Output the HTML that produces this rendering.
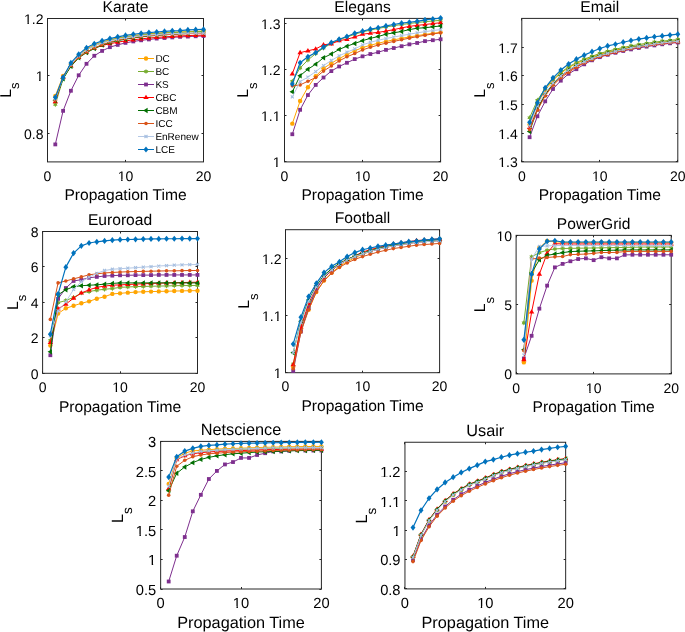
<!DOCTYPE html>
<html><head><meta charset="utf-8"><style>
html,body{margin:0;padding:0;background:#fff;overflow:hidden}
svg{display:block;will-change:transform;opacity:0.999}
.t{font-family:"Liberation Sans",sans-serif;font-size:14px;fill:#000;text-rendering:geometricPrecision}
.l{font-family:"Liberation Sans",sans-serif;font-size:15.7px;fill:#000}
.g{font-family:"Liberation Sans",sans-serif;font-size:10.2px;fill:#000}
</style></head><body>
<svg width="685" height="632" viewBox="0 0 685 632">
<rect width="685" height="632" fill="#fff"/>
<defs><clipPath id="cKarate"><rect x="43.5" y="14.5" width="164.0" height="151.4"/></clipPath></defs>
<rect x="47.5" y="18.5" width="156.0" height="143.4" fill="none" stroke="#262626" stroke-width="1"/>
<path d="M47.50,161.9v-2.0M47.50,18.5v2.0M125.50,161.9v-2.0M125.50,18.5v2.0M203.50,161.9v-2.0M203.50,18.5v2.0M47.5,133.50h2.0M203.5,133.50h-2.0M47.5,75.50h2.0M203.5,75.50h-2.0M47.5,18.50h2.0M203.5,18.50h-2.0" stroke="#262626" stroke-width="1" fill="none"/>
<g clip-path="url(#cKarate)">
<polyline points="55.30,95.94 63.10,75.86 70.90,64.39 78.70,55.78 86.50,49.19 94.30,44.89 102.10,42.02 109.90,39.72 117.70,38.00 125.50,36.57 133.30,35.42 141.10,34.56 148.90,33.70 156.70,33.13 164.50,32.55 172.30,32.27 180.10,31.98 187.90,31.69 195.70,31.41 203.50,31.12" fill="none" stroke="#FFA500" stroke-width="1.0" stroke-linejoin="round"/>
<circle cx="55.30" cy="95.94" r="2.2" fill="#FFA500"/>
<circle cx="63.10" cy="75.86" r="2.2" fill="#FFA500"/>
<circle cx="70.90" cy="64.39" r="2.2" fill="#FFA500"/>
<circle cx="78.70" cy="55.78" r="2.2" fill="#FFA500"/>
<circle cx="86.50" cy="49.19" r="2.2" fill="#FFA500"/>
<circle cx="94.30" cy="44.89" r="2.2" fill="#FFA500"/>
<circle cx="102.10" cy="42.02" r="2.2" fill="#FFA500"/>
<circle cx="109.90" cy="39.72" r="2.2" fill="#FFA500"/>
<circle cx="117.70" cy="38.00" r="2.2" fill="#FFA500"/>
<circle cx="125.50" cy="36.57" r="2.2" fill="#FFA500"/>
<circle cx="133.30" cy="35.42" r="2.2" fill="#FFA500"/>
<circle cx="141.10" cy="34.56" r="2.2" fill="#FFA500"/>
<circle cx="148.90" cy="33.70" r="2.2" fill="#FFA500"/>
<circle cx="156.70" cy="33.13" r="2.2" fill="#FFA500"/>
<circle cx="164.50" cy="32.55" r="2.2" fill="#FFA500"/>
<circle cx="172.30" cy="32.27" r="2.2" fill="#FFA500"/>
<circle cx="180.10" cy="31.98" r="2.2" fill="#FFA500"/>
<circle cx="187.90" cy="31.69" r="2.2" fill="#FFA500"/>
<circle cx="195.70" cy="31.41" r="2.2" fill="#FFA500"/>
<circle cx="203.50" cy="31.12" r="2.2" fill="#FFA500"/>
<polyline points="55.30,104.54 63.10,78.73 70.90,65.82 78.70,57.22 86.50,50.05 94.30,45.75 102.10,42.88 109.90,40.30 117.70,38.58 125.50,37.14 133.30,35.99 141.10,35.13 148.90,34.27 156.70,33.70 164.50,33.13 172.30,32.55 180.10,32.27 187.90,31.98 195.70,31.69 203.50,31.41" fill="none" stroke="#77AC30" stroke-width="1.0" stroke-linejoin="round"/>
<polygon points="55.30,101.94 54.55,103.24 53.05,103.24 53.80,104.54 53.05,105.84 54.55,105.84 55.30,107.14 56.05,105.84 57.55,105.84 56.80,104.54 57.55,103.24 56.05,103.24" fill="#77AC30"/>
<polygon points="63.10,76.13 62.35,77.43 60.85,77.43 61.60,78.73 60.85,80.03 62.35,80.03 63.10,81.33 63.85,80.03 65.35,80.03 64.60,78.73 65.35,77.43 63.85,77.43" fill="#77AC30"/>
<polygon points="70.90,63.22 70.15,64.52 68.65,64.52 69.40,65.82 68.65,67.12 70.15,67.12 70.90,68.42 71.65,67.12 73.15,67.12 72.40,65.82 73.15,64.52 71.65,64.52" fill="#77AC30"/>
<polygon points="78.70,54.62 77.95,55.92 76.45,55.92 77.20,57.22 76.45,58.52 77.95,58.52 78.70,59.82 79.45,58.52 80.95,58.52 80.20,57.22 80.95,55.92 79.45,55.92" fill="#77AC30"/>
<polygon points="86.50,47.45 85.75,48.75 84.25,48.75 85.00,50.05 84.25,51.35 85.75,51.35 86.50,52.65 87.25,51.35 88.75,51.35 88.00,50.05 88.75,48.75 87.25,48.75" fill="#77AC30"/>
<polygon points="94.30,43.15 93.55,44.45 92.05,44.45 92.80,45.75 92.05,47.05 93.55,47.05 94.30,48.35 95.05,47.05 96.55,47.05 95.80,45.75 96.55,44.45 95.05,44.45" fill="#77AC30"/>
<polygon points="102.10,40.28 101.35,41.58 99.85,41.58 100.60,42.88 99.85,44.18 101.35,44.18 102.10,45.48 102.85,44.18 104.35,44.18 103.60,42.88 104.35,41.58 102.85,41.58" fill="#77AC30"/>
<polygon points="109.90,37.70 109.15,39.00 107.65,39.00 108.40,40.30 107.65,41.60 109.15,41.60 109.90,42.90 110.65,41.60 112.15,41.60 111.40,40.30 112.15,39.00 110.65,39.00" fill="#77AC30"/>
<polygon points="117.70,35.98 116.95,37.28 115.45,37.28 116.20,38.58 115.45,39.88 116.95,39.88 117.70,41.18 118.45,39.88 119.95,39.88 119.20,38.58 119.95,37.28 118.45,37.28" fill="#77AC30"/>
<polygon points="125.50,34.54 124.75,35.84 123.25,35.84 124.00,37.14 123.25,38.44 124.75,38.44 125.50,39.74 126.25,38.44 127.75,38.44 127.00,37.14 127.75,35.84 126.25,35.84" fill="#77AC30"/>
<polygon points="133.30,33.39 132.55,34.70 131.05,34.69 131.80,35.99 131.05,37.29 132.55,37.29 133.30,38.59 134.05,37.29 135.55,37.29 134.80,35.99 135.55,34.69 134.05,34.70" fill="#77AC30"/>
<polygon points="141.10,32.53 140.35,33.84 138.85,33.83 139.60,35.13 138.85,36.43 140.35,36.43 141.10,37.73 141.85,36.43 143.35,36.43 142.60,35.13 143.35,33.83 141.85,33.84" fill="#77AC30"/>
<polygon points="148.90,31.67 148.15,32.97 146.65,32.97 147.40,34.27 146.65,35.57 148.15,35.57 148.90,36.87 149.65,35.57 151.15,35.57 150.40,34.27 151.15,32.97 149.65,32.97" fill="#77AC30"/>
<polygon points="156.70,31.10 155.95,32.40 154.45,32.40 155.20,33.70 154.45,35.00 155.95,35.00 156.70,36.30 157.45,35.00 158.95,35.00 158.20,33.70 158.95,32.40 157.45,32.40" fill="#77AC30"/>
<polygon points="164.50,30.53 163.75,31.83 162.25,31.83 163.00,33.13 162.25,34.43 163.75,34.43 164.50,35.73 165.25,34.43 166.75,34.43 166.00,33.13 166.75,31.83 165.25,31.83" fill="#77AC30"/>
<polygon points="172.30,29.95 171.55,31.25 170.05,31.25 170.80,32.55 170.05,33.85 171.55,33.85 172.30,35.15 173.05,33.85 174.55,33.85 173.80,32.55 174.55,31.25 173.05,31.25" fill="#77AC30"/>
<polygon points="180.10,29.67 179.35,30.97 177.85,30.97 178.60,32.27 177.85,33.57 179.35,33.57 180.10,34.87 180.85,33.57 182.35,33.57 181.60,32.27 182.35,30.97 180.85,30.97" fill="#77AC30"/>
<polygon points="187.90,29.38 187.15,30.68 185.65,30.68 186.40,31.98 185.65,33.28 187.15,33.28 187.90,34.58 188.65,33.28 190.15,33.28 189.40,31.98 190.15,30.68 188.65,30.68" fill="#77AC30"/>
<polygon points="195.70,29.09 194.95,30.39 193.45,30.39 194.20,31.69 193.45,32.99 194.95,32.99 195.70,34.29 196.45,32.99 197.95,32.99 197.20,31.69 197.95,30.39 196.45,30.39" fill="#77AC30"/>
<polygon points="203.50,28.81 202.75,30.11 201.25,30.11 202.00,31.41 201.25,32.71 202.75,32.71 203.50,34.01 204.25,32.71 205.75,32.71 205.00,31.41 205.75,30.11 204.25,30.11" fill="#77AC30"/>
<polyline points="55.30,144.41 63.10,110.85 70.90,90.77 78.70,75.29 86.50,63.81 94.30,55.78 102.10,50.91 109.90,47.18 117.70,44.89 125.50,42.88 133.30,41.44 141.10,40.30 148.90,39.44 156.70,38.58 164.50,38.00 172.30,37.43 180.10,36.86 187.90,36.57 195.70,36.28 203.50,35.99" fill="none" stroke="#7E2F8E" stroke-width="1.0" stroke-linejoin="round"/>
<rect x="53.40" y="142.51" width="3.8" height="3.8" fill="#7E2F8E"/>
<rect x="61.20" y="108.95" width="3.8" height="3.8" fill="#7E2F8E"/>
<rect x="69.00" y="88.87" width="3.8" height="3.8" fill="#7E2F8E"/>
<rect x="76.80" y="73.39" width="3.8" height="3.8" fill="#7E2F8E"/>
<rect x="84.60" y="61.91" width="3.8" height="3.8" fill="#7E2F8E"/>
<rect x="92.40" y="53.88" width="3.8" height="3.8" fill="#7E2F8E"/>
<rect x="100.20" y="49.01" width="3.8" height="3.8" fill="#7E2F8E"/>
<rect x="108.00" y="45.28" width="3.8" height="3.8" fill="#7E2F8E"/>
<rect x="115.80" y="42.99" width="3.8" height="3.8" fill="#7E2F8E"/>
<rect x="123.60" y="40.98" width="3.8" height="3.8" fill="#7E2F8E"/>
<rect x="131.40" y="39.54" width="3.8" height="3.8" fill="#7E2F8E"/>
<rect x="139.20" y="38.40" width="3.8" height="3.8" fill="#7E2F8E"/>
<rect x="147.00" y="37.54" width="3.8" height="3.8" fill="#7E2F8E"/>
<rect x="154.80" y="36.68" width="3.8" height="3.8" fill="#7E2F8E"/>
<rect x="162.60" y="36.10" width="3.8" height="3.8" fill="#7E2F8E"/>
<rect x="170.40" y="35.53" width="3.8" height="3.8" fill="#7E2F8E"/>
<rect x="178.20" y="34.96" width="3.8" height="3.8" fill="#7E2F8E"/>
<rect x="186.00" y="34.67" width="3.8" height="3.8" fill="#7E2F8E"/>
<rect x="193.80" y="34.38" width="3.8" height="3.8" fill="#7E2F8E"/>
<rect x="201.60" y="34.09" width="3.8" height="3.8" fill="#7E2F8E"/>
<polyline points="55.30,101.67 63.10,77.29 70.90,65.82 78.70,57.50 86.50,52.06 94.30,48.04 102.10,45.46 109.90,43.74 117.70,42.19 125.50,40.87 133.30,39.81 141.10,38.87 148.90,38.06 156.70,37.43 164.50,36.89 172.30,36.39 180.10,35.95 187.90,35.57 195.70,35.30 203.50,35.13" fill="none" stroke="#FF0000" stroke-width="1.0" stroke-linejoin="round"/>
<path d="M55.30,98.87L58.00,103.27L52.60,103.27Z" fill="#FF0000"/>
<path d="M63.10,74.49L65.80,78.89L60.40,78.89Z" fill="#FF0000"/>
<path d="M70.90,63.02L73.60,67.42L68.20,67.42Z" fill="#FF0000"/>
<path d="M78.70,54.70L81.40,59.10L76.00,59.10Z" fill="#FF0000"/>
<path d="M86.50,49.26L89.20,53.66L83.80,53.66Z" fill="#FF0000"/>
<path d="M94.30,45.24L97.00,49.64L91.60,49.64Z" fill="#FF0000"/>
<path d="M102.10,42.66L104.80,47.06L99.40,47.06Z" fill="#FF0000"/>
<path d="M109.90,40.94L112.60,45.34L107.20,45.34Z" fill="#FF0000"/>
<path d="M117.70,39.39L120.40,43.79L115.00,43.79Z" fill="#FF0000"/>
<path d="M125.50,38.07L128.20,42.47L122.80,42.47Z" fill="#FF0000"/>
<path d="M133.30,37.01L136.00,41.41L130.60,41.41Z" fill="#FF0000"/>
<path d="M141.10,36.07L143.80,40.47L138.40,40.47Z" fill="#FF0000"/>
<path d="M148.90,35.26L151.60,39.66L146.20,39.66Z" fill="#FF0000"/>
<path d="M156.70,34.63L159.40,39.03L154.00,39.03Z" fill="#FF0000"/>
<path d="M164.50,34.09L167.20,38.49L161.80,38.49Z" fill="#FF0000"/>
<path d="M172.30,33.59L175.00,37.99L169.60,37.99Z" fill="#FF0000"/>
<path d="M180.10,33.15L182.80,37.55L177.40,37.55Z" fill="#FF0000"/>
<path d="M187.90,32.77L190.60,37.17L185.20,37.17Z" fill="#FF0000"/>
<path d="M195.70,32.50L198.40,36.90L193.00,36.90Z" fill="#FF0000"/>
<path d="M203.50,32.33L206.20,36.73L200.80,36.73Z" fill="#FF0000"/>
<polyline points="55.30,100.24 63.10,78.73 70.90,66.40 78.70,57.79 86.50,52.63 94.30,48.61 102.10,45.17 109.90,42.59 117.70,40.66 125.50,39.15 133.30,37.97 141.10,36.94 148.90,36.08 156.70,35.42 164.50,34.87 172.30,34.35 180.10,33.90 187.90,33.52 195.70,33.26 203.50,33.13" fill="none" stroke="#006E00" stroke-width="1.0" stroke-linejoin="round"/>
<path d="M52.50,100.24L56.90,97.54L56.90,102.94Z" fill="#006E00"/>
<path d="M60.30,78.73L64.70,76.03L64.70,81.43Z" fill="#006E00"/>
<path d="M68.10,66.40L72.50,63.70L72.50,69.10Z" fill="#006E00"/>
<path d="M75.90,57.79L80.30,55.09L80.30,60.49Z" fill="#006E00"/>
<path d="M83.70,52.63L88.10,49.93L88.10,55.33Z" fill="#006E00"/>
<path d="M91.50,48.61L95.90,45.91L95.90,51.31Z" fill="#006E00"/>
<path d="M99.30,45.17L103.70,42.47L103.70,47.87Z" fill="#006E00"/>
<path d="M107.10,42.59L111.50,39.89L111.50,45.29Z" fill="#006E00"/>
<path d="M114.90,40.66L119.30,37.96L119.30,43.36Z" fill="#006E00"/>
<path d="M122.70,39.15L127.10,36.45L127.10,41.85Z" fill="#006E00"/>
<path d="M130.50,37.97L134.90,35.27L134.90,40.67Z" fill="#006E00"/>
<path d="M138.30,36.94L142.70,34.24L142.70,39.64Z" fill="#006E00"/>
<path d="M146.10,36.08L150.50,33.38L150.50,38.78Z" fill="#006E00"/>
<path d="M153.90,35.42L158.30,32.72L158.30,38.12Z" fill="#006E00"/>
<path d="M161.70,34.87L166.10,32.17L166.10,37.57Z" fill="#006E00"/>
<path d="M169.50,34.35L173.90,31.65L173.90,37.05Z" fill="#006E00"/>
<path d="M177.30,33.90L181.70,31.20L181.70,36.60Z" fill="#006E00"/>
<path d="M185.10,33.52L189.50,30.82L189.50,36.22Z" fill="#006E00"/>
<path d="M192.90,33.26L197.30,30.56L197.30,35.96Z" fill="#006E00"/>
<path d="M200.70,33.13L205.10,30.43L205.10,35.83Z" fill="#006E00"/>
<polyline points="55.30,100.24 63.10,76.72 70.90,65.54 78.70,57.22 86.50,52.06 94.30,48.04 102.10,44.60 109.90,42.02 117.70,40.07 125.50,38.58 133.30,37.45 141.10,36.48 148.90,35.70 156.70,35.13 164.50,34.70 172.30,34.29 180.10,33.94 187.90,33.66 195.70,33.48 203.50,33.41" fill="none" stroke="#D95319" stroke-width="1.0" stroke-linejoin="round"/>
<circle cx="55.30" cy="100.24" r="1.8" fill="#D95319"/>
<circle cx="63.10" cy="76.72" r="1.8" fill="#D95319"/>
<circle cx="70.90" cy="65.54" r="1.8" fill="#D95319"/>
<circle cx="78.70" cy="57.22" r="1.8" fill="#D95319"/>
<circle cx="86.50" cy="52.06" r="1.8" fill="#D95319"/>
<circle cx="94.30" cy="48.04" r="1.8" fill="#D95319"/>
<circle cx="102.10" cy="44.60" r="1.8" fill="#D95319"/>
<circle cx="109.90" cy="42.02" r="1.8" fill="#D95319"/>
<circle cx="117.70" cy="40.07" r="1.8" fill="#D95319"/>
<circle cx="125.50" cy="38.58" r="1.8" fill="#D95319"/>
<circle cx="133.30" cy="37.45" r="1.8" fill="#D95319"/>
<circle cx="141.10" cy="36.48" r="1.8" fill="#D95319"/>
<circle cx="148.90" cy="35.70" r="1.8" fill="#D95319"/>
<circle cx="156.70" cy="35.13" r="1.8" fill="#D95319"/>
<circle cx="164.50" cy="34.70" r="1.8" fill="#D95319"/>
<circle cx="172.30" cy="34.29" r="1.8" fill="#D95319"/>
<circle cx="180.10" cy="33.94" r="1.8" fill="#D95319"/>
<circle cx="187.90" cy="33.66" r="1.8" fill="#D95319"/>
<circle cx="195.70" cy="33.48" r="1.8" fill="#D95319"/>
<circle cx="203.50" cy="33.41" r="1.8" fill="#D95319"/>
<polyline points="55.30,98.80 63.10,77.87 70.90,64.39 78.70,55.78 86.50,50.05 94.30,45.75 102.10,42.88 109.90,40.87 117.70,39.15 125.50,37.72 133.30,36.57 141.10,35.71 148.90,35.13 156.70,34.56 164.50,33.99 172.30,33.70 180.10,33.41 187.90,33.13 195.70,33.13 203.50,33.13" fill="none" stroke="#B4C8E6" stroke-width="1.0" stroke-linejoin="round"/>
<path d="M53.80,97.30L56.80,100.30M53.80,100.30L56.80,97.30" stroke="#A6BFE0" stroke-width="1.1" fill="none"/>
<path d="M61.60,76.37L64.60,79.37M61.60,79.37L64.60,76.37" stroke="#A6BFE0" stroke-width="1.1" fill="none"/>
<path d="M69.40,62.89L72.40,65.89M69.40,65.89L72.40,62.89" stroke="#A6BFE0" stroke-width="1.1" fill="none"/>
<path d="M77.20,54.28L80.20,57.28M77.20,57.28L80.20,54.28" stroke="#A6BFE0" stroke-width="1.1" fill="none"/>
<path d="M85.00,48.55L88.00,51.55M85.00,51.55L88.00,48.55" stroke="#A6BFE0" stroke-width="1.1" fill="none"/>
<path d="M92.80,44.25L95.80,47.25M92.80,47.25L95.80,44.25" stroke="#A6BFE0" stroke-width="1.1" fill="none"/>
<path d="M100.60,41.38L103.60,44.38M100.60,44.38L103.60,41.38" stroke="#A6BFE0" stroke-width="1.1" fill="none"/>
<path d="M108.40,39.37L111.40,42.37M108.40,42.37L111.40,39.37" stroke="#A6BFE0" stroke-width="1.1" fill="none"/>
<path d="M116.20,37.65L119.20,40.65M116.20,40.65L119.20,37.65" stroke="#A6BFE0" stroke-width="1.1" fill="none"/>
<path d="M124.00,36.22L127.00,39.22M124.00,39.22L127.00,36.22" stroke="#A6BFE0" stroke-width="1.1" fill="none"/>
<path d="M131.80,35.07L134.80,38.07M131.80,38.07L134.80,35.07" stroke="#A6BFE0" stroke-width="1.1" fill="none"/>
<path d="M139.60,34.21L142.60,37.21M139.60,37.21L142.60,34.21" stroke="#A6BFE0" stroke-width="1.1" fill="none"/>
<path d="M147.40,33.63L150.40,36.63M147.40,36.63L150.40,33.63" stroke="#A6BFE0" stroke-width="1.1" fill="none"/>
<path d="M155.20,33.06L158.20,36.06M155.20,36.06L158.20,33.06" stroke="#A6BFE0" stroke-width="1.1" fill="none"/>
<path d="M163.00,32.49L166.00,35.49M163.00,35.49L166.00,32.49" stroke="#A6BFE0" stroke-width="1.1" fill="none"/>
<path d="M170.80,32.20L173.80,35.20M170.80,35.20L173.80,32.20" stroke="#A6BFE0" stroke-width="1.1" fill="none"/>
<path d="M178.60,31.91L181.60,34.91M178.60,34.91L181.60,31.91" stroke="#A6BFE0" stroke-width="1.1" fill="none"/>
<path d="M186.40,31.63L189.40,34.63M186.40,34.63L189.40,31.63" stroke="#A6BFE0" stroke-width="1.1" fill="none"/>
<path d="M194.20,31.63L197.20,34.63M194.20,34.63L197.20,31.63" stroke="#A6BFE0" stroke-width="1.1" fill="none"/>
<path d="M202.00,31.63L205.00,34.63M202.00,34.63L205.00,31.63" stroke="#A6BFE0" stroke-width="1.1" fill="none"/>
<polyline points="55.30,97.37 63.10,77.29 70.90,62.95 78.70,54.35 86.50,47.75 94.30,43.74 102.10,40.87 109.90,38.58 117.70,36.86 125.50,35.42 133.30,34.27 141.10,33.41 148.90,32.55 156.70,31.98 164.50,31.41 172.30,30.83 180.10,30.55 187.90,29.97 195.70,29.69 203.50,29.40" fill="none" stroke="#0072BD" stroke-width="1.2" stroke-linejoin="round"/>
<path d="M55.30,94.27L57.75,97.37L55.30,100.47L52.85,97.37Z" fill="#0072BD"/>
<path d="M63.10,74.19L65.55,77.29L63.10,80.39L60.65,77.29Z" fill="#0072BD"/>
<path d="M70.90,59.85L73.35,62.95L70.90,66.05L68.45,62.95Z" fill="#0072BD"/>
<path d="M78.70,51.25L81.15,54.35L78.70,57.45L76.25,54.35Z" fill="#0072BD"/>
<path d="M86.50,44.65L88.95,47.75L86.50,50.85L84.05,47.75Z" fill="#0072BD"/>
<path d="M94.30,40.64L96.75,43.74L94.30,46.84L91.85,43.74Z" fill="#0072BD"/>
<path d="M102.10,37.77L104.55,40.87L102.10,43.97L99.65,40.87Z" fill="#0072BD"/>
<path d="M109.90,35.48L112.35,38.58L109.90,41.68L107.45,38.58Z" fill="#0072BD"/>
<path d="M117.70,33.76L120.15,36.86L117.70,39.96L115.25,36.86Z" fill="#0072BD"/>
<path d="M125.50,32.32L127.95,35.42L125.50,38.52L123.05,35.42Z" fill="#0072BD"/>
<path d="M133.30,31.17L135.75,34.27L133.30,37.37L130.85,34.27Z" fill="#0072BD"/>
<path d="M141.10,30.31L143.55,33.41L141.10,36.51L138.65,33.41Z" fill="#0072BD"/>
<path d="M148.90,29.45L151.35,32.55L148.90,35.65L146.45,32.55Z" fill="#0072BD"/>
<path d="M156.70,28.88L159.15,31.98L156.70,35.08L154.25,31.98Z" fill="#0072BD"/>
<path d="M164.50,28.31L166.95,31.41L164.50,34.51L162.05,31.41Z" fill="#0072BD"/>
<path d="M172.30,27.73L174.75,30.83L172.30,33.93L169.85,30.83Z" fill="#0072BD"/>
<path d="M180.10,27.45L182.55,30.55L180.10,33.65L177.65,30.55Z" fill="#0072BD"/>
<path d="M187.90,26.87L190.35,29.97L187.90,33.07L185.45,29.97Z" fill="#0072BD"/>
<path d="M195.70,26.59L198.15,29.69L195.70,32.79L193.25,29.69Z" fill="#0072BD"/>
<path d="M203.50,26.30L205.95,29.40L203.50,32.50L201.05,29.40Z" fill="#0072BD"/>
</g>
<text x="47.50" y="180.50" text-anchor="middle" style="font-size:14px" class="t">0</text>
<text x="125.50" y="180.50" text-anchor="middle" style="font-size:14px" class="t" clip-path="url(#k0)">10</text>
<text x="203.50" y="180.50" text-anchor="middle" style="font-size:14px" class="t">20</text>
<text x="43.50" y="138.62" text-anchor="end" style="font-size:14px" class="t">0.8</text>
<text x="43.50" y="81.26" text-anchor="end" style="font-size:14px" class="t" clip-path="url(#k1)">1</text>
<text x="43.50" y="23.90" text-anchor="end" style="font-size:14px" class="t" clip-path="url(#k2)">1.2</text>
<text x="125.50" y="11.90" text-anchor="middle" style="font-size:15.6px" class="t">Karate</text>
<text x="125.50" y="200.20" text-anchor="middle" style="font-size:15.6px" class="t">Propagation Time</text>
<g transform="translate(10.50,90.20) rotate(-90)"><text x="-7.59" y="0.00" text-anchor="start" style="font-size:15.6px" class="t">L</text><text x="1.09" y="8.80" text-anchor="start" style="font-size:13px" class="t">s</text></g>
<path d="M138,58.50h16" stroke="#FFA500" stroke-width="1"/>
<circle cx="146.00" cy="58.50" r="2.2" fill="#FFA500"/>
<text x="155.40" y="62.20" text-anchor="start" style="font-size:10.0px" class="t">DC</text>
<path d="M138,71.50h16" stroke="#77AC30" stroke-width="1"/>
<polygon points="146.00,68.90 145.25,70.20 143.75,70.20 144.50,71.50 143.75,72.80 145.25,72.80 146.00,74.10 146.75,72.80 148.25,72.80 147.50,71.50 148.25,70.20 146.75,70.20" fill="#77AC30"/>
<text x="155.40" y="75.20" text-anchor="start" style="font-size:10.0px" class="t">BC</text>
<path d="M138,84.50h16" stroke="#7E2F8E" stroke-width="1"/>
<rect x="144.10" y="82.60" width="3.8" height="3.8" fill="#7E2F8E"/>
<text x="155.40" y="88.20" text-anchor="start" style="font-size:10.0px" class="t">KS</text>
<path d="M138,97.50h16" stroke="#FF0000" stroke-width="1"/>
<path d="M146.00,94.70L148.70,99.10L143.30,99.10Z" fill="#FF0000"/>
<text x="155.40" y="101.20" text-anchor="start" style="font-size:10.0px" class="t">CBC</text>
<path d="M138,110.50h16" stroke="#006E00" stroke-width="1"/>
<path d="M143.20,110.50L147.60,107.80L147.60,113.20Z" fill="#006E00"/>
<text x="155.40" y="114.20" text-anchor="start" style="font-size:10.0px" class="t">CBM</text>
<path d="M138,123.50h16" stroke="#D95319" stroke-width="1"/>
<circle cx="146.00" cy="123.50" r="1.8" fill="#D95319"/>
<text x="155.40" y="127.20" text-anchor="start" style="font-size:10.0px" class="t">ICC</text>
<path d="M138,136.50h16" stroke="#B4C8E6" stroke-width="1"/>
<path d="M144.50,135.00L147.50,138.00M144.50,138.00L147.50,135.00" stroke="#A6BFE0" stroke-width="1.1" fill="none"/>
<text x="155.40" y="140.20" text-anchor="start" style="font-size:10.0px" class="t">EnRenew</text>
<path d="M138,149.50h16" stroke="#0072BD" stroke-width="1"/>
<path d="M146.00,146.40L148.45,149.50L146.00,152.60L143.55,149.50Z" fill="#0072BD"/>
<text x="155.40" y="153.20" text-anchor="start" style="font-size:10.0px" class="t">LCE</text>
<defs><clipPath id="cElegans"><rect x="280.5" y="14.399999999999999" width="164.10000000000002" height="151.5"/></clipPath></defs>
<rect x="284.5" y="18.4" width="156.10000000000002" height="143.5" fill="none" stroke="#262626" stroke-width="1"/>
<path d="M284.50,161.9v-2.0M284.50,18.4v2.0M362.50,161.9v-2.0M362.50,18.4v2.0M440.50,161.9v-2.0M440.50,18.4v2.0M284.5,161.50h2.0M440.6,161.50h-2.0M284.5,115.50h2.0M440.6,115.50h-2.0M284.5,69.50h2.0M440.6,69.50h-2.0M284.5,23.50h2.0M440.6,23.50h-2.0" stroke="#262626" stroke-width="1" fill="none"/>
<g clip-path="url(#cElegans)">
<polyline points="292.31,123.64 300.11,101.05 307.92,87.22 315.72,76.16 323.52,68.32 331.33,63.25 339.13,58.64 346.94,54.49 354.75,50.81 362.55,47.58 370.36,45.25 378.16,43.23 385.97,41.45 393.77,39.85 401.58,38.36 409.38,36.95 417.19,35.63 424.99,34.41 432.80,33.32 440.60,32.37" fill="none" stroke="#FFA500" stroke-width="1.0" stroke-linejoin="round"/>
<circle cx="292.31" cy="123.64" r="2.2" fill="#FFA500"/>
<circle cx="300.11" cy="101.05" r="2.2" fill="#FFA500"/>
<circle cx="307.92" cy="87.22" r="2.2" fill="#FFA500"/>
<circle cx="315.72" cy="76.16" r="2.2" fill="#FFA500"/>
<circle cx="323.52" cy="68.32" r="2.2" fill="#FFA500"/>
<circle cx="331.33" cy="63.25" r="2.2" fill="#FFA500"/>
<circle cx="339.13" cy="58.64" r="2.2" fill="#FFA500"/>
<circle cx="346.94" cy="54.49" r="2.2" fill="#FFA500"/>
<circle cx="354.75" cy="50.81" r="2.2" fill="#FFA500"/>
<circle cx="362.55" cy="47.58" r="2.2" fill="#FFA500"/>
<circle cx="370.36" cy="45.25" r="2.2" fill="#FFA500"/>
<circle cx="378.16" cy="43.23" r="2.2" fill="#FFA500"/>
<circle cx="385.97" cy="41.45" r="2.2" fill="#FFA500"/>
<circle cx="393.77" cy="39.85" r="2.2" fill="#FFA500"/>
<circle cx="401.58" cy="38.36" r="2.2" fill="#FFA500"/>
<circle cx="409.38" cy="36.95" r="2.2" fill="#FFA500"/>
<circle cx="417.19" cy="35.63" r="2.2" fill="#FFA500"/>
<circle cx="424.99" cy="34.41" r="2.2" fill="#FFA500"/>
<circle cx="432.80" cy="33.32" r="2.2" fill="#FFA500"/>
<circle cx="440.60" cy="32.37" r="2.2" fill="#FFA500"/>
<polyline points="292.31,81.23 300.11,67.86 307.92,60.03 315.72,53.57 323.52,48.04 331.33,43.43 339.13,39.74 346.94,36.98 354.75,34.21 362.55,31.91 370.36,30.10 378.16,28.46 385.97,26.98 393.77,25.68 401.58,24.53 409.38,23.50 417.19,22.55 424.99,21.70 432.80,20.97 440.60,20.38" fill="none" stroke="#77AC30" stroke-width="1.0" stroke-linejoin="round"/>
<polygon points="292.31,78.63 291.56,79.93 290.05,79.93 290.81,81.23 290.05,82.53 291.56,82.53 292.31,83.83 293.06,82.53 294.56,82.53 293.81,81.23 294.56,79.93 293.06,79.93" fill="#77AC30"/>
<polygon points="300.11,65.26 299.36,66.56 297.86,66.56 298.61,67.86 297.86,69.16 299.36,69.16 300.11,70.46 300.86,69.16 302.36,69.16 301.61,67.86 302.36,66.56 300.86,66.56" fill="#77AC30"/>
<polygon points="307.92,57.43 307.17,58.73 305.66,58.73 306.42,60.03 305.66,61.33 307.17,61.32 307.92,62.63 308.67,61.32 310.17,61.33 309.42,60.03 310.17,58.73 308.67,58.73" fill="#77AC30"/>
<polygon points="315.72,50.97 314.97,52.27 313.47,52.27 314.22,53.57 313.47,54.87 314.97,54.87 315.72,56.17 316.47,54.87 317.97,54.87 317.22,53.57 317.97,52.27 316.47,52.27" fill="#77AC30"/>
<polygon points="323.52,45.44 322.77,46.74 321.27,46.74 322.02,48.04 321.27,49.34 322.77,49.34 323.52,50.64 324.27,49.34 325.78,49.34 325.02,48.04 325.78,46.74 324.27,46.74" fill="#77AC30"/>
<polygon points="331.33,40.83 330.58,42.13 329.08,42.13 329.83,43.43 329.08,44.73 330.58,44.73 331.33,46.03 332.08,44.73 333.58,44.73 332.83,43.43 333.58,42.13 332.08,42.13" fill="#77AC30"/>
<polygon points="339.13,37.14 338.38,38.44 336.88,38.44 337.63,39.74 336.88,41.04 338.38,41.04 339.13,42.34 339.88,41.04 341.39,41.04 340.63,39.74 341.39,38.44 339.88,38.44" fill="#77AC30"/>
<polygon points="346.94,34.38 346.19,35.68 344.69,35.68 345.44,36.98 344.69,38.28 346.19,38.28 346.94,39.58 347.69,38.28 349.19,38.28 348.44,36.98 349.19,35.68 347.69,35.68" fill="#77AC30"/>
<polygon points="354.75,31.61 354.00,32.91 352.49,32.91 353.25,34.21 352.49,35.51 354.00,35.51 354.75,36.81 355.50,35.51 357.00,35.51 356.25,34.21 357.00,32.91 355.50,32.91" fill="#77AC30"/>
<polygon points="362.55,29.31 361.80,30.61 360.30,30.61 361.05,31.91 360.30,33.21 361.80,33.21 362.55,34.51 363.30,33.21 364.80,33.21 364.05,31.91 364.80,30.61 363.30,30.61" fill="#77AC30"/>
<polygon points="370.36,27.50 369.61,28.80 368.10,28.80 368.86,30.10 368.10,31.40 369.61,31.40 370.36,32.70 371.11,31.40 372.61,31.40 371.86,30.10 372.61,28.80 371.11,28.80" fill="#77AC30"/>
<polygon points="378.16,25.86 377.41,27.16 375.91,27.16 376.66,28.46 375.91,29.76 377.41,29.76 378.16,31.06 378.91,29.76 380.41,29.76 379.66,28.46 380.41,27.16 378.91,27.16" fill="#77AC30"/>
<polygon points="385.97,24.38 385.22,25.68 383.71,25.68 384.47,26.98 383.71,28.28 385.22,28.28 385.97,29.58 386.72,28.28 388.22,28.28 387.47,26.98 388.22,25.68 386.72,25.68" fill="#77AC30"/>
<polygon points="393.77,23.08 393.02,24.38 391.52,24.38 392.27,25.68 391.52,26.98 393.02,26.97 393.77,28.28 394.52,26.97 396.02,26.98 395.27,25.68 396.02,24.38 394.52,24.38" fill="#77AC30"/>
<polygon points="401.58,21.93 400.83,23.23 399.32,23.23 400.08,24.53 399.32,25.83 400.83,25.83 401.58,27.13 402.33,25.83 403.83,25.83 403.08,24.53 403.83,23.23 402.33,23.23" fill="#77AC30"/>
<polygon points="409.38,20.90 408.63,22.20 407.13,22.20 407.88,23.50 407.13,24.80 408.63,24.80 409.38,26.10 410.13,24.80 411.63,24.80 410.88,23.50 411.63,22.20 410.13,22.20" fill="#77AC30"/>
<polygon points="417.19,19.95 416.44,21.25 414.93,21.25 415.69,22.55 414.93,23.85 416.44,23.85 417.19,25.15 417.94,23.85 419.44,23.85 418.69,22.55 419.44,21.25 417.94,21.25" fill="#77AC30"/>
<polygon points="424.99,19.10 424.24,20.40 422.74,20.40 423.49,21.70 422.74,23.00 424.24,23.00 424.99,24.30 425.74,23.00 427.24,23.00 426.49,21.70 427.24,20.40 425.74,20.40" fill="#77AC30"/>
<polygon points="432.80,18.37 432.05,19.67 430.54,19.67 431.30,20.97 430.54,22.27 432.05,22.27 432.80,23.57 433.55,22.27 435.05,22.27 434.30,20.97 435.05,19.67 433.55,19.67" fill="#77AC30"/>
<polygon points="440.60,17.78 439.85,19.08 438.35,19.08 439.10,20.38 438.35,21.68 439.85,21.68 440.60,22.98 441.35,21.68 442.85,21.68 442.10,20.38 442.85,19.08 441.35,19.08" fill="#77AC30"/>
<polyline points="292.31,134.24 300.11,109.81 307.92,95.06 315.72,84.92 323.52,77.54 331.33,71.09 339.13,66.48 346.94,62.79 354.75,59.10 362.55,56.34 370.36,54.03 378.16,52.19 385.97,49.88 393.77,48.04 401.58,46.20 409.38,44.35 417.19,42.97 424.99,41.13 432.80,40.20 440.60,39.28" fill="none" stroke="#7E2F8E" stroke-width="1.0" stroke-linejoin="round"/>
<rect x="290.41" y="132.34" width="3.8" height="3.8" fill="#7E2F8E"/>
<rect x="298.21" y="107.91" width="3.8" height="3.8" fill="#7E2F8E"/>
<rect x="306.02" y="93.16" width="3.8" height="3.8" fill="#7E2F8E"/>
<rect x="313.82" y="83.02" width="3.8" height="3.8" fill="#7E2F8E"/>
<rect x="321.62" y="75.64" width="3.8" height="3.8" fill="#7E2F8E"/>
<rect x="329.43" y="69.19" width="3.8" height="3.8" fill="#7E2F8E"/>
<rect x="337.24" y="64.58" width="3.8" height="3.8" fill="#7E2F8E"/>
<rect x="345.04" y="60.89" width="3.8" height="3.8" fill="#7E2F8E"/>
<rect x="352.85" y="57.20" width="3.8" height="3.8" fill="#7E2F8E"/>
<rect x="360.65" y="54.44" width="3.8" height="3.8" fill="#7E2F8E"/>
<rect x="368.46" y="52.13" width="3.8" height="3.8" fill="#7E2F8E"/>
<rect x="376.26" y="50.29" width="3.8" height="3.8" fill="#7E2F8E"/>
<rect x="384.07" y="47.98" width="3.8" height="3.8" fill="#7E2F8E"/>
<rect x="391.87" y="46.14" width="3.8" height="3.8" fill="#7E2F8E"/>
<rect x="399.68" y="44.30" width="3.8" height="3.8" fill="#7E2F8E"/>
<rect x="407.48" y="42.45" width="3.8" height="3.8" fill="#7E2F8E"/>
<rect x="415.29" y="41.07" width="3.8" height="3.8" fill="#7E2F8E"/>
<rect x="423.09" y="39.23" width="3.8" height="3.8" fill="#7E2F8E"/>
<rect x="430.90" y="38.30" width="3.8" height="3.8" fill="#7E2F8E"/>
<rect x="438.70" y="37.38" width="3.8" height="3.8" fill="#7E2F8E"/>
<polyline points="292.31,73.85 300.11,52.65 307.92,50.81 315.72,48.96 323.52,44.81 331.33,43.89 339.13,40.66 346.94,39.28 354.75,36.98 362.55,34.21 370.36,33.20 378.16,32.37 385.97,31.08 393.77,29.60 401.58,27.91 409.38,26.37 417.19,25.39 424.99,24.53 432.80,23.61 440.60,22.69" fill="none" stroke="#FF0000" stroke-width="1.0" stroke-linejoin="round"/>
<path d="M292.31,71.05L295.00,75.45L289.61,75.45Z" fill="#FF0000"/>
<path d="M300.11,49.85L302.81,54.25L297.41,54.25Z" fill="#FF0000"/>
<path d="M307.92,48.01L310.62,52.41L305.22,52.41Z" fill="#FF0000"/>
<path d="M315.72,46.16L318.42,50.56L313.02,50.56Z" fill="#FF0000"/>
<path d="M323.52,42.01L326.22,46.41L320.82,46.41Z" fill="#FF0000"/>
<path d="M331.33,41.09L334.03,45.49L328.63,45.49Z" fill="#FF0000"/>
<path d="M339.13,37.86L341.83,42.26L336.44,42.26Z" fill="#FF0000"/>
<path d="M346.94,36.48L349.64,40.88L344.24,40.88Z" fill="#FF0000"/>
<path d="M354.75,34.18L357.44,38.58L352.05,38.58Z" fill="#FF0000"/>
<path d="M362.55,31.41L365.25,35.81L359.85,35.81Z" fill="#FF0000"/>
<path d="M370.36,30.40L373.06,34.80L367.66,34.80Z" fill="#FF0000"/>
<path d="M378.16,29.57L380.86,33.97L375.46,33.97Z" fill="#FF0000"/>
<path d="M385.97,28.28L388.67,32.68L383.27,32.68Z" fill="#FF0000"/>
<path d="M393.77,26.80L396.47,31.20L391.07,31.20Z" fill="#FF0000"/>
<path d="M401.58,25.11L404.28,29.51L398.88,29.51Z" fill="#FF0000"/>
<path d="M409.38,23.57L412.08,27.97L406.68,27.97Z" fill="#FF0000"/>
<path d="M417.19,22.59L419.88,26.99L414.49,26.99Z" fill="#FF0000"/>
<path d="M424.99,21.73L427.69,26.13L422.29,26.13Z" fill="#FF0000"/>
<path d="M432.80,20.81L435.50,25.21L430.10,25.21Z" fill="#FF0000"/>
<path d="M440.60,19.89L443.30,24.29L437.90,24.29Z" fill="#FF0000"/>
<polyline points="292.31,91.83 300.11,75.70 307.92,69.25 315.72,64.17 323.52,57.72 331.33,54.03 339.13,49.42 346.94,46.20 354.75,43.43 362.55,40.66 370.36,38.36 378.16,36.52 385.97,34.21 393.77,32.83 401.58,31.45 409.38,29.60 417.19,28.22 424.99,27.76 432.80,26.84 440.60,25.91" fill="none" stroke="#006E00" stroke-width="1.0" stroke-linejoin="round"/>
<path d="M289.50,91.83L293.91,89.13L293.91,94.53Z" fill="#006E00"/>
<path d="M297.31,75.70L301.71,73.00L301.71,78.40Z" fill="#006E00"/>
<path d="M305.12,69.25L309.52,66.55L309.52,71.95Z" fill="#006E00"/>
<path d="M312.92,64.17L317.32,61.47L317.32,66.87Z" fill="#006E00"/>
<path d="M320.72,57.72L325.12,55.02L325.12,60.42Z" fill="#006E00"/>
<path d="M328.53,54.03L332.93,51.33L332.93,56.73Z" fill="#006E00"/>
<path d="M336.33,49.42L340.74,46.72L340.74,52.12Z" fill="#006E00"/>
<path d="M344.14,46.20L348.54,43.50L348.54,48.90Z" fill="#006E00"/>
<path d="M351.94,43.43L356.35,40.73L356.35,46.13Z" fill="#006E00"/>
<path d="M359.75,40.66L364.15,37.96L364.15,43.36Z" fill="#006E00"/>
<path d="M367.56,38.36L371.96,35.66L371.96,41.06Z" fill="#006E00"/>
<path d="M375.36,36.52L379.76,33.82L379.76,39.22Z" fill="#006E00"/>
<path d="M383.17,34.21L387.57,31.51L387.57,36.91Z" fill="#006E00"/>
<path d="M390.97,32.83L395.37,30.13L395.37,35.53Z" fill="#006E00"/>
<path d="M398.78,31.45L403.18,28.75L403.18,34.15Z" fill="#006E00"/>
<path d="M406.58,29.60L410.98,26.90L410.98,32.30Z" fill="#006E00"/>
<path d="M414.38,28.22L418.79,25.52L418.79,30.92Z" fill="#006E00"/>
<path d="M422.19,27.76L426.59,25.06L426.59,30.46Z" fill="#006E00"/>
<path d="M430.00,26.84L434.40,24.14L434.40,29.54Z" fill="#006E00"/>
<path d="M437.80,25.91L442.20,23.21L442.20,28.61Z" fill="#006E00"/>
<polyline points="292.31,85.84 300.11,84.92 307.92,81.23 315.72,77.54 323.52,71.09 331.33,66.02 339.13,60.95 346.94,56.80 354.75,53.57 362.55,49.88 370.36,47.30 378.16,45.09 385.97,43.15 393.77,41.40 401.58,39.74 409.38,38.14 417.19,36.63 424.99,35.24 432.80,33.96 440.60,32.83" fill="none" stroke="#D95319" stroke-width="1.0" stroke-linejoin="round"/>
<circle cx="292.31" cy="85.84" r="1.8" fill="#D95319"/>
<circle cx="300.11" cy="84.92" r="1.8" fill="#D95319"/>
<circle cx="307.92" cy="81.23" r="1.8" fill="#D95319"/>
<circle cx="315.72" cy="77.54" r="1.8" fill="#D95319"/>
<circle cx="323.52" cy="71.09" r="1.8" fill="#D95319"/>
<circle cx="331.33" cy="66.02" r="1.8" fill="#D95319"/>
<circle cx="339.13" cy="60.95" r="1.8" fill="#D95319"/>
<circle cx="346.94" cy="56.80" r="1.8" fill="#D95319"/>
<circle cx="354.75" cy="53.57" r="1.8" fill="#D95319"/>
<circle cx="362.55" cy="49.88" r="1.8" fill="#D95319"/>
<circle cx="370.36" cy="47.30" r="1.8" fill="#D95319"/>
<circle cx="378.16" cy="45.09" r="1.8" fill="#D95319"/>
<circle cx="385.97" cy="43.15" r="1.8" fill="#D95319"/>
<circle cx="393.77" cy="41.40" r="1.8" fill="#D95319"/>
<circle cx="401.58" cy="39.74" r="1.8" fill="#D95319"/>
<circle cx="409.38" cy="38.14" r="1.8" fill="#D95319"/>
<circle cx="417.19" cy="36.63" r="1.8" fill="#D95319"/>
<circle cx="424.99" cy="35.24" r="1.8" fill="#D95319"/>
<circle cx="432.80" cy="33.96" r="1.8" fill="#D95319"/>
<circle cx="440.60" cy="32.83" r="1.8" fill="#D95319"/>
<polyline points="292.31,96.90 300.11,81.69 307.92,77.08 315.72,71.55 323.52,65.56 331.33,60.49 339.13,55.88 346.94,52.19 354.75,48.96 362.55,44.81 370.36,42.30 378.16,40.26 385.97,38.55 393.77,37.04 401.58,35.59 409.38,34.18 417.19,32.86 424.99,31.64 432.80,30.55 440.60,29.60" fill="none" stroke="#B4C8E6" stroke-width="1.0" stroke-linejoin="round"/>
<path d="M290.81,95.40L293.81,98.40M290.81,98.40L293.81,95.40" stroke="#A6BFE0" stroke-width="1.1" fill="none"/>
<path d="M298.61,80.19L301.61,83.19M298.61,83.19L301.61,80.19" stroke="#A6BFE0" stroke-width="1.1" fill="none"/>
<path d="M306.42,75.58L309.42,78.58M306.42,78.58L309.42,75.58" stroke="#A6BFE0" stroke-width="1.1" fill="none"/>
<path d="M314.22,70.05L317.22,73.05M314.22,73.05L317.22,70.05" stroke="#A6BFE0" stroke-width="1.1" fill="none"/>
<path d="M322.02,64.06L325.02,67.06M322.02,67.06L325.02,64.06" stroke="#A6BFE0" stroke-width="1.1" fill="none"/>
<path d="M329.83,58.99L332.83,61.99M329.83,61.99L332.83,58.99" stroke="#A6BFE0" stroke-width="1.1" fill="none"/>
<path d="M337.63,54.38L340.63,57.38M337.63,57.38L340.63,54.38" stroke="#A6BFE0" stroke-width="1.1" fill="none"/>
<path d="M345.44,50.69L348.44,53.69M345.44,53.69L348.44,50.69" stroke="#A6BFE0" stroke-width="1.1" fill="none"/>
<path d="M353.25,47.46L356.25,50.46M353.25,50.46L356.25,47.46" stroke="#A6BFE0" stroke-width="1.1" fill="none"/>
<path d="M361.05,43.31L364.05,46.31M361.05,46.31L364.05,43.31" stroke="#A6BFE0" stroke-width="1.1" fill="none"/>
<path d="M368.86,40.80L371.86,43.80M368.86,43.80L371.86,40.80" stroke="#A6BFE0" stroke-width="1.1" fill="none"/>
<path d="M376.66,38.76L379.66,41.76M376.66,41.76L379.66,38.76" stroke="#A6BFE0" stroke-width="1.1" fill="none"/>
<path d="M384.47,37.05L387.47,40.05M384.47,40.05L387.47,37.05" stroke="#A6BFE0" stroke-width="1.1" fill="none"/>
<path d="M392.27,35.54L395.27,38.54M392.27,38.54L395.27,35.54" stroke="#A6BFE0" stroke-width="1.1" fill="none"/>
<path d="M400.08,34.09L403.08,37.09M400.08,37.09L403.08,34.09" stroke="#A6BFE0" stroke-width="1.1" fill="none"/>
<path d="M407.88,32.68L410.88,35.68M407.88,35.68L410.88,32.68" stroke="#A6BFE0" stroke-width="1.1" fill="none"/>
<path d="M415.69,31.36L418.69,34.36M415.69,34.36L418.69,31.36" stroke="#A6BFE0" stroke-width="1.1" fill="none"/>
<path d="M423.49,30.14L426.49,33.14M423.49,33.14L426.49,30.14" stroke="#A6BFE0" stroke-width="1.1" fill="none"/>
<path d="M431.30,29.05L434.30,32.05M431.30,32.05L434.30,29.05" stroke="#A6BFE0" stroke-width="1.1" fill="none"/>
<path d="M439.10,28.10L442.10,31.10M439.10,31.10L442.10,28.10" stroke="#A6BFE0" stroke-width="1.1" fill="none"/>
<polyline points="292.31,84.00 300.11,62.79 307.92,56.80 315.72,52.65 323.52,47.12 331.33,42.51 339.13,39.28 346.94,36.52 354.75,33.29 362.55,31.21 370.36,29.14 378.16,27.76 385.97,25.91 393.77,24.53 401.58,23.15 409.38,22.23 417.19,21.30 424.99,19.92 432.80,19.00 440.60,18.08" fill="none" stroke="#0072BD" stroke-width="1.2" stroke-linejoin="round"/>
<path d="M292.31,80.90L294.75,84.00L292.31,87.10L289.86,84.00Z" fill="#0072BD"/>
<path d="M300.11,59.69L302.56,62.79L300.11,65.89L297.66,62.79Z" fill="#0072BD"/>
<path d="M307.92,53.70L310.37,56.80L307.92,59.90L305.47,56.80Z" fill="#0072BD"/>
<path d="M315.72,49.55L318.17,52.65L315.72,55.75L313.27,52.65Z" fill="#0072BD"/>
<path d="M323.52,44.02L325.97,47.12L323.52,50.22L321.07,47.12Z" fill="#0072BD"/>
<path d="M331.33,39.41L333.78,42.51L331.33,45.61L328.88,42.51Z" fill="#0072BD"/>
<path d="M339.13,36.18L341.58,39.28L339.13,42.38L336.69,39.28Z" fill="#0072BD"/>
<path d="M346.94,33.42L349.39,36.52L346.94,39.62L344.49,36.52Z" fill="#0072BD"/>
<path d="M354.75,30.19L357.19,33.29L354.75,36.39L352.30,33.29Z" fill="#0072BD"/>
<path d="M362.55,28.11L365.00,31.21L362.55,34.31L360.10,31.21Z" fill="#0072BD"/>
<path d="M370.36,26.04L372.81,29.14L370.36,32.24L367.91,29.14Z" fill="#0072BD"/>
<path d="M378.16,24.66L380.61,27.76L378.16,30.86L375.71,27.76Z" fill="#0072BD"/>
<path d="M385.97,22.81L388.42,25.91L385.97,29.01L383.52,25.91Z" fill="#0072BD"/>
<path d="M393.77,21.43L396.22,24.53L393.77,27.63L391.32,24.53Z" fill="#0072BD"/>
<path d="M401.58,20.05L404.03,23.15L401.58,26.25L399.13,23.15Z" fill="#0072BD"/>
<path d="M409.38,19.13L411.83,22.23L409.38,25.33L406.93,22.23Z" fill="#0072BD"/>
<path d="M417.19,18.20L419.63,21.30L417.19,24.40L414.74,21.30Z" fill="#0072BD"/>
<path d="M424.99,16.82L427.44,19.92L424.99,23.02L422.54,19.92Z" fill="#0072BD"/>
<path d="M432.80,15.90L435.25,19.00L432.80,22.10L430.35,19.00Z" fill="#0072BD"/>
<path d="M440.60,14.98L443.05,18.08L440.60,21.18L438.15,18.08Z" fill="#0072BD"/>
</g>
<text x="284.50" y="180.50" text-anchor="middle" style="font-size:14px" class="t">0</text>
<text x="362.55" y="180.50" text-anchor="middle" style="font-size:14px" class="t" clip-path="url(#k3)">10</text>
<text x="440.60" y="180.50" text-anchor="middle" style="font-size:14px" class="t">20</text>
<text x="280.50" y="167.30" text-anchor="end" style="font-size:14px" class="t" clip-path="url(#k4)">1</text>
<text x="280.50" y="121.20" text-anchor="end" style="font-size:14px" class="t" clip-path="url(#k5)">1.1</text>
<text x="280.50" y="75.11" text-anchor="end" style="font-size:14px" class="t" clip-path="url(#k6)">1.2</text>
<text x="280.50" y="29.01" text-anchor="end" style="font-size:14px" class="t" clip-path="url(#k7)">1.3</text>
<text x="362.55" y="11.80" text-anchor="middle" style="font-size:15.6px" class="t">Elegans</text>
<text x="362.55" y="200.20" text-anchor="middle" style="font-size:15.6px" class="t">Propagation Time</text>
<g transform="translate(248.00,90.15) rotate(-90)"><text x="-7.59" y="0.00" text-anchor="start" style="font-size:15.6px" class="t">L</text><text x="1.09" y="8.80" text-anchor="start" style="font-size:13px" class="t">s</text></g>
<defs><clipPath id="cEmail"><rect x="517.8" y="14.399999999999999" width="164.0" height="151.5"/></clipPath></defs>
<rect x="521.8" y="18.4" width="156.0" height="143.5" fill="none" stroke="#262626" stroke-width="1"/>
<path d="M521.50,161.9v-2.0M521.50,18.4v2.0M599.50,161.9v-2.0M599.50,18.4v2.0M677.50,161.9v-2.0M677.50,18.4v2.0M521.8,161.50h2.0M677.8,161.50h-2.0M521.8,133.50h2.0M677.8,133.50h-2.0M521.8,104.50h2.0M677.8,104.50h-2.0M521.8,75.50h2.0M677.8,75.50h-2.0M521.8,47.50h2.0M677.8,47.50h-2.0" stroke="#262626" stroke-width="1" fill="none"/>
<g clip-path="url(#cEmail)">
<polyline points="529.60,124.59 537.40,103.64 545.20,90.15 553.00,80.39 560.80,73.22 568.60,67.76 576.40,63.46 584.20,60.02 592.00,57.15 599.80,54.28 607.60,52.12 615.40,50.20 623.20,48.50 631.00,46.99 638.80,45.66 646.60,44.46 654.40,43.34 662.20,42.34 670.00,41.48 677.80,40.79" fill="none" stroke="#FFA500" stroke-width="1.0" stroke-linejoin="round"/>
<circle cx="529.60" cy="124.59" r="2.2" fill="#FFA500"/>
<circle cx="537.40" cy="103.64" r="2.2" fill="#FFA500"/>
<circle cx="545.20" cy="90.15" r="2.2" fill="#FFA500"/>
<circle cx="553.00" cy="80.39" r="2.2" fill="#FFA500"/>
<circle cx="560.80" cy="73.22" r="2.2" fill="#FFA500"/>
<circle cx="568.60" cy="67.76" r="2.2" fill="#FFA500"/>
<circle cx="576.40" cy="63.46" r="2.2" fill="#FFA500"/>
<circle cx="584.20" cy="60.02" r="2.2" fill="#FFA500"/>
<circle cx="592.00" cy="57.15" r="2.2" fill="#FFA500"/>
<circle cx="599.80" cy="54.28" r="2.2" fill="#FFA500"/>
<circle cx="607.60" cy="52.12" r="2.2" fill="#FFA500"/>
<circle cx="615.40" cy="50.20" r="2.2" fill="#FFA500"/>
<circle cx="623.20" cy="48.50" r="2.2" fill="#FFA500"/>
<circle cx="631.00" cy="46.99" r="2.2" fill="#FFA500"/>
<circle cx="638.80" cy="45.66" r="2.2" fill="#FFA500"/>
<circle cx="646.60" cy="44.46" r="2.2" fill="#FFA500"/>
<circle cx="654.40" cy="43.34" r="2.2" fill="#FFA500"/>
<circle cx="662.20" cy="42.34" r="2.2" fill="#FFA500"/>
<circle cx="670.00" cy="41.48" r="2.2" fill="#FFA500"/>
<circle cx="677.80" cy="40.79" r="2.2" fill="#FFA500"/>
<polyline points="529.60,117.70 537.40,100.20 545.20,88.43 553.00,79.24 560.80,72.36 568.60,66.90 576.40,62.60 584.20,59.15 592.00,56.28 599.80,53.41 607.60,51.21 615.40,49.22 623.20,47.44 631.00,45.88 638.80,44.52 646.60,43.29 654.40,42.17 662.20,41.16 670.00,40.31 677.80,39.64" fill="none" stroke="#77AC30" stroke-width="1.0" stroke-linejoin="round"/>
<polygon points="529.60,115.10 528.85,116.40 527.35,116.40 528.10,117.70 527.35,119.00 528.85,119.00 529.60,120.30 530.35,119.00 531.85,119.00 531.10,117.70 531.85,116.40 530.35,116.40" fill="#77AC30"/>
<polygon points="537.40,97.60 536.65,98.90 535.15,98.90 535.90,100.20 535.15,101.50 536.65,101.49 537.40,102.80 538.15,101.49 539.65,101.50 538.90,100.20 539.65,98.90 538.15,98.90" fill="#77AC30"/>
<polygon points="545.20,85.83 544.45,87.13 542.95,87.13 543.70,88.43 542.95,89.73 544.45,89.73 545.20,91.03 545.95,89.73 547.45,89.73 546.70,88.43 547.45,87.13 545.95,87.13" fill="#77AC30"/>
<polygon points="553.00,76.64 552.25,77.94 550.75,77.94 551.50,79.24 550.75,80.54 552.25,80.54 553.00,81.84 553.75,80.54 555.25,80.54 554.50,79.24 555.25,77.94 553.75,77.94" fill="#77AC30"/>
<polygon points="560.80,69.76 560.05,71.06 558.55,71.06 559.30,72.36 558.55,73.66 560.05,73.66 560.80,74.96 561.55,73.66 563.05,73.66 562.30,72.36 563.05,71.06 561.55,71.06" fill="#77AC30"/>
<polygon points="568.60,64.30 567.85,65.60 566.35,65.60 567.10,66.90 566.35,68.20 567.85,68.20 568.60,69.50 569.35,68.20 570.85,68.20 570.10,66.90 570.85,65.60 569.35,65.60" fill="#77AC30"/>
<polygon points="576.40,60.00 575.65,61.30 574.15,61.30 574.90,62.60 574.15,63.90 575.65,63.90 576.40,65.20 577.15,63.90 578.65,63.90 577.90,62.60 578.65,61.30 577.15,61.30" fill="#77AC30"/>
<polygon points="584.20,56.55 583.45,57.85 581.95,57.85 582.70,59.15 581.95,60.45 583.45,60.45 584.20,61.75 584.95,60.45 586.45,60.45 585.70,59.15 586.45,57.85 584.95,57.85" fill="#77AC30"/>
<polygon points="592.00,53.68 591.25,54.98 589.75,54.98 590.50,56.28 589.75,57.58 591.25,57.58 592.00,58.88 592.75,57.58 594.25,57.58 593.50,56.28 594.25,54.98 592.75,54.98" fill="#77AC30"/>
<polygon points="599.80,50.81 599.05,52.11 597.55,52.11 598.30,53.41 597.55,54.71 599.05,54.71 599.80,56.01 600.55,54.71 602.05,54.71 601.30,53.41 602.05,52.11 600.55,52.11" fill="#77AC30"/>
<polygon points="607.60,48.61 606.85,49.91 605.35,49.91 606.10,51.21 605.35,52.51 606.85,52.51 607.60,53.81 608.35,52.51 609.85,52.51 609.10,51.21 609.85,49.91 608.35,49.91" fill="#77AC30"/>
<polygon points="615.40,46.62 614.65,47.92 613.15,47.92 613.90,49.22 613.15,50.52 614.65,50.52 615.40,51.82 616.15,50.52 617.65,50.52 616.90,49.22 617.65,47.92 616.15,47.92" fill="#77AC30"/>
<polygon points="623.20,44.84 622.45,46.14 620.95,46.14 621.70,47.44 620.95,48.74 622.45,48.74 623.20,50.04 623.95,48.74 625.45,48.74 624.70,47.44 625.45,46.14 623.95,46.14" fill="#77AC30"/>
<polygon points="631.00,43.28 630.25,44.58 628.75,44.58 629.50,45.88 628.75,47.18 630.25,47.18 631.00,48.48 631.75,47.18 633.25,47.18 632.50,45.88 633.25,44.58 631.75,44.58" fill="#77AC30"/>
<polygon points="638.80,41.92 638.05,43.22 636.55,43.22 637.30,44.52 636.55,45.82 638.05,45.82 638.80,47.12 639.55,45.82 641.05,45.82 640.30,44.52 641.05,43.22 639.55,43.22" fill="#77AC30"/>
<polygon points="646.60,40.69 645.85,42.00 644.35,41.99 645.10,43.29 644.35,44.59 645.85,44.59 646.60,45.89 647.35,44.59 648.85,44.59 648.10,43.29 648.85,41.99 647.35,42.00" fill="#77AC30"/>
<polygon points="654.40,39.57 653.65,40.87 652.15,40.87 652.90,42.17 652.15,43.47 653.65,43.47 654.40,44.77 655.15,43.47 656.65,43.47 655.90,42.17 656.65,40.87 655.15,40.87" fill="#77AC30"/>
<polygon points="662.20,38.56 661.45,39.86 659.95,39.86 660.70,41.16 659.95,42.46 661.45,42.46 662.20,43.76 662.95,42.46 664.45,42.46 663.70,41.16 664.45,39.86 662.95,39.86" fill="#77AC30"/>
<polygon points="670.00,37.71 669.25,39.01 667.75,39.01 668.50,40.31 667.75,41.61 669.25,41.61 670.00,42.91 670.75,41.61 672.25,41.61 671.50,40.31 672.25,39.01 670.75,39.01" fill="#77AC30"/>
<polygon points="677.80,37.04 677.05,38.34 675.55,38.34 676.30,39.64 675.55,40.94 677.05,40.94 677.80,42.24 678.55,40.94 680.05,40.94 679.30,39.64 680.05,38.34 678.55,38.34" fill="#77AC30"/>
<polyline points="529.60,137.22 537.40,116.27 545.20,101.34 553.00,89.00 560.80,80.68 568.60,73.79 576.40,69.20 584.20,64.32 592.00,60.30 599.80,57.15 607.60,54.83 615.40,52.79 623.20,50.99 631.00,49.40 638.80,47.96 646.60,46.63 654.40,45.40 662.20,44.29 670.00,43.32 677.80,42.51" fill="none" stroke="#7E2F8E" stroke-width="1.0" stroke-linejoin="round"/>
<rect x="527.70" y="135.32" width="3.8" height="3.8" fill="#7E2F8E"/>
<rect x="535.50" y="114.37" width="3.8" height="3.8" fill="#7E2F8E"/>
<rect x="543.30" y="99.44" width="3.8" height="3.8" fill="#7E2F8E"/>
<rect x="551.10" y="87.10" width="3.8" height="3.8" fill="#7E2F8E"/>
<rect x="558.90" y="78.78" width="3.8" height="3.8" fill="#7E2F8E"/>
<rect x="566.70" y="71.89" width="3.8" height="3.8" fill="#7E2F8E"/>
<rect x="574.50" y="67.30" width="3.8" height="3.8" fill="#7E2F8E"/>
<rect x="582.30" y="62.42" width="3.8" height="3.8" fill="#7E2F8E"/>
<rect x="590.10" y="58.40" width="3.8" height="3.8" fill="#7E2F8E"/>
<rect x="597.90" y="55.25" width="3.8" height="3.8" fill="#7E2F8E"/>
<rect x="605.70" y="52.93" width="3.8" height="3.8" fill="#7E2F8E"/>
<rect x="613.50" y="50.89" width="3.8" height="3.8" fill="#7E2F8E"/>
<rect x="621.30" y="49.09" width="3.8" height="3.8" fill="#7E2F8E"/>
<rect x="629.10" y="47.50" width="3.8" height="3.8" fill="#7E2F8E"/>
<rect x="636.90" y="46.06" width="3.8" height="3.8" fill="#7E2F8E"/>
<rect x="644.70" y="44.73" width="3.8" height="3.8" fill="#7E2F8E"/>
<rect x="652.50" y="43.50" width="3.8" height="3.8" fill="#7E2F8E"/>
<rect x="660.30" y="42.39" width="3.8" height="3.8" fill="#7E2F8E"/>
<rect x="668.10" y="41.42" width="3.8" height="3.8" fill="#7E2F8E"/>
<rect x="675.90" y="40.61" width="3.8" height="3.8" fill="#7E2F8E"/>
<polyline points="529.60,127.46 537.40,108.80 545.20,94.46 553.00,84.41 560.80,76.66 568.60,70.92 576.40,66.33 584.20,62.31 592.00,59.15 599.80,56.28 607.60,53.98 615.40,51.87 623.20,49.96 631.00,48.27 638.80,46.81 646.60,45.52 654.40,44.32 662.20,43.26 670.00,42.36 677.80,41.65" fill="none" stroke="#FF0000" stroke-width="1.0" stroke-linejoin="round"/>
<path d="M529.60,124.66L532.30,129.06L526.90,129.06Z" fill="#FF0000"/>
<path d="M537.40,106.00L540.10,110.40L534.70,110.40Z" fill="#FF0000"/>
<path d="M545.20,91.66L547.90,96.06L542.50,96.06Z" fill="#FF0000"/>
<path d="M553.00,81.61L555.70,86.01L550.30,86.01Z" fill="#FF0000"/>
<path d="M560.80,73.86L563.50,78.26L558.10,78.26Z" fill="#FF0000"/>
<path d="M568.60,68.12L571.30,72.52L565.90,72.52Z" fill="#FF0000"/>
<path d="M576.40,63.53L579.10,67.93L573.70,67.93Z" fill="#FF0000"/>
<path d="M584.20,59.51L586.90,63.91L581.50,63.91Z" fill="#FF0000"/>
<path d="M592.00,56.35L594.70,60.75L589.30,60.75Z" fill="#FF0000"/>
<path d="M599.80,53.48L602.50,57.88L597.10,57.88Z" fill="#FF0000"/>
<path d="M607.60,51.18L610.30,55.58L604.90,55.58Z" fill="#FF0000"/>
<path d="M615.40,49.07L618.10,53.47L612.70,53.47Z" fill="#FF0000"/>
<path d="M623.20,47.16L625.90,51.56L620.50,51.56Z" fill="#FF0000"/>
<path d="M631.00,45.47L633.70,49.87L628.30,49.87Z" fill="#FF0000"/>
<path d="M638.80,44.01L641.50,48.41L636.10,48.41Z" fill="#FF0000"/>
<path d="M646.60,42.72L649.30,47.12L643.90,47.12Z" fill="#FF0000"/>
<path d="M654.40,41.52L657.10,45.92L651.70,45.92Z" fill="#FF0000"/>
<path d="M662.20,40.46L664.90,44.86L659.50,44.86Z" fill="#FF0000"/>
<path d="M670.00,39.56L672.70,43.96L667.30,43.96Z" fill="#FF0000"/>
<path d="M677.80,38.85L680.50,43.25L675.10,43.25Z" fill="#FF0000"/>
<polyline points="529.60,131.48 537.40,109.09 545.20,94.46 553.00,83.84 560.80,75.80 568.60,70.06 576.40,65.47 584.20,61.45 592.00,58.29 599.80,55.42 607.60,53.17 615.40,51.13 623.20,49.29 631.00,47.66 638.80,46.24 646.60,44.96 654.40,43.77 662.20,42.71 670.00,41.80 677.80,41.07" fill="none" stroke="#006E00" stroke-width="1.0" stroke-linejoin="round"/>
<path d="M526.80,131.48L531.20,128.78L531.20,134.18Z" fill="#006E00"/>
<path d="M534.60,109.09L539.00,106.39L539.00,111.79Z" fill="#006E00"/>
<path d="M542.40,94.46L546.80,91.76L546.80,97.16Z" fill="#006E00"/>
<path d="M550.20,83.84L554.60,81.14L554.60,86.54Z" fill="#006E00"/>
<path d="M558.00,75.80L562.40,73.10L562.40,78.50Z" fill="#006E00"/>
<path d="M565.80,70.06L570.20,67.36L570.20,72.76Z" fill="#006E00"/>
<path d="M573.60,65.47L578.00,62.77L578.00,68.17Z" fill="#006E00"/>
<path d="M581.40,61.45L585.80,58.75L585.80,64.15Z" fill="#006E00"/>
<path d="M589.20,58.29L593.60,55.59L593.60,60.99Z" fill="#006E00"/>
<path d="M597.00,55.42L601.40,52.72L601.40,58.12Z" fill="#006E00"/>
<path d="M604.80,53.17L609.20,50.47L609.20,55.87Z" fill="#006E00"/>
<path d="M612.60,51.13L617.00,48.43L617.00,53.83Z" fill="#006E00"/>
<path d="M620.40,49.29L624.80,46.59L624.80,51.99Z" fill="#006E00"/>
<path d="M628.20,47.66L632.60,44.96L632.60,50.36Z" fill="#006E00"/>
<path d="M636.00,46.24L640.40,43.54L640.40,48.94Z" fill="#006E00"/>
<path d="M643.80,44.96L648.20,42.26L648.20,47.66Z" fill="#006E00"/>
<path d="M651.60,43.77L656.00,41.07L656.00,46.47Z" fill="#006E00"/>
<path d="M659.40,42.71L663.80,40.01L663.80,45.41Z" fill="#006E00"/>
<path d="M667.20,41.80L671.60,39.10L671.60,44.50Z" fill="#006E00"/>
<path d="M675.00,41.07L679.40,38.37L679.40,43.77Z" fill="#006E00"/>
<polyline points="529.60,129.76 537.40,110.24 545.20,95.89 553.00,85.27 560.80,77.81 568.60,72.36 576.40,67.19 584.20,62.89 592.00,59.73 599.80,56.57 607.60,54.20 615.40,52.10 623.20,50.23 631.00,48.57 638.80,47.10 646.60,45.76 654.40,44.51 662.20,43.40 670.00,42.43 677.80,41.65" fill="none" stroke="#D95319" stroke-width="1.0" stroke-linejoin="round"/>
<circle cx="529.60" cy="129.76" r="1.8" fill="#D95319"/>
<circle cx="537.40" cy="110.24" r="1.8" fill="#D95319"/>
<circle cx="545.20" cy="95.89" r="1.8" fill="#D95319"/>
<circle cx="553.00" cy="85.27" r="1.8" fill="#D95319"/>
<circle cx="560.80" cy="77.81" r="1.8" fill="#D95319"/>
<circle cx="568.60" cy="72.36" r="1.8" fill="#D95319"/>
<circle cx="576.40" cy="67.19" r="1.8" fill="#D95319"/>
<circle cx="584.20" cy="62.89" r="1.8" fill="#D95319"/>
<circle cx="592.00" cy="59.73" r="1.8" fill="#D95319"/>
<circle cx="599.80" cy="56.57" r="1.8" fill="#D95319"/>
<circle cx="607.60" cy="54.20" r="1.8" fill="#D95319"/>
<circle cx="615.40" cy="52.10" r="1.8" fill="#D95319"/>
<circle cx="623.20" cy="50.23" r="1.8" fill="#D95319"/>
<circle cx="631.00" cy="48.57" r="1.8" fill="#D95319"/>
<circle cx="638.80" cy="47.10" r="1.8" fill="#D95319"/>
<circle cx="646.60" cy="45.76" r="1.8" fill="#D95319"/>
<circle cx="654.40" cy="44.51" r="1.8" fill="#D95319"/>
<circle cx="662.20" cy="43.40" r="1.8" fill="#D95319"/>
<circle cx="670.00" cy="42.43" r="1.8" fill="#D95319"/>
<circle cx="677.80" cy="41.65" r="1.8" fill="#D95319"/>
<polyline points="529.60,126.03 537.40,105.93 545.20,93.02 553.00,82.98 560.80,75.80 568.60,70.06 576.40,65.47 584.20,61.74 592.00,58.58 599.80,55.71 607.60,53.46 615.40,51.42 623.20,49.58 631.00,47.95 638.80,46.53 646.60,45.24 654.40,44.06 662.20,43.00 670.00,42.09 677.80,41.36" fill="none" stroke="#B4C8E6" stroke-width="1.0" stroke-linejoin="round"/>
<path d="M528.10,124.53L531.10,127.53M528.10,127.53L531.10,124.53" stroke="#A6BFE0" stroke-width="1.1" fill="none"/>
<path d="M535.90,104.43L538.90,107.43M535.90,107.43L538.90,104.43" stroke="#A6BFE0" stroke-width="1.1" fill="none"/>
<path d="M543.70,91.52L546.70,94.52M543.70,94.52L546.70,91.52" stroke="#A6BFE0" stroke-width="1.1" fill="none"/>
<path d="M551.50,81.48L554.50,84.48M551.50,84.48L554.50,81.48" stroke="#A6BFE0" stroke-width="1.1" fill="none"/>
<path d="M559.30,74.30L562.30,77.30M559.30,77.30L562.30,74.30" stroke="#A6BFE0" stroke-width="1.1" fill="none"/>
<path d="M567.10,68.56L570.10,71.56M567.10,71.56L570.10,68.56" stroke="#A6BFE0" stroke-width="1.1" fill="none"/>
<path d="M574.90,63.97L577.90,66.97M574.90,66.97L577.90,63.97" stroke="#A6BFE0" stroke-width="1.1" fill="none"/>
<path d="M582.70,60.24L585.70,63.24M582.70,63.24L585.70,60.24" stroke="#A6BFE0" stroke-width="1.1" fill="none"/>
<path d="M590.50,57.08L593.50,60.08M590.50,60.08L593.50,57.08" stroke="#A6BFE0" stroke-width="1.1" fill="none"/>
<path d="M598.30,54.21L601.30,57.21M598.30,57.21L601.30,54.21" stroke="#A6BFE0" stroke-width="1.1" fill="none"/>
<path d="M606.10,51.96L609.10,54.96M606.10,54.96L609.10,51.96" stroke="#A6BFE0" stroke-width="1.1" fill="none"/>
<path d="M613.90,49.92L616.90,52.92M613.90,52.92L616.90,49.92" stroke="#A6BFE0" stroke-width="1.1" fill="none"/>
<path d="M621.70,48.08L624.70,51.08M621.70,51.08L624.70,48.08" stroke="#A6BFE0" stroke-width="1.1" fill="none"/>
<path d="M629.50,46.45L632.50,49.45M629.50,49.45L632.50,46.45" stroke="#A6BFE0" stroke-width="1.1" fill="none"/>
<path d="M637.30,45.03L640.30,48.03M637.30,48.03L640.30,45.03" stroke="#A6BFE0" stroke-width="1.1" fill="none"/>
<path d="M645.10,43.74L648.10,46.74M645.10,46.74L648.10,43.74" stroke="#A6BFE0" stroke-width="1.1" fill="none"/>
<path d="M652.90,42.56L655.90,45.56M652.90,45.56L655.90,42.56" stroke="#A6BFE0" stroke-width="1.1" fill="none"/>
<path d="M660.70,41.50L663.70,44.50M660.70,44.50L663.70,41.50" stroke="#A6BFE0" stroke-width="1.1" fill="none"/>
<path d="M668.50,40.59L671.50,43.59M668.50,43.59L671.50,40.59" stroke="#A6BFE0" stroke-width="1.1" fill="none"/>
<path d="M676.30,39.86L679.30,42.86M676.30,42.86L679.30,39.86" stroke="#A6BFE0" stroke-width="1.1" fill="none"/>
<polyline points="529.60,122.29 537.40,102.78 545.20,87.85 553.00,77.81 560.80,70.06 568.60,64.03 576.40,59.15 584.20,55.14 592.00,51.69 599.80,48.53 607.60,45.95 615.40,44.23 623.20,42.22 631.00,40.50 638.80,39.06 646.60,37.92 654.40,36.77 662.20,35.91 670.00,35.05 677.80,34.18" fill="none" stroke="#0072BD" stroke-width="1.2" stroke-linejoin="round"/>
<path d="M529.60,119.19L532.05,122.29L529.60,125.39L527.15,122.29Z" fill="#0072BD"/>
<path d="M537.40,99.68L539.85,102.78L537.40,105.88L534.95,102.78Z" fill="#0072BD"/>
<path d="M545.20,84.75L547.65,87.85L545.20,90.95L542.75,87.85Z" fill="#0072BD"/>
<path d="M553.00,74.71L555.45,77.81L553.00,80.91L550.55,77.81Z" fill="#0072BD"/>
<path d="M560.80,66.96L563.25,70.06L560.80,73.16L558.35,70.06Z" fill="#0072BD"/>
<path d="M568.60,60.93L571.05,64.03L568.60,67.13L566.15,64.03Z" fill="#0072BD"/>
<path d="M576.40,56.05L578.85,59.15L576.40,62.25L573.95,59.15Z" fill="#0072BD"/>
<path d="M584.20,52.04L586.65,55.14L584.20,58.24L581.75,55.14Z" fill="#0072BD"/>
<path d="M592.00,48.59L594.45,51.69L592.00,54.79L589.55,51.69Z" fill="#0072BD"/>
<path d="M599.80,45.43L602.25,48.53L599.80,51.63L597.35,48.53Z" fill="#0072BD"/>
<path d="M607.60,42.85L610.05,45.95L607.60,49.05L605.15,45.95Z" fill="#0072BD"/>
<path d="M615.40,41.13L617.85,44.23L615.40,47.33L612.95,44.23Z" fill="#0072BD"/>
<path d="M623.20,39.12L625.65,42.22L623.20,45.32L620.75,42.22Z" fill="#0072BD"/>
<path d="M631.00,37.40L633.45,40.50L631.00,43.60L628.55,40.50Z" fill="#0072BD"/>
<path d="M638.80,35.96L641.25,39.06L638.80,42.16L636.35,39.06Z" fill="#0072BD"/>
<path d="M646.60,34.82L649.05,37.92L646.60,41.02L644.15,37.92Z" fill="#0072BD"/>
<path d="M654.40,33.67L656.85,36.77L654.40,39.87L651.95,36.77Z" fill="#0072BD"/>
<path d="M662.20,32.81L664.65,35.91L662.20,39.01L659.75,35.91Z" fill="#0072BD"/>
<path d="M670.00,31.95L672.45,35.05L670.00,38.15L667.55,35.05Z" fill="#0072BD"/>
<path d="M677.80,31.08L680.25,34.18L677.80,37.28L675.35,34.18Z" fill="#0072BD"/>
</g>
<text x="521.80" y="180.50" text-anchor="middle" style="font-size:14px" class="t">0</text>
<text x="599.80" y="180.50" text-anchor="middle" style="font-size:14px" class="t" clip-path="url(#k8)">10</text>
<text x="677.80" y="180.50" text-anchor="middle" style="font-size:14px" class="t">20</text>
<text x="517.80" y="167.30" text-anchor="end" style="font-size:14px" class="t" clip-path="url(#k9)">1.3</text>
<text x="517.80" y="138.60" text-anchor="end" style="font-size:14px" class="t" clip-path="url(#k10)">1.4</text>
<text x="517.80" y="109.90" text-anchor="end" style="font-size:14px" class="t" clip-path="url(#k11)">1.5</text>
<text x="517.80" y="81.20" text-anchor="end" style="font-size:14px" class="t" clip-path="url(#k12)">1.6</text>
<text x="517.80" y="52.50" text-anchor="end" style="font-size:14px" class="t" clip-path="url(#k13)">1.7</text>
<text x="599.80" y="11.80" text-anchor="middle" style="font-size:15.6px" class="t">Email</text>
<text x="599.80" y="200.20" text-anchor="middle" style="font-size:15.6px" class="t">Propagation Time</text>
<g transform="translate(485.20,90.15) rotate(-90)"><text x="-7.59" y="0.00" text-anchor="start" style="font-size:15.6px" class="t">L</text><text x="1.09" y="8.80" text-anchor="start" style="font-size:13px" class="t">s</text></g>
<defs><clipPath id="cEuroroad"><rect x="38.6" y="227.5" width="162.9" height="149.8"/></clipPath></defs>
<rect x="42.6" y="231.5" width="154.9" height="141.8" fill="none" stroke="#262626" stroke-width="1"/>
<path d="M42.50,373.3v-2.0M42.50,231.5v2.0M120.50,373.3v-2.0M120.50,231.5v2.0M197.50,373.3v-2.0M197.50,231.5v2.0M42.6,373.50h2.0M197.5,373.50h-2.0M42.6,337.50h2.0M197.5,337.50h-2.0M42.6,302.50h2.0M197.5,302.50h-2.0M42.6,266.50h2.0M197.5,266.50h-2.0M42.6,231.50h2.0M197.5,231.50h-2.0" stroke="#262626" stroke-width="1" fill="none"/>
<g clip-path="url(#cEuroroad)">
<polyline points="50.34,345.47 58.09,313.57 65.84,308.25 73.58,305.77 81.33,303.29 89.07,301.34 96.81,298.68 104.56,296.73 112.31,293.89 120.05,293.36 127.80,292.65 135.54,292.12 143.28,291.76 151.03,291.59 158.78,291.41 166.52,291.23 174.27,291.06 182.01,290.88 189.75,290.70 197.50,290.70" fill="none" stroke="#FFA500" stroke-width="1.0" stroke-linejoin="round"/>
<circle cx="50.34" cy="345.47" r="2.2" fill="#FFA500"/>
<circle cx="58.09" cy="313.57" r="2.2" fill="#FFA500"/>
<circle cx="65.84" cy="308.25" r="2.2" fill="#FFA500"/>
<circle cx="73.58" cy="305.77" r="2.2" fill="#FFA500"/>
<circle cx="81.33" cy="303.29" r="2.2" fill="#FFA500"/>
<circle cx="89.07" cy="301.34" r="2.2" fill="#FFA500"/>
<circle cx="96.81" cy="298.68" r="2.2" fill="#FFA500"/>
<circle cx="104.56" cy="296.73" r="2.2" fill="#FFA500"/>
<circle cx="112.31" cy="293.89" r="2.2" fill="#FFA500"/>
<circle cx="120.05" cy="293.36" r="2.2" fill="#FFA500"/>
<circle cx="127.80" cy="292.65" r="2.2" fill="#FFA500"/>
<circle cx="135.54" cy="292.12" r="2.2" fill="#FFA500"/>
<circle cx="143.28" cy="291.76" r="2.2" fill="#FFA500"/>
<circle cx="151.03" cy="291.59" r="2.2" fill="#FFA500"/>
<circle cx="158.78" cy="291.41" r="2.2" fill="#FFA500"/>
<circle cx="166.52" cy="291.23" r="2.2" fill="#FFA500"/>
<circle cx="174.27" cy="291.06" r="2.2" fill="#FFA500"/>
<circle cx="182.01" cy="290.88" r="2.2" fill="#FFA500"/>
<circle cx="189.75" cy="290.70" r="2.2" fill="#FFA500"/>
<circle cx="197.50" cy="290.70" r="2.2" fill="#FFA500"/>
<polyline points="50.34,340.33 58.09,302.75 65.84,300.45 73.58,297.44 81.33,293.01 89.07,291.59 96.81,290.17 104.56,289.28 112.31,288.57 120.05,287.33 127.80,286.98 135.54,286.62 143.28,286.45 151.03,286.27 158.78,286.09 166.52,285.92 174.27,285.74 182.01,285.56 189.75,285.56 197.50,285.38" fill="none" stroke="#77AC30" stroke-width="1.0" stroke-linejoin="round"/>
<polygon points="50.34,337.73 49.59,339.03 48.09,339.03 48.84,340.33 48.09,341.63 49.59,341.63 50.34,342.93 51.09,341.63 52.60,341.63 51.84,340.33 52.60,339.03 51.09,339.03" fill="#77AC30"/>
<polygon points="58.09,300.15 57.34,301.46 55.84,301.45 56.59,302.75 55.84,304.05 57.34,304.05 58.09,305.35 58.84,304.05 60.34,304.05 59.59,302.75 60.34,301.45 58.84,301.46" fill="#77AC30"/>
<polygon points="65.84,297.85 65.09,299.15 63.58,299.15 64.34,300.45 63.58,301.75 65.09,301.75 65.84,303.05 66.59,301.75 68.09,301.75 67.34,300.45 68.09,299.15 66.59,299.15" fill="#77AC30"/>
<polygon points="73.58,294.84 72.83,296.14 71.33,296.14 72.08,297.44 71.33,298.74 72.83,298.74 73.58,300.04 74.33,298.74 75.83,298.74 75.08,297.44 75.83,296.14 74.33,296.14" fill="#77AC30"/>
<polygon points="81.33,290.41 80.58,291.71 79.07,291.71 79.83,293.01 79.07,294.31 80.58,294.30 81.33,295.61 82.08,294.30 83.58,294.31 82.83,293.01 83.58,291.71 82.08,291.71" fill="#77AC30"/>
<polygon points="89.07,288.99 88.32,290.29 86.82,290.29 87.57,291.59 86.82,292.89 88.32,292.89 89.07,294.19 89.82,292.89 91.32,292.89 90.57,291.59 91.32,290.29 89.82,290.29" fill="#77AC30"/>
<polygon points="96.81,287.57 96.06,288.87 94.56,288.87 95.31,290.17 94.56,291.47 96.06,291.47 96.81,292.77 97.56,291.47 99.07,291.47 98.31,290.17 99.07,288.87 97.56,288.87" fill="#77AC30"/>
<polygon points="104.56,286.68 103.81,287.98 102.31,287.98 103.06,289.28 102.31,290.58 103.81,290.58 104.56,291.88 105.31,290.58 106.81,290.58 106.06,289.28 106.81,287.98 105.31,287.98" fill="#77AC30"/>
<polygon points="112.31,285.97 111.56,287.28 110.05,287.27 110.81,288.57 110.05,289.87 111.56,289.87 112.31,291.17 113.06,289.87 114.56,289.87 113.81,288.57 114.56,287.27 113.06,287.28" fill="#77AC30"/>
<polygon points="120.05,284.73 119.30,286.03 117.80,286.03 118.55,287.33 117.80,288.63 119.30,288.63 120.05,289.93 120.80,288.63 122.30,288.63 121.55,287.33 122.30,286.03 120.80,286.03" fill="#77AC30"/>
<polygon points="127.80,284.38 127.05,285.68 125.54,285.68 126.30,286.98 125.54,288.28 127.05,288.28 127.80,289.58 128.55,288.28 130.05,288.28 129.30,286.98 130.05,285.68 128.55,285.68" fill="#77AC30"/>
<polygon points="135.54,284.02 134.79,285.33 133.29,285.32 134.04,286.62 133.29,287.92 134.79,287.92 135.54,289.22 136.29,287.92 137.79,287.92 137.04,286.62 137.79,285.32 136.29,285.33" fill="#77AC30"/>
<polygon points="143.28,283.85 142.53,285.15 141.03,285.15 141.78,286.45 141.03,287.75 142.53,287.75 143.28,289.05 144.03,287.75 145.54,287.75 144.78,286.45 145.54,285.15 144.03,285.15" fill="#77AC30"/>
<polygon points="151.03,283.67 150.28,284.97 148.78,284.97 149.53,286.27 148.78,287.57 150.28,287.57 151.03,288.87 151.78,287.57 153.28,287.57 152.53,286.27 153.28,284.97 151.78,284.97" fill="#77AC30"/>
<polygon points="158.78,283.49 158.03,284.79 156.52,284.79 157.28,286.09 156.52,287.39 158.03,287.39 158.78,288.69 159.53,287.39 161.03,287.39 160.28,286.09 161.03,284.79 159.53,284.79" fill="#77AC30"/>
<polygon points="166.52,283.32 165.77,284.62 164.27,284.62 165.02,285.92 164.27,287.22 165.77,287.21 166.52,288.52 167.27,287.21 168.77,287.22 168.02,285.92 168.77,284.62 167.27,284.62" fill="#77AC30"/>
<polygon points="174.27,283.14 173.52,284.44 172.01,284.44 172.77,285.74 172.01,287.04 173.52,287.04 174.27,288.34 175.02,287.04 176.52,287.04 175.77,285.74 176.52,284.44 175.02,284.44" fill="#77AC30"/>
<polygon points="182.01,282.96 181.26,284.26 179.76,284.26 180.51,285.56 179.76,286.86 181.26,286.86 182.01,288.16 182.76,286.86 184.26,286.86 183.51,285.56 184.26,284.26 182.76,284.26" fill="#77AC30"/>
<polygon points="189.75,282.96 189.00,284.26 187.50,284.26 188.25,285.56 187.50,286.86 189.00,286.86 189.75,288.16 190.50,286.86 192.01,286.86 191.25,285.56 192.01,284.26 190.50,284.26" fill="#77AC30"/>
<polygon points="197.50,282.78 196.75,284.08 195.25,284.08 196.00,285.38 195.25,286.68 196.75,286.68 197.50,287.98 198.25,286.68 199.75,286.68 199.00,285.38 199.75,284.08 198.25,284.08" fill="#77AC30"/>
<polyline points="50.34,355.22 58.09,298.86 65.84,288.04 73.58,280.95 81.33,279.71 89.07,277.76 96.81,276.88 104.56,275.99 112.31,275.64 120.05,275.28 127.80,275.28 135.54,275.10 143.28,275.10 151.03,275.10 158.78,274.93 166.52,274.93 174.27,274.93 182.01,274.93 189.75,274.93 197.50,274.93" fill="none" stroke="#7E2F8E" stroke-width="1.0" stroke-linejoin="round"/>
<rect x="48.45" y="353.32" width="3.8" height="3.8" fill="#7E2F8E"/>
<rect x="56.19" y="296.96" width="3.8" height="3.8" fill="#7E2F8E"/>
<rect x="63.94" y="286.14" width="3.8" height="3.8" fill="#7E2F8E"/>
<rect x="71.68" y="279.05" width="3.8" height="3.8" fill="#7E2F8E"/>
<rect x="79.42" y="277.81" width="3.8" height="3.8" fill="#7E2F8E"/>
<rect x="87.17" y="275.86" width="3.8" height="3.8" fill="#7E2F8E"/>
<rect x="94.91" y="274.98" width="3.8" height="3.8" fill="#7E2F8E"/>
<rect x="102.66" y="274.09" width="3.8" height="3.8" fill="#7E2F8E"/>
<rect x="110.41" y="273.74" width="3.8" height="3.8" fill="#7E2F8E"/>
<rect x="118.15" y="273.38" width="3.8" height="3.8" fill="#7E2F8E"/>
<rect x="125.90" y="273.38" width="3.8" height="3.8" fill="#7E2F8E"/>
<rect x="133.64" y="273.20" width="3.8" height="3.8" fill="#7E2F8E"/>
<rect x="141.38" y="273.20" width="3.8" height="3.8" fill="#7E2F8E"/>
<rect x="149.13" y="273.20" width="3.8" height="3.8" fill="#7E2F8E"/>
<rect x="156.88" y="273.03" width="3.8" height="3.8" fill="#7E2F8E"/>
<rect x="164.62" y="273.03" width="3.8" height="3.8" fill="#7E2F8E"/>
<rect x="172.37" y="273.03" width="3.8" height="3.8" fill="#7E2F8E"/>
<rect x="180.11" y="273.03" width="3.8" height="3.8" fill="#7E2F8E"/>
<rect x="187.85" y="273.03" width="3.8" height="3.8" fill="#7E2F8E"/>
<rect x="195.60" y="273.03" width="3.8" height="3.8" fill="#7E2F8E"/>
<polyline points="50.34,342.46 58.09,308.78 65.84,304.17 73.58,298.15 81.33,293.01 89.07,289.82 96.81,287.33 104.56,286.09 112.31,285.21 120.05,284.85 127.80,284.50 135.54,284.14 143.28,283.79 151.03,283.43 158.78,283.26 166.52,282.90 174.27,282.73 182.01,282.55 189.75,282.37 197.50,282.19" fill="none" stroke="#FF0000" stroke-width="1.0" stroke-linejoin="round"/>
<path d="M50.34,339.66L53.05,344.06L47.64,344.06Z" fill="#FF0000"/>
<path d="M58.09,305.98L60.79,310.38L55.39,310.38Z" fill="#FF0000"/>
<path d="M65.84,301.37L68.54,305.77L63.14,305.77Z" fill="#FF0000"/>
<path d="M73.58,295.35L76.28,299.75L70.88,299.75Z" fill="#FF0000"/>
<path d="M81.33,290.21L84.03,294.61L78.62,294.61Z" fill="#FF0000"/>
<path d="M89.07,287.02L91.77,291.42L86.37,291.42Z" fill="#FF0000"/>
<path d="M96.81,284.53L99.52,288.93L94.11,288.93Z" fill="#FF0000"/>
<path d="M104.56,283.29L107.26,287.69L101.86,287.69Z" fill="#FF0000"/>
<path d="M112.31,282.41L115.01,286.81L109.61,286.81Z" fill="#FF0000"/>
<path d="M120.05,282.05L122.75,286.45L117.35,286.45Z" fill="#FF0000"/>
<path d="M127.80,281.70L130.50,286.10L125.10,286.10Z" fill="#FF0000"/>
<path d="M135.54,281.34L138.24,285.74L132.84,285.74Z" fill="#FF0000"/>
<path d="M143.28,280.99L145.98,285.39L140.59,285.39Z" fill="#FF0000"/>
<path d="M151.03,280.63L153.73,285.03L148.33,285.03Z" fill="#FF0000"/>
<path d="M158.78,280.46L161.47,284.86L156.08,284.86Z" fill="#FF0000"/>
<path d="M166.52,280.10L169.22,284.50L163.82,284.50Z" fill="#FF0000"/>
<path d="M174.27,279.93L176.97,284.33L171.57,284.33Z" fill="#FF0000"/>
<path d="M182.01,279.75L184.71,284.15L179.31,284.15Z" fill="#FF0000"/>
<path d="M189.75,279.57L192.45,283.97L187.06,283.97Z" fill="#FF0000"/>
<path d="M197.50,279.39L200.20,283.79L194.80,283.79Z" fill="#FF0000"/>
<polyline points="50.34,351.85 58.09,294.78 65.84,289.82 73.58,286.62 81.33,285.74 89.07,285.21 96.81,284.85 104.56,284.14 112.31,283.43 120.05,282.90 127.80,282.90 135.54,282.90 143.28,282.90 151.03,282.90 158.78,282.90 166.52,282.90 174.27,282.90 182.01,282.90 189.75,282.90 197.50,282.90" fill="none" stroke="#006E00" stroke-width="1.0" stroke-linejoin="round"/>
<path d="M47.55,351.85L51.95,349.15L51.95,354.55Z" fill="#006E00"/>
<path d="M55.29,294.78L59.69,292.08L59.69,297.48Z" fill="#006E00"/>
<path d="M63.04,289.82L67.44,287.12L67.44,292.52Z" fill="#006E00"/>
<path d="M70.78,286.62L75.18,283.92L75.18,289.32Z" fill="#006E00"/>
<path d="M78.53,285.74L82.92,283.04L82.92,288.44Z" fill="#006E00"/>
<path d="M86.27,285.21L90.67,282.51L90.67,287.91Z" fill="#006E00"/>
<path d="M94.02,284.85L98.41,282.15L98.41,287.55Z" fill="#006E00"/>
<path d="M101.76,284.14L106.16,281.44L106.16,286.84Z" fill="#006E00"/>
<path d="M109.51,283.43L113.91,280.73L113.91,286.13Z" fill="#006E00"/>
<path d="M117.25,282.90L121.65,280.20L121.65,285.60Z" fill="#006E00"/>
<path d="M125.00,282.90L129.40,280.20L129.40,285.60Z" fill="#006E00"/>
<path d="M132.74,282.90L137.14,280.20L137.14,285.60Z" fill="#006E00"/>
<path d="M140.48,282.90L144.88,280.20L144.88,285.60Z" fill="#006E00"/>
<path d="M148.23,282.90L152.63,280.20L152.63,285.60Z" fill="#006E00"/>
<path d="M155.97,282.90L160.38,280.20L160.38,285.60Z" fill="#006E00"/>
<path d="M163.72,282.90L168.12,280.20L168.12,285.60Z" fill="#006E00"/>
<path d="M171.47,282.90L175.87,280.20L175.87,285.60Z" fill="#006E00"/>
<path d="M179.21,282.90L183.61,280.20L183.61,285.60Z" fill="#006E00"/>
<path d="M186.95,282.90L191.35,280.20L191.35,285.60Z" fill="#006E00"/>
<path d="M194.70,282.90L199.10,280.20L199.10,285.60Z" fill="#006E00"/>
<polyline points="50.34,319.42 58.09,282.90 65.84,280.95 73.58,278.83 81.33,276.88 89.07,274.75 96.81,273.86 104.56,272.98 112.31,272.44 120.05,272.09 127.80,271.74 135.54,271.56 143.28,271.38 151.03,271.20 158.78,271.03 166.52,270.85 174.27,270.85 182.01,270.67 189.75,270.50 197.50,270.50" fill="none" stroke="#D95319" stroke-width="1.0" stroke-linejoin="round"/>
<circle cx="50.34" cy="319.42" r="1.8" fill="#D95319"/>
<circle cx="58.09" cy="282.90" r="1.8" fill="#D95319"/>
<circle cx="65.84" cy="280.95" r="1.8" fill="#D95319"/>
<circle cx="73.58" cy="278.83" r="1.8" fill="#D95319"/>
<circle cx="81.33" cy="276.88" r="1.8" fill="#D95319"/>
<circle cx="89.07" cy="274.75" r="1.8" fill="#D95319"/>
<circle cx="96.81" cy="273.86" r="1.8" fill="#D95319"/>
<circle cx="104.56" cy="272.98" r="1.8" fill="#D95319"/>
<circle cx="112.31" cy="272.44" r="1.8" fill="#D95319"/>
<circle cx="120.05" cy="272.09" r="1.8" fill="#D95319"/>
<circle cx="127.80" cy="271.74" r="1.8" fill="#D95319"/>
<circle cx="135.54" cy="271.56" r="1.8" fill="#D95319"/>
<circle cx="143.28" cy="271.38" r="1.8" fill="#D95319"/>
<circle cx="151.03" cy="271.20" r="1.8" fill="#D95319"/>
<circle cx="158.78" cy="271.03" r="1.8" fill="#D95319"/>
<circle cx="166.52" cy="270.85" r="1.8" fill="#D95319"/>
<circle cx="174.27" cy="270.85" r="1.8" fill="#D95319"/>
<circle cx="182.01" cy="270.67" r="1.8" fill="#D95319"/>
<circle cx="189.75" cy="270.50" r="1.8" fill="#D95319"/>
<circle cx="197.50" cy="270.50" r="1.8" fill="#D95319"/>
<polyline points="50.34,335.90 58.09,310.91 65.84,301.87 73.58,289.46 81.33,281.66 89.07,277.23 96.81,273.33 104.56,270.50 112.31,269.25 120.05,268.72 127.80,268.19 135.54,267.66 143.28,267.13 151.03,266.60 158.78,266.06 166.52,265.53 174.27,265.18 182.01,264.82 189.75,264.65 197.50,264.47" fill="none" stroke="#B4C8E6" stroke-width="1.0" stroke-linejoin="round"/>
<path d="M48.84,334.40L51.84,337.40M48.84,337.40L51.84,334.40" stroke="#A6BFE0" stroke-width="1.1" fill="none"/>
<path d="M56.59,309.41L59.59,312.41M56.59,312.41L59.59,309.41" stroke="#A6BFE0" stroke-width="1.1" fill="none"/>
<path d="M64.34,300.37L67.34,303.37M64.34,303.37L67.34,300.37" stroke="#A6BFE0" stroke-width="1.1" fill="none"/>
<path d="M72.08,287.96L75.08,290.96M72.08,290.96L75.08,287.96" stroke="#A6BFE0" stroke-width="1.1" fill="none"/>
<path d="M79.83,280.16L82.83,283.16M79.83,283.16L82.83,280.16" stroke="#A6BFE0" stroke-width="1.1" fill="none"/>
<path d="M87.57,275.73L90.57,278.73M87.57,278.73L90.57,275.73" stroke="#A6BFE0" stroke-width="1.1" fill="none"/>
<path d="M95.31,271.83L98.31,274.83M95.31,274.83L98.31,271.83" stroke="#A6BFE0" stroke-width="1.1" fill="none"/>
<path d="M103.06,269.00L106.06,272.00M103.06,272.00L106.06,269.00" stroke="#A6BFE0" stroke-width="1.1" fill="none"/>
<path d="M110.81,267.75L113.81,270.75M110.81,270.75L113.81,267.75" stroke="#A6BFE0" stroke-width="1.1" fill="none"/>
<path d="M118.55,267.22L121.55,270.22M118.55,270.22L121.55,267.22" stroke="#A6BFE0" stroke-width="1.1" fill="none"/>
<path d="M126.30,266.69L129.30,269.69M126.30,269.69L129.30,266.69" stroke="#A6BFE0" stroke-width="1.1" fill="none"/>
<path d="M134.04,266.16L137.04,269.16M134.04,269.16L137.04,266.16" stroke="#A6BFE0" stroke-width="1.1" fill="none"/>
<path d="M141.78,265.63L144.78,268.63M141.78,268.63L144.78,265.63" stroke="#A6BFE0" stroke-width="1.1" fill="none"/>
<path d="M149.53,265.10L152.53,268.10M149.53,268.10L152.53,265.10" stroke="#A6BFE0" stroke-width="1.1" fill="none"/>
<path d="M157.28,264.56L160.28,267.56M157.28,267.56L160.28,264.56" stroke="#A6BFE0" stroke-width="1.1" fill="none"/>
<path d="M165.02,264.03L168.02,267.03M165.02,267.03L168.02,264.03" stroke="#A6BFE0" stroke-width="1.1" fill="none"/>
<path d="M172.77,263.68L175.77,266.68M172.77,266.68L175.77,263.68" stroke="#A6BFE0" stroke-width="1.1" fill="none"/>
<path d="M180.51,263.32L183.51,266.32M180.51,266.32L183.51,263.32" stroke="#A6BFE0" stroke-width="1.1" fill="none"/>
<path d="M188.25,263.15L191.25,266.15M188.25,266.15L191.25,263.15" stroke="#A6BFE0" stroke-width="1.1" fill="none"/>
<path d="M196.00,262.97L199.00,265.97M196.00,265.97L199.00,262.97" stroke="#A6BFE0" stroke-width="1.1" fill="none"/>
<polyline points="50.34,334.13 58.09,294.07 65.84,267.13 73.58,253.12 81.33,245.86 89.07,243.02 96.81,241.78 104.56,240.89 112.31,240.19 120.05,239.65 127.80,239.48 135.54,239.30 143.28,239.12 151.03,238.94 158.78,238.94 166.52,238.77 174.27,238.77 182.01,238.59 189.75,238.59 197.50,238.59" fill="none" stroke="#0072BD" stroke-width="1.2" stroke-linejoin="round"/>
<path d="M50.34,331.03L52.80,334.13L50.34,337.23L47.89,334.13Z" fill="#0072BD"/>
<path d="M58.09,290.97L60.54,294.07L58.09,297.17L55.64,294.07Z" fill="#0072BD"/>
<path d="M65.84,264.03L68.29,267.13L65.84,270.23L63.39,267.13Z" fill="#0072BD"/>
<path d="M73.58,250.02L76.03,253.12L73.58,256.22L71.13,253.12Z" fill="#0072BD"/>
<path d="M81.33,242.76L83.78,245.86L81.33,248.96L78.88,245.86Z" fill="#0072BD"/>
<path d="M89.07,239.92L91.52,243.02L89.07,246.12L86.62,243.02Z" fill="#0072BD"/>
<path d="M96.81,238.68L99.27,241.78L96.81,244.88L94.36,241.78Z" fill="#0072BD"/>
<path d="M104.56,237.79L107.01,240.89L104.56,243.99L102.11,240.89Z" fill="#0072BD"/>
<path d="M112.31,237.09L114.76,240.19L112.31,243.29L109.86,240.19Z" fill="#0072BD"/>
<path d="M120.05,236.55L122.50,239.65L120.05,242.75L117.60,239.65Z" fill="#0072BD"/>
<path d="M127.80,236.38L130.25,239.48L127.80,242.58L125.35,239.48Z" fill="#0072BD"/>
<path d="M135.54,236.20L137.99,239.30L135.54,242.40L133.09,239.30Z" fill="#0072BD"/>
<path d="M143.28,236.02L145.73,239.12L143.28,242.22L140.84,239.12Z" fill="#0072BD"/>
<path d="M151.03,235.84L153.48,238.94L151.03,242.04L148.58,238.94Z" fill="#0072BD"/>
<path d="M158.78,235.84L161.22,238.94L158.78,242.04L156.33,238.94Z" fill="#0072BD"/>
<path d="M166.52,235.67L168.97,238.77L166.52,241.87L164.07,238.77Z" fill="#0072BD"/>
<path d="M174.27,235.67L176.72,238.77L174.27,241.87L171.82,238.77Z" fill="#0072BD"/>
<path d="M182.01,235.49L184.46,238.59L182.01,241.69L179.56,238.59Z" fill="#0072BD"/>
<path d="M189.75,235.49L192.20,238.59L189.75,241.69L187.31,238.59Z" fill="#0072BD"/>
<path d="M197.50,235.49L199.95,238.59L197.50,241.69L195.05,238.59Z" fill="#0072BD"/>
</g>
<text x="42.60" y="391.90" text-anchor="middle" style="font-size:14px" class="t">0</text>
<text x="120.05" y="391.90" text-anchor="middle" style="font-size:14px" class="t" clip-path="url(#k14)">10</text>
<text x="197.50" y="391.90" text-anchor="middle" style="font-size:14px" class="t">20</text>
<text x="38.60" y="378.70" text-anchor="end" style="font-size:14px" class="t">0</text>
<text x="38.60" y="343.25" text-anchor="end" style="font-size:14px" class="t">2</text>
<text x="38.60" y="307.80" text-anchor="end" style="font-size:14px" class="t">4</text>
<text x="38.60" y="272.35" text-anchor="end" style="font-size:14px" class="t">6</text>
<text x="38.60" y="236.90" text-anchor="end" style="font-size:14px" class="t">8</text>
<text x="120.05" y="224.90" text-anchor="middle" style="font-size:15.6px" class="t">Euroroad</text>
<text x="120.05" y="411.60" text-anchor="middle" style="font-size:15.6px" class="t">Propagation Time</text>
<g transform="translate(17.60,302.40) rotate(-90)"><text x="-7.59" y="0.00" text-anchor="start" style="font-size:15.6px" class="t">L</text><text x="1.09" y="8.80" text-anchor="start" style="font-size:13px" class="t">s</text></g>
<defs><clipPath id="cFootball"><rect x="281.5" y="225.7" width="162.10000000000002" height="151.0"/></clipPath></defs>
<rect x="285.5" y="229.7" width="154.10000000000002" height="143.0" fill="none" stroke="#262626" stroke-width="1"/>
<path d="M285.50,372.7v-2.0M285.50,229.7v2.0M362.50,372.7v-2.0M362.50,229.7v2.0M439.50,372.7v-2.0M439.50,229.7v2.0M285.5,372.50h2.0M439.6,372.50h-2.0M285.5,315.50h2.0M439.6,315.50h-2.0M285.5,258.50h2.0M439.6,258.50h-2.0" stroke="#262626" stroke-width="1" fill="none"/>
<g clip-path="url(#cFootball)">
<polyline points="293.20,366.98 300.91,329.80 308.62,309.78 316.32,292.05 324.02,280.61 331.73,272.60 339.44,266.31 347.14,261.73 354.85,257.73 362.55,254.30 370.25,251.44 377.96,249.15 385.67,247.43 393.37,245.72 401.08,244.57 408.78,243.43 416.49,242.28 424.19,241.71 431.90,241.14 439.60,240.57" fill="none" stroke="#FFA500" stroke-width="1.0" stroke-linejoin="round"/>
<circle cx="293.20" cy="366.98" r="2.2" fill="#FFA500"/>
<circle cx="300.91" cy="329.80" r="2.2" fill="#FFA500"/>
<circle cx="308.62" cy="309.78" r="2.2" fill="#FFA500"/>
<circle cx="316.32" cy="292.05" r="2.2" fill="#FFA500"/>
<circle cx="324.02" cy="280.61" r="2.2" fill="#FFA500"/>
<circle cx="331.73" cy="272.60" r="2.2" fill="#FFA500"/>
<circle cx="339.44" cy="266.31" r="2.2" fill="#FFA500"/>
<circle cx="347.14" cy="261.73" r="2.2" fill="#FFA500"/>
<circle cx="354.85" cy="257.73" r="2.2" fill="#FFA500"/>
<circle cx="362.55" cy="254.30" r="2.2" fill="#FFA500"/>
<circle cx="370.25" cy="251.44" r="2.2" fill="#FFA500"/>
<circle cx="377.96" cy="249.15" r="2.2" fill="#FFA500"/>
<circle cx="385.67" cy="247.43" r="2.2" fill="#FFA500"/>
<circle cx="393.37" cy="245.72" r="2.2" fill="#FFA500"/>
<circle cx="401.08" cy="244.57" r="2.2" fill="#FFA500"/>
<circle cx="408.78" cy="243.43" r="2.2" fill="#FFA500"/>
<circle cx="416.49" cy="242.28" r="2.2" fill="#FFA500"/>
<circle cx="424.19" cy="241.71" r="2.2" fill="#FFA500"/>
<circle cx="431.90" cy="241.14" r="2.2" fill="#FFA500"/>
<circle cx="439.60" cy="240.57" r="2.2" fill="#FFA500"/>
<polyline points="293.20,364.12 300.91,326.94 308.62,306.92 316.32,288.04 324.02,277.75 331.73,270.31 339.44,264.59 347.14,260.02 354.85,256.58 362.55,253.15 370.25,250.86 377.96,248.58 385.67,246.86 393.37,245.14 401.08,244.00 408.78,242.86 416.49,241.71 424.19,240.57 431.90,240.00 439.60,239.42" fill="none" stroke="#77AC30" stroke-width="1.0" stroke-linejoin="round"/>
<polygon points="293.20,361.52 292.45,362.82 290.95,362.82 291.70,364.12 290.95,365.42 292.45,365.42 293.20,366.72 293.95,365.42 295.46,365.42 294.70,364.12 295.46,362.82 293.95,362.82" fill="#77AC30"/>
<polygon points="300.91,324.34 300.16,325.64 298.66,325.64 299.41,326.94 298.66,328.24 300.16,328.24 300.91,329.54 301.66,328.24 303.16,328.24 302.41,326.94 303.16,325.64 301.66,325.64" fill="#77AC30"/>
<polygon points="308.62,304.32 307.87,305.62 306.36,305.62 307.12,306.92 306.36,308.22 307.87,308.22 308.62,309.52 309.37,308.22 310.87,308.22 310.12,306.92 310.87,305.62 309.37,305.62" fill="#77AC30"/>
<polygon points="316.32,285.44 315.57,286.74 314.07,286.74 314.82,288.04 314.07,289.34 315.57,289.34 316.32,290.64 317.07,289.34 318.57,289.34 317.82,288.04 318.57,286.74 317.07,286.74" fill="#77AC30"/>
<polygon points="324.02,275.15 323.27,276.45 321.77,276.45 322.52,277.75 321.77,279.05 323.27,279.05 324.02,280.35 324.77,279.05 326.28,279.05 325.52,277.75 326.28,276.45 324.77,276.45" fill="#77AC30"/>
<polygon points="331.73,267.71 330.98,269.01 329.48,269.01 330.23,270.31 329.48,271.61 330.98,271.61 331.73,272.91 332.48,271.61 333.98,271.61 333.23,270.31 333.98,269.01 332.48,269.01" fill="#77AC30"/>
<polygon points="339.44,261.99 338.69,263.29 337.18,263.29 337.94,264.59 337.18,265.89 338.69,265.89 339.44,267.19 340.19,265.89 341.69,265.89 340.94,264.59 341.69,263.29 340.19,263.29" fill="#77AC30"/>
<polygon points="347.14,257.42 346.39,258.72 344.89,258.72 345.64,260.02 344.89,261.32 346.39,261.32 347.14,262.62 347.89,261.32 349.39,261.32 348.64,260.02 349.39,258.72 347.89,258.72" fill="#77AC30"/>
<polygon points="354.85,253.98 354.10,255.28 352.59,255.28 353.35,256.58 352.59,257.88 354.10,257.88 354.85,259.18 355.60,257.88 357.10,257.88 356.35,256.58 357.10,255.28 355.60,255.28" fill="#77AC30"/>
<polygon points="362.55,250.55 361.80,251.85 360.30,251.85 361.05,253.15 360.30,254.45 361.80,254.45 362.55,255.75 363.30,254.45 364.80,254.45 364.05,253.15 364.80,251.85 363.30,251.85" fill="#77AC30"/>
<polygon points="370.25,248.26 369.50,249.56 368.00,249.56 368.75,250.86 368.00,252.16 369.50,252.16 370.25,253.46 371.00,252.16 372.51,252.16 371.75,250.86 372.51,249.56 371.00,249.56" fill="#77AC30"/>
<polygon points="377.96,245.98 377.21,247.28 375.71,247.28 376.46,248.58 375.71,249.88 377.21,249.88 377.96,251.18 378.71,249.88 380.21,249.88 379.46,248.58 380.21,247.28 378.71,247.28" fill="#77AC30"/>
<polygon points="385.67,244.26 384.92,245.56 383.41,245.56 384.17,246.86 383.41,248.16 384.92,248.16 385.67,249.46 386.42,248.16 387.92,248.16 387.17,246.86 387.92,245.56 386.42,245.56" fill="#77AC30"/>
<polygon points="393.37,242.54 392.62,243.84 391.12,243.84 391.87,245.14 391.12,246.44 392.62,246.44 393.37,247.74 394.12,246.44 395.62,246.44 394.87,245.14 395.62,243.84 394.12,243.84" fill="#77AC30"/>
<polygon points="401.08,241.40 400.33,242.70 398.82,242.70 399.58,244.00 398.82,245.30 400.33,245.30 401.08,246.60 401.83,245.30 403.33,245.30 402.58,244.00 403.33,242.70 401.83,242.70" fill="#77AC30"/>
<polygon points="408.78,240.26 408.03,241.56 406.53,241.56 407.28,242.86 406.53,244.16 408.03,244.16 408.78,245.46 409.53,244.16 411.03,244.16 410.28,242.86 411.03,241.56 409.53,241.56" fill="#77AC30"/>
<polygon points="416.49,239.11 415.74,240.41 414.23,240.41 414.99,241.71 414.23,243.01 415.74,243.01 416.49,244.31 417.24,243.01 418.74,243.01 417.99,241.71 418.74,240.41 417.24,240.41" fill="#77AC30"/>
<polygon points="424.19,237.97 423.44,239.27 421.94,239.27 422.69,240.57 421.94,241.87 423.44,241.87 424.19,243.17 424.94,241.87 426.44,241.87 425.69,240.57 426.44,239.27 424.94,239.27" fill="#77AC30"/>
<polygon points="431.90,237.40 431.15,238.70 429.64,238.70 430.40,240.00 429.64,241.30 431.15,241.30 431.90,242.60 432.65,241.30 434.15,241.30 433.40,240.00 434.15,238.70 432.65,238.70" fill="#77AC30"/>
<polygon points="439.60,236.82 438.85,238.12 437.35,238.12 438.10,239.42 437.35,240.72 438.85,240.72 439.60,242.02 440.35,240.72 441.85,240.72 441.10,239.42 441.85,238.12 440.35,238.12" fill="#77AC30"/>
<polyline points="293.20,370.98 300.91,331.52 308.62,308.06 316.32,289.19 324.02,277.75 331.73,270.31 339.44,264.59 347.14,260.02 354.85,256.58 362.55,253.72 370.25,251.44 377.96,249.15 385.67,247.43 393.37,245.72 401.08,244.57 408.78,243.43 416.49,242.28 424.19,241.71 431.90,241.14 439.60,240.57" fill="none" stroke="#7E2F8E" stroke-width="1.0" stroke-linejoin="round"/>
<rect x="291.31" y="369.08" width="3.8" height="3.8" fill="#7E2F8E"/>
<rect x="299.01" y="329.62" width="3.8" height="3.8" fill="#7E2F8E"/>
<rect x="306.72" y="306.16" width="3.8" height="3.8" fill="#7E2F8E"/>
<rect x="314.42" y="287.29" width="3.8" height="3.8" fill="#7E2F8E"/>
<rect x="322.12" y="275.85" width="3.8" height="3.8" fill="#7E2F8E"/>
<rect x="329.83" y="268.41" width="3.8" height="3.8" fill="#7E2F8E"/>
<rect x="337.54" y="262.69" width="3.8" height="3.8" fill="#7E2F8E"/>
<rect x="345.24" y="258.12" width="3.8" height="3.8" fill="#7E2F8E"/>
<rect x="352.95" y="254.68" width="3.8" height="3.8" fill="#7E2F8E"/>
<rect x="360.65" y="251.82" width="3.8" height="3.8" fill="#7E2F8E"/>
<rect x="368.36" y="249.54" width="3.8" height="3.8" fill="#7E2F8E"/>
<rect x="376.06" y="247.25" width="3.8" height="3.8" fill="#7E2F8E"/>
<rect x="383.77" y="245.53" width="3.8" height="3.8" fill="#7E2F8E"/>
<rect x="391.47" y="243.82" width="3.8" height="3.8" fill="#7E2F8E"/>
<rect x="399.18" y="242.67" width="3.8" height="3.8" fill="#7E2F8E"/>
<rect x="406.88" y="241.53" width="3.8" height="3.8" fill="#7E2F8E"/>
<rect x="414.59" y="240.38" width="3.8" height="3.8" fill="#7E2F8E"/>
<rect x="422.29" y="239.81" width="3.8" height="3.8" fill="#7E2F8E"/>
<rect x="430.00" y="239.24" width="3.8" height="3.8" fill="#7E2F8E"/>
<rect x="437.70" y="238.67" width="3.8" height="3.8" fill="#7E2F8E"/>
<polyline points="293.20,364.69 300.91,326.94 308.62,303.49 316.32,286.90 324.02,277.18 331.73,269.74 339.44,263.45 347.14,259.44 354.85,256.01 362.55,252.01 370.25,249.72 377.96,247.43 385.67,245.72 393.37,244.00 401.08,242.86 408.78,241.71 416.49,240.57 424.19,240.00 431.90,239.42 439.60,238.85" fill="none" stroke="#FF0000" stroke-width="1.0" stroke-linejoin="round"/>
<path d="M293.20,361.89L295.90,366.29L290.50,366.29Z" fill="#FF0000"/>
<path d="M300.91,324.14L303.61,328.54L298.21,328.54Z" fill="#FF0000"/>
<path d="M308.62,300.69L311.31,305.09L305.92,305.09Z" fill="#FF0000"/>
<path d="M316.32,284.10L319.02,288.50L313.62,288.50Z" fill="#FF0000"/>
<path d="M324.02,274.38L326.72,278.78L321.32,278.78Z" fill="#FF0000"/>
<path d="M331.73,266.94L334.43,271.34L329.03,271.34Z" fill="#FF0000"/>
<path d="M339.44,260.65L342.13,265.05L336.74,265.05Z" fill="#FF0000"/>
<path d="M347.14,256.64L349.84,261.04L344.44,261.04Z" fill="#FF0000"/>
<path d="M354.85,253.21L357.55,257.61L352.15,257.61Z" fill="#FF0000"/>
<path d="M362.55,249.21L365.25,253.61L359.85,253.61Z" fill="#FF0000"/>
<path d="M370.25,246.92L372.95,251.32L367.56,251.32Z" fill="#FF0000"/>
<path d="M377.96,244.63L380.66,249.03L375.26,249.03Z" fill="#FF0000"/>
<path d="M385.67,242.92L388.37,247.32L382.97,247.32Z" fill="#FF0000"/>
<path d="M393.37,241.20L396.07,245.60L390.67,245.60Z" fill="#FF0000"/>
<path d="M401.08,240.06L403.78,244.46L398.38,244.46Z" fill="#FF0000"/>
<path d="M408.78,238.91L411.48,243.31L406.08,243.31Z" fill="#FF0000"/>
<path d="M416.49,237.77L419.19,242.17L413.79,242.17Z" fill="#FF0000"/>
<path d="M424.19,237.20L426.89,241.60L421.49,241.60Z" fill="#FF0000"/>
<path d="M431.90,236.62L434.60,241.02L429.20,241.02Z" fill="#FF0000"/>
<path d="M439.60,236.05L442.30,240.45L436.90,240.45Z" fill="#FF0000"/>
<polyline points="293.20,352.68 300.91,321.22 308.62,300.06 316.32,285.76 324.02,275.46 331.73,268.60 339.44,263.45 347.14,259.44 354.85,256.01 362.55,253.15 370.25,250.86 377.96,248.58 385.67,246.86 393.37,245.14 401.08,244.00 408.78,242.86 416.49,241.71 424.19,241.14 431.90,240.57 439.60,240.00" fill="none" stroke="#006E00" stroke-width="1.0" stroke-linejoin="round"/>
<path d="M290.40,352.68L294.81,349.98L294.81,355.38Z" fill="#006E00"/>
<path d="M298.11,321.22L302.51,318.52L302.51,323.92Z" fill="#006E00"/>
<path d="M305.81,300.06L310.22,297.36L310.22,302.76Z" fill="#006E00"/>
<path d="M313.52,285.76L317.92,283.06L317.92,288.46Z" fill="#006E00"/>
<path d="M321.22,275.46L325.62,272.76L325.62,278.16Z" fill="#006E00"/>
<path d="M328.93,268.60L333.33,265.90L333.33,271.30Z" fill="#006E00"/>
<path d="M336.63,263.45L341.04,260.75L341.04,266.15Z" fill="#006E00"/>
<path d="M344.34,259.44L348.74,256.74L348.74,262.14Z" fill="#006E00"/>
<path d="M352.05,256.01L356.45,253.31L356.45,258.71Z" fill="#006E00"/>
<path d="M359.75,253.15L364.15,250.45L364.15,255.85Z" fill="#006E00"/>
<path d="M367.45,250.86L371.86,248.16L371.86,253.56Z" fill="#006E00"/>
<path d="M375.16,248.58L379.56,245.88L379.56,251.28Z" fill="#006E00"/>
<path d="M382.87,246.86L387.27,244.16L387.27,249.56Z" fill="#006E00"/>
<path d="M390.57,245.14L394.97,242.44L394.97,247.84Z" fill="#006E00"/>
<path d="M398.28,244.00L402.68,241.30L402.68,246.70Z" fill="#006E00"/>
<path d="M405.98,242.86L410.38,240.16L410.38,245.56Z" fill="#006E00"/>
<path d="M413.69,241.71L418.09,239.01L418.09,244.41Z" fill="#006E00"/>
<path d="M421.39,241.14L425.79,238.44L425.79,243.84Z" fill="#006E00"/>
<path d="M429.10,240.57L433.50,237.87L433.50,243.27Z" fill="#006E00"/>
<path d="M436.80,240.00L441.20,237.30L441.20,242.70Z" fill="#006E00"/>
<polyline points="293.20,368.70 300.91,332.09 308.62,309.78 316.32,292.05 324.02,280.61 331.73,273.17 339.44,267.45 347.14,262.88 354.85,259.44 362.55,256.58 370.25,254.30 377.96,252.01 385.67,250.29 393.37,248.58 401.08,247.43 408.78,246.29 416.49,245.14 424.19,244.57 431.90,244.00 439.60,243.43" fill="none" stroke="#D95319" stroke-width="1.0" stroke-linejoin="round"/>
<circle cx="293.20" cy="368.70" r="1.8" fill="#D95319"/>
<circle cx="300.91" cy="332.09" r="1.8" fill="#D95319"/>
<circle cx="308.62" cy="309.78" r="1.8" fill="#D95319"/>
<circle cx="316.32" cy="292.05" r="1.8" fill="#D95319"/>
<circle cx="324.02" cy="280.61" r="1.8" fill="#D95319"/>
<circle cx="331.73" cy="273.17" r="1.8" fill="#D95319"/>
<circle cx="339.44" cy="267.45" r="1.8" fill="#D95319"/>
<circle cx="347.14" cy="262.88" r="1.8" fill="#D95319"/>
<circle cx="354.85" cy="259.44" r="1.8" fill="#D95319"/>
<circle cx="362.55" cy="256.58" r="1.8" fill="#D95319"/>
<circle cx="370.25" cy="254.30" r="1.8" fill="#D95319"/>
<circle cx="377.96" cy="252.01" r="1.8" fill="#D95319"/>
<circle cx="385.67" cy="250.29" r="1.8" fill="#D95319"/>
<circle cx="393.37" cy="248.58" r="1.8" fill="#D95319"/>
<circle cx="401.08" cy="247.43" r="1.8" fill="#D95319"/>
<circle cx="408.78" cy="246.29" r="1.8" fill="#D95319"/>
<circle cx="416.49" cy="245.14" r="1.8" fill="#D95319"/>
<circle cx="424.19" cy="244.57" r="1.8" fill="#D95319"/>
<circle cx="431.90" cy="244.00" r="1.8" fill="#D95319"/>
<circle cx="439.60" cy="243.43" r="1.8" fill="#D95319"/>
<polyline points="293.20,352.68 300.91,322.36 308.62,301.20 316.32,286.90 324.02,276.60 331.73,269.74 339.44,264.02 347.14,260.02 354.85,256.58 362.55,253.72 370.25,251.44 377.96,249.15 385.67,247.43 393.37,245.72 401.08,244.57 408.78,243.43 416.49,242.28 424.19,241.71 431.90,241.14 439.60,240.57" fill="none" stroke="#B4C8E6" stroke-width="1.0" stroke-linejoin="round"/>
<path d="M291.70,351.18L294.70,354.18M291.70,354.18L294.70,351.18" stroke="#A6BFE0" stroke-width="1.1" fill="none"/>
<path d="M299.41,320.86L302.41,323.86M299.41,323.86L302.41,320.86" stroke="#A6BFE0" stroke-width="1.1" fill="none"/>
<path d="M307.12,299.70L310.12,302.70M307.12,302.70L310.12,299.70" stroke="#A6BFE0" stroke-width="1.1" fill="none"/>
<path d="M314.82,285.40L317.82,288.40M314.82,288.40L317.82,285.40" stroke="#A6BFE0" stroke-width="1.1" fill="none"/>
<path d="M322.52,275.10L325.52,278.10M322.52,278.10L325.52,275.10" stroke="#A6BFE0" stroke-width="1.1" fill="none"/>
<path d="M330.23,268.24L333.23,271.24M330.23,271.24L333.23,268.24" stroke="#A6BFE0" stroke-width="1.1" fill="none"/>
<path d="M337.94,262.52L340.94,265.52M337.94,265.52L340.94,262.52" stroke="#A6BFE0" stroke-width="1.1" fill="none"/>
<path d="M345.64,258.52L348.64,261.52M345.64,261.52L348.64,258.52" stroke="#A6BFE0" stroke-width="1.1" fill="none"/>
<path d="M353.35,255.08L356.35,258.08M353.35,258.08L356.35,255.08" stroke="#A6BFE0" stroke-width="1.1" fill="none"/>
<path d="M361.05,252.22L364.05,255.22M361.05,255.22L364.05,252.22" stroke="#A6BFE0" stroke-width="1.1" fill="none"/>
<path d="M368.75,249.94L371.75,252.94M368.75,252.94L371.75,249.94" stroke="#A6BFE0" stroke-width="1.1" fill="none"/>
<path d="M376.46,247.65L379.46,250.65M376.46,250.65L379.46,247.65" stroke="#A6BFE0" stroke-width="1.1" fill="none"/>
<path d="M384.17,245.93L387.17,248.93M384.17,248.93L387.17,245.93" stroke="#A6BFE0" stroke-width="1.1" fill="none"/>
<path d="M391.87,244.22L394.87,247.22M391.87,247.22L394.87,244.22" stroke="#A6BFE0" stroke-width="1.1" fill="none"/>
<path d="M399.58,243.07L402.58,246.07M399.58,246.07L402.58,243.07" stroke="#A6BFE0" stroke-width="1.1" fill="none"/>
<path d="M407.28,241.93L410.28,244.93M407.28,244.93L410.28,241.93" stroke="#A6BFE0" stroke-width="1.1" fill="none"/>
<path d="M414.99,240.78L417.99,243.78M414.99,243.78L417.99,240.78" stroke="#A6BFE0" stroke-width="1.1" fill="none"/>
<path d="M422.69,240.21L425.69,243.21M422.69,243.21L425.69,240.21" stroke="#A6BFE0" stroke-width="1.1" fill="none"/>
<path d="M430.40,239.64L433.40,242.64M430.40,242.64L433.40,239.64" stroke="#A6BFE0" stroke-width="1.1" fill="none"/>
<path d="M438.10,239.07L441.10,242.07M438.10,242.07L441.10,239.07" stroke="#A6BFE0" stroke-width="1.1" fill="none"/>
<polyline points="293.20,344.10 300.91,317.22 308.62,296.62 316.32,283.47 324.02,272.60 331.73,266.31 339.44,261.73 347.14,256.58 354.85,252.58 362.55,249.72 370.25,248.00 377.96,246.29 385.67,245.14 393.37,244.00 401.08,242.86 408.78,241.71 416.49,241.14 424.19,240.00 431.90,239.42 439.60,238.85" fill="none" stroke="#0072BD" stroke-width="1.2" stroke-linejoin="round"/>
<path d="M293.20,341.00L295.65,344.10L293.20,347.20L290.75,344.10Z" fill="#0072BD"/>
<path d="M300.91,314.12L303.36,317.22L300.91,320.32L298.46,317.22Z" fill="#0072BD"/>
<path d="M308.62,293.52L311.06,296.62L308.62,299.72L306.17,296.62Z" fill="#0072BD"/>
<path d="M316.32,280.37L318.77,283.47L316.32,286.57L313.87,283.47Z" fill="#0072BD"/>
<path d="M324.02,269.50L326.47,272.60L324.02,275.70L321.57,272.60Z" fill="#0072BD"/>
<path d="M331.73,263.21L334.18,266.31L331.73,269.41L329.28,266.31Z" fill="#0072BD"/>
<path d="M339.44,258.63L341.88,261.73L339.44,264.83L336.99,261.73Z" fill="#0072BD"/>
<path d="M347.14,253.48L349.59,256.58L347.14,259.68L344.69,256.58Z" fill="#0072BD"/>
<path d="M354.85,249.48L357.30,252.58L354.85,255.68L352.40,252.58Z" fill="#0072BD"/>
<path d="M362.55,246.62L365.00,249.72L362.55,252.82L360.10,249.72Z" fill="#0072BD"/>
<path d="M370.25,244.90L372.70,248.00L370.25,251.10L367.81,248.00Z" fill="#0072BD"/>
<path d="M377.96,243.19L380.41,246.29L377.96,249.39L375.51,246.29Z" fill="#0072BD"/>
<path d="M385.67,242.04L388.12,245.14L385.67,248.24L383.22,245.14Z" fill="#0072BD"/>
<path d="M393.37,240.90L395.82,244.00L393.37,247.10L390.92,244.00Z" fill="#0072BD"/>
<path d="M401.08,239.76L403.53,242.86L401.08,245.96L398.63,242.86Z" fill="#0072BD"/>
<path d="M408.78,238.61L411.23,241.71L408.78,244.81L406.33,241.71Z" fill="#0072BD"/>
<path d="M416.49,238.04L418.94,241.14L416.49,244.24L414.04,241.14Z" fill="#0072BD"/>
<path d="M424.19,236.90L426.64,240.00L424.19,243.10L421.74,240.00Z" fill="#0072BD"/>
<path d="M431.90,236.32L434.35,239.42L431.90,242.52L429.45,239.42Z" fill="#0072BD"/>
<path d="M439.60,235.75L442.05,238.85L439.60,241.95L437.15,238.85Z" fill="#0072BD"/>
</g>
<text x="285.50" y="391.30" text-anchor="middle" style="font-size:14px" class="t">0</text>
<text x="362.55" y="391.30" text-anchor="middle" style="font-size:14px" class="t" clip-path="url(#k15)">10</text>
<text x="439.60" y="391.30" text-anchor="middle" style="font-size:14px" class="t">20</text>
<text x="281.50" y="378.10" text-anchor="end" style="font-size:14px" class="t" clip-path="url(#k16)">1</text>
<text x="281.50" y="320.90" text-anchor="end" style="font-size:14px" class="t" clip-path="url(#k17)">1.1</text>
<text x="281.50" y="263.70" text-anchor="end" style="font-size:14px" class="t" clip-path="url(#k18)">1.2</text>
<text x="362.55" y="223.10" text-anchor="middle" style="font-size:15.6px" class="t">Football</text>
<text x="362.55" y="411.00" text-anchor="middle" style="font-size:15.6px" class="t">Propagation Time</text>
<g transform="translate(248.90,301.20) rotate(-90)"><text x="-7.59" y="0.00" text-anchor="start" style="font-size:15.6px" class="t">L</text><text x="1.09" y="8.80" text-anchor="start" style="font-size:13px" class="t">s</text></g>
<defs><clipPath id="cPowerGrid"><rect x="512.1" y="231.35" width="163.10000000000002" height="146.54999999999998"/></clipPath></defs>
<rect x="516.1" y="235.35" width="155.10000000000002" height="138.54999999999998" fill="none" stroke="#262626" stroke-width="1"/>
<path d="M516.50,373.9v-2.0M516.50,235.35v2.0M593.50,373.9v-2.0M593.50,235.35v2.0M671.50,373.9v-2.0M671.50,235.35v2.0M516.1,373.50h2.0M671.2,373.50h-2.0M516.1,304.50h2.0M671.2,304.50h-2.0M516.1,235.50h2.0M671.2,235.50h-2.0" stroke="#262626" stroke-width="1" fill="none"/>
<g clip-path="url(#cPowerGrid)">
<polyline points="523.86,362.40 531.61,280.66 539.37,247.82 547.12,240.89 554.88,241.58 562.63,242.42 570.38,242.42 578.14,242.42 585.89,242.42 593.65,242.42 601.41,242.42 609.16,242.42 616.92,242.42 624.67,242.42 632.43,242.42 640.18,242.42 647.94,242.42 655.69,242.42 663.45,242.42 671.20,242.42" fill="none" stroke="#FFA500" stroke-width="1.0" stroke-linejoin="round"/>
<circle cx="523.86" cy="362.40" r="2.2" fill="#FFA500"/>
<circle cx="531.61" cy="280.66" r="2.2" fill="#FFA500"/>
<circle cx="539.37" cy="247.82" r="2.2" fill="#FFA500"/>
<circle cx="547.12" cy="240.89" r="2.2" fill="#FFA500"/>
<circle cx="554.88" cy="241.58" r="2.2" fill="#FFA500"/>
<circle cx="562.63" cy="242.42" r="2.2" fill="#FFA500"/>
<circle cx="570.38" cy="242.42" r="2.2" fill="#FFA500"/>
<circle cx="578.14" cy="242.42" r="2.2" fill="#FFA500"/>
<circle cx="585.89" cy="242.42" r="2.2" fill="#FFA500"/>
<circle cx="593.65" cy="242.42" r="2.2" fill="#FFA500"/>
<circle cx="601.41" cy="242.42" r="2.2" fill="#FFA500"/>
<circle cx="609.16" cy="242.42" r="2.2" fill="#FFA500"/>
<circle cx="616.92" cy="242.42" r="2.2" fill="#FFA500"/>
<circle cx="624.67" cy="242.42" r="2.2" fill="#FFA500"/>
<circle cx="632.43" cy="242.42" r="2.2" fill="#FFA500"/>
<circle cx="640.18" cy="242.42" r="2.2" fill="#FFA500"/>
<circle cx="647.94" cy="242.42" r="2.2" fill="#FFA500"/>
<circle cx="655.69" cy="242.42" r="2.2" fill="#FFA500"/>
<circle cx="663.45" cy="242.42" r="2.2" fill="#FFA500"/>
<circle cx="671.20" cy="242.42" r="2.2" fill="#FFA500"/>
<polyline points="523.86,322.91 531.61,256.83 539.37,252.67 547.12,250.17 554.88,248.93 562.63,248.51 570.38,248.37 578.14,248.24 585.89,248.10 593.65,247.96 601.41,247.82 609.16,247.68 616.92,247.54 624.67,247.40 632.43,247.27 640.18,247.13 647.94,246.99 655.69,246.99 663.45,246.99 671.20,246.99" fill="none" stroke="#77AC30" stroke-width="1.0" stroke-linejoin="round"/>
<polygon points="523.86,320.31 523.11,321.61 521.60,321.61 522.36,322.91 521.60,324.21 523.11,324.21 523.86,325.51 524.61,324.21 526.11,324.21 525.36,322.91 526.11,321.61 524.61,321.61" fill="#77AC30"/>
<polygon points="531.61,254.23 530.86,255.53 529.36,255.53 530.11,256.83 529.36,258.13 530.86,258.12 531.61,259.43 532.36,258.12 533.86,258.13 533.11,256.83 533.86,255.53 532.36,255.53" fill="#77AC30"/>
<polygon points="539.37,250.07 538.62,251.37 537.11,251.37 537.87,252.67 537.11,253.97 538.62,253.97 539.37,255.27 540.12,253.97 541.62,253.97 540.87,252.67 541.62,251.37 540.12,251.37" fill="#77AC30"/>
<polygon points="547.12,247.57 546.37,248.88 544.87,248.87 545.62,250.17 544.87,251.47 546.37,251.47 547.12,252.77 547.87,251.47 549.37,251.47 548.62,250.17 549.37,248.87 547.87,248.88" fill="#77AC30"/>
<polygon points="554.88,246.33 554.12,247.63 552.62,247.63 553.38,248.93 552.62,250.23 554.12,250.23 554.88,251.53 555.62,250.23 557.13,250.23 556.38,248.93 557.13,247.63 555.62,247.63" fill="#77AC30"/>
<polygon points="562.63,245.91 561.88,247.21 560.38,247.21 561.13,248.51 560.38,249.81 561.88,249.81 562.63,251.11 563.38,249.81 564.88,249.81 564.13,248.51 564.88,247.21 563.38,247.21" fill="#77AC30"/>
<polygon points="570.38,245.77 569.63,247.07 568.13,247.07 568.88,248.37 568.13,249.67 569.63,249.67 570.38,250.97 571.13,249.67 572.64,249.67 571.88,248.37 572.64,247.07 571.13,247.07" fill="#77AC30"/>
<polygon points="578.14,245.64 577.39,246.94 575.89,246.94 576.64,248.24 575.89,249.54 577.39,249.53 578.14,250.84 578.89,249.53 580.39,249.54 579.64,248.24 580.39,246.94 578.89,246.94" fill="#77AC30"/>
<polygon points="585.89,245.50 585.14,246.80 583.64,246.80 584.39,248.10 583.64,249.40 585.14,249.40 585.89,250.70 586.64,249.40 588.15,249.40 587.39,248.10 588.15,246.80 586.64,246.80" fill="#77AC30"/>
<polygon points="593.65,245.36 592.90,246.66 591.40,246.66 592.15,247.96 591.40,249.26 592.90,249.26 593.65,250.56 594.40,249.26 595.90,249.26 595.15,247.96 595.90,246.66 594.40,246.66" fill="#77AC30"/>
<polygon points="601.41,245.22 600.66,246.52 599.15,246.52 599.91,247.82 599.15,249.12 600.66,249.12 601.41,250.42 602.16,249.12 603.66,249.12 602.91,247.82 603.66,246.52 602.16,246.52" fill="#77AC30"/>
<polygon points="609.16,245.08 608.41,246.38 606.91,246.38 607.66,247.68 606.91,248.98 608.41,248.98 609.16,250.28 609.91,248.98 611.41,248.98 610.66,247.68 611.41,246.38 609.91,246.38" fill="#77AC30"/>
<polygon points="616.92,244.94 616.17,246.24 614.66,246.24 615.42,247.54 614.66,248.84 616.17,248.84 616.92,250.14 617.67,248.84 619.17,248.84 618.42,247.54 619.17,246.24 617.67,246.24" fill="#77AC30"/>
<polygon points="624.67,244.80 623.92,246.10 622.42,246.10 623.17,247.40 622.42,248.70 623.92,248.70 624.67,250.00 625.42,248.70 626.92,248.70 626.17,247.40 626.92,246.10 625.42,246.10" fill="#77AC30"/>
<polygon points="632.43,244.67 631.68,245.97 630.17,245.97 630.93,247.27 630.17,248.57 631.68,248.56 632.43,249.87 633.18,248.56 634.68,248.57 633.93,247.27 634.68,245.97 633.18,245.97" fill="#77AC30"/>
<polygon points="640.18,244.53 639.43,245.83 637.93,245.83 638.68,247.13 637.93,248.43 639.43,248.43 640.18,249.73 640.93,248.43 642.43,248.43 641.68,247.13 642.43,245.83 640.93,245.83" fill="#77AC30"/>
<polygon points="647.94,244.39 647.19,245.69 645.68,245.69 646.44,246.99 645.68,248.29 647.19,248.29 647.94,249.59 648.69,248.29 650.19,248.29 649.44,246.99 650.19,245.69 648.69,245.69" fill="#77AC30"/>
<polygon points="655.69,244.39 654.94,245.69 653.44,245.69 654.19,246.99 653.44,248.29 654.94,248.29 655.69,249.59 656.44,248.29 657.94,248.29 657.19,246.99 657.94,245.69 656.44,245.69" fill="#77AC30"/>
<polygon points="663.45,244.39 662.70,245.69 661.19,245.69 661.95,246.99 661.19,248.29 662.70,248.29 663.45,249.59 664.20,248.29 665.70,248.29 664.95,246.99 665.70,245.69 664.20,245.69" fill="#77AC30"/>
<polygon points="671.20,244.39 670.45,245.69 668.95,245.69 669.70,246.99 668.95,248.29 670.45,248.29 671.20,249.59 671.95,248.29 673.45,248.29 672.70,246.99 673.45,245.69 671.95,245.69" fill="#77AC30"/>
<polyline points="523.86,358.38 531.61,335.80 539.37,308.64 547.12,285.64 554.88,267.36 562.63,263.89 570.38,261.26 578.14,259.04 585.89,258.35 593.65,260.15 601.41,257.24 609.16,258.35 616.92,258.35 624.67,254.89 632.43,254.75 640.18,254.75 647.94,254.75 655.69,254.75 663.45,254.75 671.20,254.75" fill="none" stroke="#7E2F8E" stroke-width="1.0" stroke-linejoin="round"/>
<rect x="521.96" y="356.48" width="3.8" height="3.8" fill="#7E2F8E"/>
<rect x="529.71" y="333.90" width="3.8" height="3.8" fill="#7E2F8E"/>
<rect x="537.47" y="306.74" width="3.8" height="3.8" fill="#7E2F8E"/>
<rect x="545.22" y="283.74" width="3.8" height="3.8" fill="#7E2F8E"/>
<rect x="552.98" y="265.46" width="3.8" height="3.8" fill="#7E2F8E"/>
<rect x="560.73" y="261.99" width="3.8" height="3.8" fill="#7E2F8E"/>
<rect x="568.49" y="259.36" width="3.8" height="3.8" fill="#7E2F8E"/>
<rect x="576.24" y="257.14" width="3.8" height="3.8" fill="#7E2F8E"/>
<rect x="584.00" y="256.45" width="3.8" height="3.8" fill="#7E2F8E"/>
<rect x="591.75" y="258.25" width="3.8" height="3.8" fill="#7E2F8E"/>
<rect x="599.51" y="255.34" width="3.8" height="3.8" fill="#7E2F8E"/>
<rect x="607.26" y="256.45" width="3.8" height="3.8" fill="#7E2F8E"/>
<rect x="615.02" y="256.45" width="3.8" height="3.8" fill="#7E2F8E"/>
<rect x="622.77" y="252.99" width="3.8" height="3.8" fill="#7E2F8E"/>
<rect x="630.53" y="252.85" width="3.8" height="3.8" fill="#7E2F8E"/>
<rect x="638.28" y="252.85" width="3.8" height="3.8" fill="#7E2F8E"/>
<rect x="646.04" y="252.85" width="3.8" height="3.8" fill="#7E2F8E"/>
<rect x="653.79" y="252.85" width="3.8" height="3.8" fill="#7E2F8E"/>
<rect x="661.55" y="252.85" width="3.8" height="3.8" fill="#7E2F8E"/>
<rect x="669.30" y="252.85" width="3.8" height="3.8" fill="#7E2F8E"/>
<polyline points="523.86,359.77 531.61,311.97 539.37,274.14 547.12,253.36 554.88,243.66 562.63,243.94 570.38,243.94 578.14,243.94 585.89,243.94 593.65,243.94 601.41,243.94 609.16,243.94 616.92,243.94 624.67,243.94 632.43,243.94 640.18,243.94 647.94,243.94 655.69,243.94 663.45,243.94 671.20,243.94" fill="none" stroke="#FF0000" stroke-width="1.0" stroke-linejoin="round"/>
<path d="M523.86,356.97L526.56,361.37L521.15,361.37Z" fill="#FF0000"/>
<path d="M531.61,309.17L534.31,313.57L528.91,313.57Z" fill="#FF0000"/>
<path d="M539.37,271.34L542.07,275.74L536.66,275.74Z" fill="#FF0000"/>
<path d="M547.12,250.56L549.82,254.96L544.42,254.96Z" fill="#FF0000"/>
<path d="M554.88,240.86L557.58,245.26L552.17,245.26Z" fill="#FF0000"/>
<path d="M562.63,241.14L565.33,245.54L559.93,245.54Z" fill="#FF0000"/>
<path d="M570.38,241.14L573.09,245.54L567.68,245.54Z" fill="#FF0000"/>
<path d="M578.14,241.14L580.84,245.54L575.44,245.54Z" fill="#FF0000"/>
<path d="M585.89,241.14L588.60,245.54L583.19,245.54Z" fill="#FF0000"/>
<path d="M593.65,241.14L596.35,245.54L590.95,245.54Z" fill="#FF0000"/>
<path d="M601.41,241.14L604.11,245.54L598.71,245.54Z" fill="#FF0000"/>
<path d="M609.16,241.14L611.86,245.54L606.46,245.54Z" fill="#FF0000"/>
<path d="M616.92,241.14L619.62,245.54L614.22,245.54Z" fill="#FF0000"/>
<path d="M624.67,241.14L627.37,245.54L621.97,245.54Z" fill="#FF0000"/>
<path d="M632.43,241.14L635.13,245.54L629.73,245.54Z" fill="#FF0000"/>
<path d="M640.18,241.14L642.88,245.54L637.48,245.54Z" fill="#FF0000"/>
<path d="M647.94,241.14L650.64,245.54L645.24,245.54Z" fill="#FF0000"/>
<path d="M655.69,241.14L658.39,245.54L652.99,245.54Z" fill="#FF0000"/>
<path d="M663.45,241.14L666.15,245.54L660.75,245.54Z" fill="#FF0000"/>
<path d="M671.20,241.14L673.90,245.54L668.50,245.54Z" fill="#FF0000"/>
<polyline points="523.86,349.79 531.61,273.04 539.37,259.73 547.12,255.30 554.88,254.05 562.63,252.67 570.38,251.56 578.14,251.28 585.89,251.01 593.65,250.87 601.41,250.59 609.16,250.31 616.92,250.17 624.67,250.04 632.43,249.90 640.18,249.90 647.94,249.90 655.69,249.90 663.45,249.90 671.20,249.90" fill="none" stroke="#006E00" stroke-width="1.0" stroke-linejoin="round"/>
<path d="M521.06,349.79L525.46,347.09L525.46,352.49Z" fill="#006E00"/>
<path d="M528.81,273.04L533.21,270.34L533.21,275.74Z" fill="#006E00"/>
<path d="M536.57,259.73L540.97,257.03L540.97,262.43Z" fill="#006E00"/>
<path d="M544.32,255.30L548.72,252.60L548.72,258.00Z" fill="#006E00"/>
<path d="M552.08,254.05L556.48,251.35L556.48,256.75Z" fill="#006E00"/>
<path d="M559.83,252.67L564.23,249.97L564.23,255.37Z" fill="#006E00"/>
<path d="M567.59,251.56L571.99,248.86L571.99,254.26Z" fill="#006E00"/>
<path d="M575.34,251.28L579.74,248.58L579.74,253.98Z" fill="#006E00"/>
<path d="M583.10,251.01L587.50,248.31L587.50,253.71Z" fill="#006E00"/>
<path d="M590.85,250.87L595.25,248.17L595.25,253.57Z" fill="#006E00"/>
<path d="M598.61,250.59L603.01,247.89L603.01,253.29Z" fill="#006E00"/>
<path d="M606.36,250.31L610.76,247.61L610.76,253.01Z" fill="#006E00"/>
<path d="M614.12,250.17L618.52,247.47L618.52,252.87Z" fill="#006E00"/>
<path d="M621.87,250.04L626.27,247.34L626.27,252.74Z" fill="#006E00"/>
<path d="M629.63,249.90L634.03,247.20L634.03,252.60Z" fill="#006E00"/>
<path d="M637.38,249.90L641.78,247.20L641.78,252.60Z" fill="#006E00"/>
<path d="M645.14,249.90L649.54,247.20L649.54,252.60Z" fill="#006E00"/>
<path d="M652.89,249.90L657.29,247.20L657.29,252.60Z" fill="#006E00"/>
<path d="M660.65,249.90L665.05,247.20L665.05,252.60Z" fill="#006E00"/>
<path d="M668.40,249.90L672.80,247.20L672.80,252.60Z" fill="#006E00"/>
<polyline points="523.86,350.76 531.61,259.04 539.37,258.07 547.12,257.52 554.88,256.83 562.63,256.55 570.38,254.61 578.14,254.33 585.89,254.05 593.65,253.36 601.41,252.53 609.16,252.53 616.92,252.39 624.67,251.56 632.43,251.42 640.18,251.42 647.94,251.42 655.69,251.42 663.45,251.42 671.20,251.42" fill="none" stroke="#D95319" stroke-width="1.0" stroke-linejoin="round"/>
<circle cx="523.86" cy="350.76" r="1.8" fill="#D95319"/>
<circle cx="531.61" cy="259.04" r="1.8" fill="#D95319"/>
<circle cx="539.37" cy="258.07" r="1.8" fill="#D95319"/>
<circle cx="547.12" cy="257.52" r="1.8" fill="#D95319"/>
<circle cx="554.88" cy="256.83" r="1.8" fill="#D95319"/>
<circle cx="562.63" cy="256.55" r="1.8" fill="#D95319"/>
<circle cx="570.38" cy="254.61" r="1.8" fill="#D95319"/>
<circle cx="578.14" cy="254.33" r="1.8" fill="#D95319"/>
<circle cx="585.89" cy="254.05" r="1.8" fill="#D95319"/>
<circle cx="593.65" cy="253.36" r="1.8" fill="#D95319"/>
<circle cx="601.41" cy="252.53" r="1.8" fill="#D95319"/>
<circle cx="609.16" cy="252.53" r="1.8" fill="#D95319"/>
<circle cx="616.92" cy="252.39" r="1.8" fill="#D95319"/>
<circle cx="624.67" cy="251.56" r="1.8" fill="#D95319"/>
<circle cx="632.43" cy="251.42" r="1.8" fill="#D95319"/>
<circle cx="640.18" cy="251.42" r="1.8" fill="#D95319"/>
<circle cx="647.94" cy="251.42" r="1.8" fill="#D95319"/>
<circle cx="655.69" cy="251.42" r="1.8" fill="#D95319"/>
<circle cx="663.45" cy="251.42" r="1.8" fill="#D95319"/>
<circle cx="671.20" cy="251.42" r="1.8" fill="#D95319"/>
<polyline points="523.86,355.06 531.61,258.90 539.37,246.43 547.12,245.88 554.88,245.60 562.63,245.46 570.38,245.46 578.14,245.46 585.89,245.46 593.65,245.46 601.41,245.46 609.16,245.46 616.92,245.46 624.67,245.46 632.43,245.46 640.18,245.46 647.94,245.46 655.69,245.46 663.45,245.46 671.20,245.46" fill="none" stroke="#B4C8E6" stroke-width="1.0" stroke-linejoin="round"/>
<path d="M522.36,353.56L525.36,356.56M522.36,356.56L525.36,353.56" stroke="#A6BFE0" stroke-width="1.1" fill="none"/>
<path d="M530.11,257.40L533.11,260.40M530.11,260.40L533.11,257.40" stroke="#A6BFE0" stroke-width="1.1" fill="none"/>
<path d="M537.87,244.93L540.87,247.93M537.87,247.93L540.87,244.93" stroke="#A6BFE0" stroke-width="1.1" fill="none"/>
<path d="M545.62,244.38L548.62,247.38M545.62,247.38L548.62,244.38" stroke="#A6BFE0" stroke-width="1.1" fill="none"/>
<path d="M553.38,244.10L556.38,247.10M553.38,247.10L556.38,244.10" stroke="#A6BFE0" stroke-width="1.1" fill="none"/>
<path d="M561.13,243.96L564.13,246.96M561.13,246.96L564.13,243.96" stroke="#A6BFE0" stroke-width="1.1" fill="none"/>
<path d="M568.88,243.96L571.88,246.96M568.88,246.96L571.88,243.96" stroke="#A6BFE0" stroke-width="1.1" fill="none"/>
<path d="M576.64,243.96L579.64,246.96M576.64,246.96L579.64,243.96" stroke="#A6BFE0" stroke-width="1.1" fill="none"/>
<path d="M584.39,243.96L587.39,246.96M584.39,246.96L587.39,243.96" stroke="#A6BFE0" stroke-width="1.1" fill="none"/>
<path d="M592.15,243.96L595.15,246.96M592.15,246.96L595.15,243.96" stroke="#A6BFE0" stroke-width="1.1" fill="none"/>
<path d="M599.91,243.96L602.91,246.96M599.91,246.96L602.91,243.96" stroke="#A6BFE0" stroke-width="1.1" fill="none"/>
<path d="M607.66,243.96L610.66,246.96M607.66,246.96L610.66,243.96" stroke="#A6BFE0" stroke-width="1.1" fill="none"/>
<path d="M615.42,243.96L618.42,246.96M615.42,246.96L618.42,243.96" stroke="#A6BFE0" stroke-width="1.1" fill="none"/>
<path d="M623.17,243.96L626.17,246.96M623.17,246.96L626.17,243.96" stroke="#A6BFE0" stroke-width="1.1" fill="none"/>
<path d="M630.93,243.96L633.93,246.96M630.93,246.96L633.93,243.96" stroke="#A6BFE0" stroke-width="1.1" fill="none"/>
<path d="M638.68,243.96L641.68,246.96M638.68,246.96L641.68,243.96" stroke="#A6BFE0" stroke-width="1.1" fill="none"/>
<path d="M646.44,243.96L649.44,246.96M646.44,246.96L649.44,243.96" stroke="#A6BFE0" stroke-width="1.1" fill="none"/>
<path d="M654.19,243.96L657.19,246.96M654.19,246.96L657.19,243.96" stroke="#A6BFE0" stroke-width="1.1" fill="none"/>
<path d="M661.95,243.96L664.95,246.96M661.95,246.96L664.95,243.96" stroke="#A6BFE0" stroke-width="1.1" fill="none"/>
<path d="M669.70,243.96L672.70,246.96M669.70,246.96L672.70,243.96" stroke="#A6BFE0" stroke-width="1.1" fill="none"/>
<polyline points="523.86,339.82 531.61,274.14 539.37,248.93 547.12,241.31 554.88,240.75 562.63,242.00 570.38,242.00 578.14,242.00 585.89,242.00 593.65,242.00 601.41,242.00 609.16,242.00 616.92,242.00 624.67,242.00 632.43,242.00 640.18,242.00 647.94,242.00 655.69,242.00 663.45,242.00 671.20,242.00" fill="none" stroke="#0072BD" stroke-width="1.2" stroke-linejoin="round"/>
<path d="M523.86,336.72L526.31,339.82L523.86,342.92L521.40,339.82Z" fill="#0072BD"/>
<path d="M531.61,271.04L534.06,274.14L531.61,277.24L529.16,274.14Z" fill="#0072BD"/>
<path d="M539.37,245.83L541.82,248.93L539.37,252.03L536.91,248.93Z" fill="#0072BD"/>
<path d="M547.12,238.21L549.57,241.31L547.12,244.41L544.67,241.31Z" fill="#0072BD"/>
<path d="M554.88,237.65L557.33,240.75L554.88,243.85L552.42,240.75Z" fill="#0072BD"/>
<path d="M562.63,238.90L565.08,242.00L562.63,245.10L560.18,242.00Z" fill="#0072BD"/>
<path d="M570.38,238.90L572.84,242.00L570.38,245.10L567.93,242.00Z" fill="#0072BD"/>
<path d="M578.14,238.90L580.59,242.00L578.14,245.10L575.69,242.00Z" fill="#0072BD"/>
<path d="M585.89,238.90L588.35,242.00L585.89,245.10L583.44,242.00Z" fill="#0072BD"/>
<path d="M593.65,238.90L596.10,242.00L593.65,245.10L591.20,242.00Z" fill="#0072BD"/>
<path d="M601.41,238.90L603.86,242.00L601.41,245.10L598.96,242.00Z" fill="#0072BD"/>
<path d="M609.16,238.90L611.61,242.00L609.16,245.10L606.71,242.00Z" fill="#0072BD"/>
<path d="M616.92,238.90L619.37,242.00L616.92,245.10L614.47,242.00Z" fill="#0072BD"/>
<path d="M624.67,238.90L627.12,242.00L624.67,245.10L622.22,242.00Z" fill="#0072BD"/>
<path d="M632.43,238.90L634.88,242.00L632.43,245.10L629.98,242.00Z" fill="#0072BD"/>
<path d="M640.18,238.90L642.63,242.00L640.18,245.10L637.73,242.00Z" fill="#0072BD"/>
<path d="M647.94,238.90L650.39,242.00L647.94,245.10L645.49,242.00Z" fill="#0072BD"/>
<path d="M655.69,238.90L658.14,242.00L655.69,245.10L653.24,242.00Z" fill="#0072BD"/>
<path d="M663.45,238.90L665.90,242.00L663.45,245.10L661.00,242.00Z" fill="#0072BD"/>
<path d="M671.20,238.90L673.65,242.00L671.20,245.10L668.75,242.00Z" fill="#0072BD"/>
</g>
<text x="516.10" y="392.50" text-anchor="middle" style="font-size:14px" class="t">0</text>
<text x="593.65" y="392.50" text-anchor="middle" style="font-size:14px" class="t" clip-path="url(#k19)">10</text>
<text x="671.20" y="392.50" text-anchor="middle" style="font-size:14px" class="t">20</text>
<text x="512.10" y="379.30" text-anchor="end" style="font-size:14px" class="t">0</text>
<text x="512.10" y="310.02" text-anchor="end" style="font-size:14px" class="t">5</text>
<text x="512.10" y="240.75" text-anchor="end" style="font-size:14px" class="t" clip-path="url(#k20)">10</text>
<text x="593.65" y="228.75" text-anchor="middle" style="font-size:15.6px" class="t">PowerGrid</text>
<text x="593.65" y="412.20" text-anchor="middle" style="font-size:15.6px" class="t">Propagation Time</text>
<g transform="translate(485.00,304.62) rotate(-90)"><text x="-7.59" y="0.00" text-anchor="start" style="font-size:15.6px" class="t">L</text><text x="1.09" y="8.80" text-anchor="start" style="font-size:13px" class="t">s</text></g>
<defs><clipPath id="cNetscience"><rect x="156.65" y="437.4" width="168.74999999999997" height="155.60000000000002"/></clipPath></defs>
<rect x="160.65" y="441.4" width="160.74999999999997" height="147.60000000000002" fill="none" stroke="#262626" stroke-width="1"/>
<path d="M160.50,589.0v-2.0M160.50,441.4v2.0M241.50,589.0v-2.0M241.50,441.4v2.0M321.50,589.0v-2.0M321.50,441.4v2.0M160.65,589.50h2.0M321.4,589.50h-2.0M160.65,559.50h2.0M321.4,559.50h-2.0M160.65,529.50h2.0M321.4,529.50h-2.0M160.65,500.50h2.0M321.4,500.50h-2.0M160.65,470.50h2.0M321.4,470.50h-2.0M160.65,441.50h2.0M321.4,441.50h-2.0" stroke="#262626" stroke-width="1" fill="none"/>
<g clip-path="url(#cNetscience)">
<polyline points="168.69,483.91 176.72,457.93 184.76,453.21 192.80,450.85 200.84,450.26 208.88,449.67 216.91,449.08 224.95,448.78 232.99,448.48 241.02,448.19 249.06,447.89 257.10,447.60 265.14,447.30 273.17,447.13 281.21,446.95 289.25,446.77 297.29,446.65 305.32,446.54 313.36,446.48 321.40,446.42" fill="none" stroke="#FFA500" stroke-width="1.0" stroke-linejoin="round"/>
<circle cx="168.69" cy="483.91" r="2.2" fill="#FFA500"/>
<circle cx="176.72" cy="457.93" r="2.2" fill="#FFA500"/>
<circle cx="184.76" cy="453.21" r="2.2" fill="#FFA500"/>
<circle cx="192.80" cy="450.85" r="2.2" fill="#FFA500"/>
<circle cx="200.84" cy="450.26" r="2.2" fill="#FFA500"/>
<circle cx="208.88" cy="449.67" r="2.2" fill="#FFA500"/>
<circle cx="216.91" cy="449.08" r="2.2" fill="#FFA500"/>
<circle cx="224.95" cy="448.78" r="2.2" fill="#FFA500"/>
<circle cx="232.99" cy="448.48" r="2.2" fill="#FFA500"/>
<circle cx="241.02" cy="448.19" r="2.2" fill="#FFA500"/>
<circle cx="249.06" cy="447.89" r="2.2" fill="#FFA500"/>
<circle cx="257.10" cy="447.60" r="2.2" fill="#FFA500"/>
<circle cx="265.14" cy="447.30" r="2.2" fill="#FFA500"/>
<circle cx="273.17" cy="447.13" r="2.2" fill="#FFA500"/>
<circle cx="281.21" cy="446.95" r="2.2" fill="#FFA500"/>
<circle cx="289.25" cy="446.77" r="2.2" fill="#FFA500"/>
<circle cx="297.29" cy="446.65" r="2.2" fill="#FFA500"/>
<circle cx="305.32" cy="446.54" r="2.2" fill="#FFA500"/>
<circle cx="313.36" cy="446.48" r="2.2" fill="#FFA500"/>
<circle cx="321.40" cy="446.42" r="2.2" fill="#FFA500"/>
<polyline points="168.69,490.40 176.72,459.11 184.76,455.57 192.80,453.21 200.84,452.03 208.88,451.14 216.91,450.55 224.95,449.96 232.99,449.67 241.02,449.37 249.06,449.08 257.10,448.78 265.14,448.48 273.17,448.37 281.21,448.25 289.25,448.13 297.29,448.01 305.32,447.89 313.36,447.89 321.40,447.89" fill="none" stroke="#77AC30" stroke-width="1.0" stroke-linejoin="round"/>
<polygon points="168.69,487.80 167.94,489.10 166.44,489.10 167.19,490.40 166.44,491.70 167.94,491.70 168.69,493.00 169.44,491.70 170.94,491.70 170.19,490.40 170.94,489.10 169.44,489.10" fill="#77AC30"/>
<polygon points="176.72,456.51 175.97,457.81 174.47,457.81 175.22,459.11 174.47,460.41 175.97,460.41 176.72,461.71 177.47,460.41 178.98,460.41 178.22,459.11 178.98,457.81 177.47,457.81" fill="#77AC30"/>
<polygon points="184.76,452.97 184.01,454.27 182.51,454.27 183.26,455.57 182.51,456.87 184.01,456.87 184.76,458.17 185.51,456.87 187.01,456.87 186.26,455.57 187.01,454.27 185.51,454.27" fill="#77AC30"/>
<polygon points="192.80,450.61 192.05,451.91 190.55,451.91 191.30,453.21 190.55,454.51 192.05,454.51 192.80,455.81 193.55,454.51 195.05,454.51 194.30,453.21 195.05,451.91 193.55,451.91" fill="#77AC30"/>
<polygon points="200.84,449.43 200.09,450.73 198.59,450.73 199.34,452.03 198.59,453.33 200.09,453.33 200.84,454.63 201.59,453.33 203.09,453.33 202.34,452.03 203.09,450.73 201.59,450.73" fill="#77AC30"/>
<polygon points="208.88,448.54 208.12,449.84 206.62,449.84 207.38,451.14 206.62,452.44 208.12,452.44 208.88,453.74 209.62,452.44 211.13,452.44 210.38,451.14 211.13,449.84 209.62,449.84" fill="#77AC30"/>
<polygon points="216.91,447.95 216.16,449.25 214.66,449.25 215.41,450.55 214.66,451.85 216.16,451.85 216.91,453.15 217.66,451.85 219.16,451.85 218.41,450.55 219.16,449.25 217.66,449.25" fill="#77AC30"/>
<polygon points="224.95,447.36 224.20,448.66 222.70,448.66 223.45,449.96 222.70,451.26 224.20,451.26 224.95,452.56 225.70,451.26 227.20,451.26 226.45,449.96 227.20,448.66 225.70,448.66" fill="#77AC30"/>
<polygon points="232.99,447.07 232.24,448.37 230.74,448.37 231.49,449.67 230.74,450.97 232.24,450.96 232.99,452.27 233.74,450.96 235.24,450.97 234.49,449.67 235.24,448.37 233.74,448.37" fill="#77AC30"/>
<polygon points="241.02,446.77 240.27,448.07 238.77,448.07 239.52,449.37 238.77,450.67 240.27,450.67 241.02,451.97 241.77,450.67 243.28,450.67 242.52,449.37 243.28,448.07 241.77,448.07" fill="#77AC30"/>
<polygon points="249.06,446.48 248.31,447.78 246.81,447.78 247.56,449.08 246.81,450.38 248.31,450.37 249.06,451.68 249.81,450.37 251.31,450.38 250.56,449.08 251.31,447.78 249.81,447.78" fill="#77AC30"/>
<polygon points="257.10,446.18 256.35,447.48 254.85,447.48 255.60,448.78 254.85,450.08 256.35,450.08 257.10,451.38 257.85,450.08 259.35,450.08 258.60,448.78 259.35,447.48 257.85,447.48" fill="#77AC30"/>
<polygon points="265.14,445.88 264.39,447.19 262.89,447.18 263.64,448.48 262.89,449.78 264.39,449.78 265.14,451.08 265.89,449.78 267.39,449.78 266.64,448.48 267.39,447.18 265.89,447.19" fill="#77AC30"/>
<polygon points="273.17,445.77 272.42,447.07 270.92,447.07 271.67,448.37 270.92,449.67 272.42,449.67 273.17,450.97 273.92,449.67 275.43,449.67 274.67,448.37 275.43,447.07 273.92,447.07" fill="#77AC30"/>
<polygon points="281.21,445.65 280.46,446.95 278.96,446.95 279.71,448.25 278.96,449.55 280.46,449.55 281.21,450.85 281.96,449.55 283.46,449.55 282.71,448.25 283.46,446.95 281.96,446.95" fill="#77AC30"/>
<polygon points="289.25,445.53 288.50,446.83 287.00,446.83 287.75,448.13 287.00,449.43 288.50,449.43 289.25,450.73 290.00,449.43 291.50,449.43 290.75,448.13 291.50,446.83 290.00,446.83" fill="#77AC30"/>
<polygon points="297.29,445.41 296.54,446.71 295.04,446.71 295.79,448.01 295.04,449.31 296.54,449.31 297.29,450.61 298.04,449.31 299.54,449.31 298.79,448.01 299.54,446.71 298.04,446.71" fill="#77AC30"/>
<polygon points="305.32,445.29 304.57,446.60 303.07,446.59 303.82,447.89 303.07,449.19 304.57,449.19 305.32,450.49 306.07,449.19 307.58,449.19 306.82,447.89 307.58,446.59 306.07,446.60" fill="#77AC30"/>
<polygon points="313.36,445.29 312.61,446.60 311.11,446.59 311.86,447.89 311.11,449.19 312.61,449.19 313.36,450.49 314.11,449.19 315.61,449.19 314.86,447.89 315.61,446.59 314.11,446.60" fill="#77AC30"/>
<polygon points="321.40,445.29 320.65,446.60 319.15,446.59 319.90,447.89 319.15,449.19 320.65,449.19 321.40,450.49 322.15,449.19 323.65,449.19 322.90,447.89 323.65,446.59 322.15,446.60" fill="#77AC30"/>
<polyline points="168.69,581.50 176.72,555.70 184.76,537.04 192.80,511.30 200.84,494.83 208.88,479.01 216.91,470.92 224.95,464.43 232.99,462.06 241.02,457.93 249.06,457.93 257.10,454.98 265.14,453.21 273.17,451.44 281.21,451.44 289.25,450.85 297.29,450.26 305.32,450.55 313.36,450.55 321.40,450.55" fill="none" stroke="#7E2F8E" stroke-width="1.0" stroke-linejoin="round"/>
<rect x="166.79" y="579.60" width="3.8" height="3.8" fill="#7E2F8E"/>
<rect x="174.82" y="553.80" width="3.8" height="3.8" fill="#7E2F8E"/>
<rect x="182.86" y="535.14" width="3.8" height="3.8" fill="#7E2F8E"/>
<rect x="190.90" y="509.40" width="3.8" height="3.8" fill="#7E2F8E"/>
<rect x="198.94" y="492.93" width="3.8" height="3.8" fill="#7E2F8E"/>
<rect x="206.97" y="477.11" width="3.8" height="3.8" fill="#7E2F8E"/>
<rect x="215.01" y="469.02" width="3.8" height="3.8" fill="#7E2F8E"/>
<rect x="223.05" y="462.53" width="3.8" height="3.8" fill="#7E2F8E"/>
<rect x="231.09" y="460.16" width="3.8" height="3.8" fill="#7E2F8E"/>
<rect x="239.12" y="456.03" width="3.8" height="3.8" fill="#7E2F8E"/>
<rect x="247.16" y="456.03" width="3.8" height="3.8" fill="#7E2F8E"/>
<rect x="255.20" y="453.08" width="3.8" height="3.8" fill="#7E2F8E"/>
<rect x="263.24" y="451.31" width="3.8" height="3.8" fill="#7E2F8E"/>
<rect x="271.27" y="449.54" width="3.8" height="3.8" fill="#7E2F8E"/>
<rect x="279.31" y="449.54" width="3.8" height="3.8" fill="#7E2F8E"/>
<rect x="287.35" y="448.95" width="3.8" height="3.8" fill="#7E2F8E"/>
<rect x="295.39" y="448.36" width="3.8" height="3.8" fill="#7E2F8E"/>
<rect x="303.43" y="448.65" width="3.8" height="3.8" fill="#7E2F8E"/>
<rect x="311.46" y="448.65" width="3.8" height="3.8" fill="#7E2F8E"/>
<rect x="319.50" y="448.65" width="3.8" height="3.8" fill="#7E2F8E"/>
<polyline points="168.69,488.63 176.72,459.70 184.76,455.57 192.80,453.80 200.84,452.62 208.88,452.03 216.91,451.44 224.95,451.14 232.99,450.85 241.02,450.55 249.06,450.26 257.10,449.96 265.14,449.67 273.17,449.55 281.21,449.43 289.25,449.31 297.29,449.19 305.32,449.08 313.36,449.08 321.40,449.08" fill="none" stroke="#FF0000" stroke-width="1.0" stroke-linejoin="round"/>
<path d="M168.69,485.83L171.39,490.23L165.99,490.23Z" fill="#FF0000"/>
<path d="M176.72,456.90L179.42,461.30L174.03,461.30Z" fill="#FF0000"/>
<path d="M184.76,452.77L187.46,457.17L182.06,457.17Z" fill="#FF0000"/>
<path d="M192.80,451.00L195.50,455.40L190.10,455.40Z" fill="#FF0000"/>
<path d="M200.84,449.82L203.54,454.22L198.14,454.22Z" fill="#FF0000"/>
<path d="M208.88,449.23L211.57,453.63L206.18,453.63Z" fill="#FF0000"/>
<path d="M216.91,448.64L219.61,453.04L214.21,453.04Z" fill="#FF0000"/>
<path d="M224.95,448.34L227.65,452.74L222.25,452.74Z" fill="#FF0000"/>
<path d="M232.99,448.05L235.69,452.45L230.29,452.45Z" fill="#FF0000"/>
<path d="M241.02,447.75L243.72,452.15L238.32,452.15Z" fill="#FF0000"/>
<path d="M249.06,447.46L251.76,451.86L246.36,451.86Z" fill="#FF0000"/>
<path d="M257.10,447.16L259.80,451.56L254.40,451.56Z" fill="#FF0000"/>
<path d="M265.14,446.87L267.84,451.27L262.44,451.27Z" fill="#FF0000"/>
<path d="M273.17,446.75L275.87,451.15L270.47,451.15Z" fill="#FF0000"/>
<path d="M281.21,446.63L283.91,451.03L278.51,451.03Z" fill="#FF0000"/>
<path d="M289.25,446.51L291.95,450.91L286.55,450.91Z" fill="#FF0000"/>
<path d="M297.29,446.39L299.99,450.79L294.59,450.79Z" fill="#FF0000"/>
<path d="M305.32,446.28L308.02,450.68L302.62,450.68Z" fill="#FF0000"/>
<path d="M313.36,446.28L316.06,450.68L310.66,450.68Z" fill="#FF0000"/>
<path d="M321.40,446.28L324.10,450.68L318.70,450.68Z" fill="#FF0000"/>
<polyline points="168.69,490.58 176.72,473.28 184.76,466.96 192.80,462.65 200.84,459.41 208.88,457.34 216.91,455.86 224.95,454.68 232.99,453.80 241.02,453.21 249.06,452.62 257.10,452.03 265.14,451.73 273.17,451.44 281.21,451.14 289.25,450.85 297.29,450.67 305.32,450.49 313.36,450.37 321.40,450.26" fill="none" stroke="#006E00" stroke-width="1.0" stroke-linejoin="round"/>
<path d="M165.89,490.58L170.29,487.88L170.29,493.28Z" fill="#006E00"/>
<path d="M173.92,473.28L178.32,470.58L178.32,475.98Z" fill="#006E00"/>
<path d="M181.96,466.96L186.36,464.26L186.36,469.66Z" fill="#006E00"/>
<path d="M190.00,462.65L194.40,459.95L194.40,465.35Z" fill="#006E00"/>
<path d="M198.04,459.41L202.44,456.71L202.44,462.11Z" fill="#006E00"/>
<path d="M206.07,457.34L210.47,454.64L210.47,460.04Z" fill="#006E00"/>
<path d="M214.11,455.86L218.51,453.16L218.51,458.56Z" fill="#006E00"/>
<path d="M222.15,454.68L226.55,451.98L226.55,457.38Z" fill="#006E00"/>
<path d="M230.19,453.80L234.59,451.10L234.59,456.50Z" fill="#006E00"/>
<path d="M238.22,453.21L242.62,450.51L242.62,455.91Z" fill="#006E00"/>
<path d="M246.26,452.62L250.66,449.92L250.66,455.32Z" fill="#006E00"/>
<path d="M254.30,452.03L258.70,449.33L258.70,454.73Z" fill="#006E00"/>
<path d="M262.34,451.73L266.74,449.03L266.74,454.43Z" fill="#006E00"/>
<path d="M270.37,451.44L274.77,448.74L274.77,454.14Z" fill="#006E00"/>
<path d="M278.41,451.14L282.81,448.44L282.81,453.84Z" fill="#006E00"/>
<path d="M286.45,450.85L290.85,448.15L290.85,453.55Z" fill="#006E00"/>
<path d="M294.49,450.67L298.89,447.97L298.89,453.37Z" fill="#006E00"/>
<path d="M302.52,450.49L306.93,447.79L306.93,453.19Z" fill="#006E00"/>
<path d="M310.56,450.37L314.96,447.67L314.96,453.07Z" fill="#006E00"/>
<path d="M318.60,450.26L323.00,447.56L323.00,452.96Z" fill="#006E00"/>
<polyline points="168.69,495.13 176.72,466.20 184.76,460.29 192.80,456.75 200.84,454.98 208.88,453.80 216.91,453.21 224.95,452.62 232.99,452.03 241.02,451.73 249.06,451.44 257.10,451.14 265.14,450.85 273.17,450.55 281.21,450.26 289.25,450.14 297.29,449.96 305.32,449.84 313.36,449.72 321.40,449.67" fill="none" stroke="#D95319" stroke-width="1.0" stroke-linejoin="round"/>
<circle cx="168.69" cy="495.13" r="1.8" fill="#D95319"/>
<circle cx="176.72" cy="466.20" r="1.8" fill="#D95319"/>
<circle cx="184.76" cy="460.29" r="1.8" fill="#D95319"/>
<circle cx="192.80" cy="456.75" r="1.8" fill="#D95319"/>
<circle cx="200.84" cy="454.98" r="1.8" fill="#D95319"/>
<circle cx="208.88" cy="453.80" r="1.8" fill="#D95319"/>
<circle cx="216.91" cy="453.21" r="1.8" fill="#D95319"/>
<circle cx="224.95" cy="452.62" r="1.8" fill="#D95319"/>
<circle cx="232.99" cy="452.03" r="1.8" fill="#D95319"/>
<circle cx="241.02" cy="451.73" r="1.8" fill="#D95319"/>
<circle cx="249.06" cy="451.44" r="1.8" fill="#D95319"/>
<circle cx="257.10" cy="451.14" r="1.8" fill="#D95319"/>
<circle cx="265.14" cy="450.85" r="1.8" fill="#D95319"/>
<circle cx="273.17" cy="450.55" r="1.8" fill="#D95319"/>
<circle cx="281.21" cy="450.26" r="1.8" fill="#D95319"/>
<circle cx="289.25" cy="450.14" r="1.8" fill="#D95319"/>
<circle cx="297.29" cy="449.96" r="1.8" fill="#D95319"/>
<circle cx="305.32" cy="449.84" r="1.8" fill="#D95319"/>
<circle cx="313.36" cy="449.72" r="1.8" fill="#D95319"/>
<circle cx="321.40" cy="449.67" r="1.8" fill="#D95319"/>
<polyline points="168.69,486.27 176.72,459.11 184.76,454.98 192.80,453.21 200.84,451.44 208.88,450.85 216.91,450.26 224.95,449.67 232.99,449.37 241.02,449.08 249.06,448.78 257.10,448.48 265.14,448.19 273.17,448.01 281.21,447.89 289.25,447.78 297.29,447.72 305.32,447.66 313.36,447.60 321.40,447.60" fill="none" stroke="#B4C8E6" stroke-width="1.0" stroke-linejoin="round"/>
<path d="M167.19,484.77L170.19,487.77M167.19,487.77L170.19,484.77" stroke="#A6BFE0" stroke-width="1.1" fill="none"/>
<path d="M175.22,457.61L178.22,460.61M175.22,460.61L178.22,457.61" stroke="#A6BFE0" stroke-width="1.1" fill="none"/>
<path d="M183.26,453.48L186.26,456.48M183.26,456.48L186.26,453.48" stroke="#A6BFE0" stroke-width="1.1" fill="none"/>
<path d="M191.30,451.71L194.30,454.71M191.30,454.71L194.30,451.71" stroke="#A6BFE0" stroke-width="1.1" fill="none"/>
<path d="M199.34,449.94L202.34,452.94M199.34,452.94L202.34,449.94" stroke="#A6BFE0" stroke-width="1.1" fill="none"/>
<path d="M207.38,449.35L210.38,452.35M207.38,452.35L210.38,449.35" stroke="#A6BFE0" stroke-width="1.1" fill="none"/>
<path d="M215.41,448.76L218.41,451.76M215.41,451.76L218.41,448.76" stroke="#A6BFE0" stroke-width="1.1" fill="none"/>
<path d="M223.45,448.17L226.45,451.17M223.45,451.17L226.45,448.17" stroke="#A6BFE0" stroke-width="1.1" fill="none"/>
<path d="M231.49,447.87L234.49,450.87M231.49,450.87L234.49,447.87" stroke="#A6BFE0" stroke-width="1.1" fill="none"/>
<path d="M239.52,447.58L242.52,450.58M239.52,450.58L242.52,447.58" stroke="#A6BFE0" stroke-width="1.1" fill="none"/>
<path d="M247.56,447.28L250.56,450.28M247.56,450.28L250.56,447.28" stroke="#A6BFE0" stroke-width="1.1" fill="none"/>
<path d="M255.60,446.98L258.60,449.98M255.60,449.98L258.60,446.98" stroke="#A6BFE0" stroke-width="1.1" fill="none"/>
<path d="M263.64,446.69L266.64,449.69M263.64,449.69L266.64,446.69" stroke="#A6BFE0" stroke-width="1.1" fill="none"/>
<path d="M271.67,446.51L274.67,449.51M271.67,449.51L274.67,446.51" stroke="#A6BFE0" stroke-width="1.1" fill="none"/>
<path d="M279.71,446.39L282.71,449.39M279.71,449.39L282.71,446.39" stroke="#A6BFE0" stroke-width="1.1" fill="none"/>
<path d="M287.75,446.28L290.75,449.28M287.75,449.28L290.75,446.28" stroke="#A6BFE0" stroke-width="1.1" fill="none"/>
<path d="M295.79,446.22L298.79,449.22M295.79,449.22L298.79,446.22" stroke="#A6BFE0" stroke-width="1.1" fill="none"/>
<path d="M303.82,446.16L306.82,449.16M303.82,449.16L306.82,446.16" stroke="#A6BFE0" stroke-width="1.1" fill="none"/>
<path d="M311.86,446.10L314.86,449.10M311.86,449.10L314.86,446.10" stroke="#A6BFE0" stroke-width="1.1" fill="none"/>
<path d="M319.90,446.10L322.90,449.10M319.90,449.10L322.90,446.10" stroke="#A6BFE0" stroke-width="1.1" fill="none"/>
<polyline points="168.69,477.12 176.72,456.75 184.76,451.08 192.80,448.31 200.84,446.30 208.88,445.41 216.91,444.94 224.95,444.17 232.99,443.76 241.02,443.47 249.06,443.17 257.10,443.05 265.14,442.88 273.17,442.76 281.21,442.64 289.25,442.52 297.29,442.40 305.32,442.34 313.36,442.29 321.40,442.23" fill="none" stroke="#0072BD" stroke-width="1.2" stroke-linejoin="round"/>
<path d="M168.69,474.02L171.14,477.12L168.69,480.22L166.24,477.12Z" fill="#0072BD"/>
<path d="M176.72,453.65L179.17,456.75L176.72,459.85L174.28,456.75Z" fill="#0072BD"/>
<path d="M184.76,447.98L187.21,451.08L184.76,454.18L182.31,451.08Z" fill="#0072BD"/>
<path d="M192.80,445.21L195.25,448.31L192.80,451.41L190.35,448.31Z" fill="#0072BD"/>
<path d="M200.84,443.20L203.29,446.30L200.84,449.40L198.39,446.30Z" fill="#0072BD"/>
<path d="M208.88,442.31L211.32,445.41L208.88,448.51L206.43,445.41Z" fill="#0072BD"/>
<path d="M216.91,441.84L219.36,444.94L216.91,448.04L214.46,444.94Z" fill="#0072BD"/>
<path d="M224.95,441.07L227.40,444.17L224.95,447.27L222.50,444.17Z" fill="#0072BD"/>
<path d="M232.99,440.66L235.44,443.76L232.99,446.86L230.54,443.76Z" fill="#0072BD"/>
<path d="M241.02,440.37L243.47,443.47L241.02,446.57L238.57,443.47Z" fill="#0072BD"/>
<path d="M249.06,440.07L251.51,443.17L249.06,446.27L246.61,443.17Z" fill="#0072BD"/>
<path d="M257.10,439.95L259.55,443.05L257.10,446.15L254.65,443.05Z" fill="#0072BD"/>
<path d="M265.14,439.78L267.59,442.88L265.14,445.98L262.69,442.88Z" fill="#0072BD"/>
<path d="M273.17,439.66L275.62,442.76L273.17,445.86L270.72,442.76Z" fill="#0072BD"/>
<path d="M281.21,439.54L283.66,442.64L281.21,445.74L278.76,442.64Z" fill="#0072BD"/>
<path d="M289.25,439.42L291.70,442.52L289.25,445.62L286.80,442.52Z" fill="#0072BD"/>
<path d="M297.29,439.30L299.74,442.40L297.29,445.50L294.84,442.40Z" fill="#0072BD"/>
<path d="M305.32,439.24L307.77,442.34L305.32,445.44L302.88,442.34Z" fill="#0072BD"/>
<path d="M313.36,439.19L315.81,442.29L313.36,445.39L310.91,442.29Z" fill="#0072BD"/>
<path d="M321.40,439.13L323.85,442.23L321.40,445.33L318.95,442.23Z" fill="#0072BD"/>
</g>
<text x="160.65" y="607.60" text-anchor="middle" style="font-size:14.7px" class="t">0</text>
<text x="241.02" y="607.60" text-anchor="middle" style="font-size:14.7px" class="t" clip-path="url(#k21)">10</text>
<text x="321.40" y="607.60" text-anchor="middle" style="font-size:14.7px" class="t">20</text>
<text x="156.25" y="594.90" text-anchor="end" style="font-size:14.7px" class="t">0.5</text>
<text x="156.25" y="565.38" text-anchor="end" style="font-size:14.7px" class="t" clip-path="url(#k22)">1</text>
<text x="156.25" y="535.86" text-anchor="end" style="font-size:14.7px" class="t" clip-path="url(#k23)">1.5</text>
<text x="156.25" y="506.34" text-anchor="end" style="font-size:14.7px" class="t">2</text>
<text x="156.25" y="476.82" text-anchor="end" style="font-size:14.7px" class="t">2.5</text>
<text x="156.25" y="447.30" text-anchor="end" style="font-size:14.7px" class="t">3</text>
<text x="241.02" y="434.80" text-anchor="middle" style="font-size:16.3px" class="t">Netscience</text>
<text x="241.02" y="627.80" text-anchor="middle" style="font-size:16.3px" class="t">Propagation Time</text>
<g transform="translate(123.00,515.20) rotate(-90)"><text x="-7.91" y="0.00" text-anchor="start" style="font-size:16.3px" class="t">L</text><text x="1.16" y="9.10" text-anchor="start" style="font-size:13.5px" class="t">s</text></g>
<defs><clipPath id="cUsair"><rect x="400.95" y="438.25" width="168.70999999999998" height="154.64999999999998"/></clipPath></defs>
<rect x="404.95" y="442.25" width="160.70999999999998" height="146.64999999999998" fill="none" stroke="#262626" stroke-width="1"/>
<path d="M404.50,588.9v-2.0M404.50,442.25v2.0M485.50,588.9v-2.0M485.50,442.25v2.0M565.50,588.9v-2.0M565.50,442.25v2.0M404.95,588.50h2.0M565.66,588.50h-2.0M404.95,559.50h2.0M565.66,559.50h-2.0M404.95,530.50h2.0M565.66,530.50h-2.0M404.95,500.50h2.0M565.66,500.50h-2.0M404.95,471.50h2.0M565.66,471.50h-2.0" stroke="#262626" stroke-width="1" fill="none"/>
<g clip-path="url(#cUsair)">
<polyline points="412.99,557.22 421.02,535.23 429.06,520.56 437.09,510.00 445.13,501.50 453.16,494.75 461.20,489.76 469.23,485.07 477.27,482.14 485.30,478.91 493.34,475.51 501.38,472.46 509.41,470.25 517.45,468.35 525.48,466.52 533.52,464.83 541.55,463.29 549.59,461.90 557.62,460.66 565.66,459.55" fill="none" stroke="#FFA500" stroke-width="1.0" stroke-linejoin="round"/>
<circle cx="412.99" cy="557.22" r="2.2" fill="#FFA500"/>
<circle cx="421.02" cy="535.23" r="2.2" fill="#FFA500"/>
<circle cx="429.06" cy="520.56" r="2.2" fill="#FFA500"/>
<circle cx="437.09" cy="510.00" r="2.2" fill="#FFA500"/>
<circle cx="445.13" cy="501.50" r="2.2" fill="#FFA500"/>
<circle cx="453.16" cy="494.75" r="2.2" fill="#FFA500"/>
<circle cx="461.20" cy="489.76" r="2.2" fill="#FFA500"/>
<circle cx="469.23" cy="485.07" r="2.2" fill="#FFA500"/>
<circle cx="477.27" cy="482.14" r="2.2" fill="#FFA500"/>
<circle cx="485.30" cy="478.91" r="2.2" fill="#FFA500"/>
<circle cx="493.34" cy="475.51" r="2.2" fill="#FFA500"/>
<circle cx="501.38" cy="472.46" r="2.2" fill="#FFA500"/>
<circle cx="509.41" cy="470.25" r="2.2" fill="#FFA500"/>
<circle cx="517.45" cy="468.35" r="2.2" fill="#FFA500"/>
<circle cx="525.48" cy="466.52" r="2.2" fill="#FFA500"/>
<circle cx="533.52" cy="464.83" r="2.2" fill="#FFA500"/>
<circle cx="541.55" cy="463.29" r="2.2" fill="#FFA500"/>
<circle cx="549.59" cy="461.90" r="2.2" fill="#FFA500"/>
<circle cx="557.62" cy="460.66" r="2.2" fill="#FFA500"/>
<circle cx="565.66" cy="459.55" r="2.2" fill="#FFA500"/>
<polyline points="412.99,556.93 421.02,534.93 429.06,520.27 437.09,509.71 445.13,501.20 453.16,494.46 461.20,489.47 469.23,484.78 477.27,481.85 485.30,478.62 493.34,475.21 501.38,472.17 509.41,469.96 517.45,468.06 525.48,466.23 533.52,464.54 541.55,463.00 549.59,461.61 557.62,460.37 565.66,459.26" fill="none" stroke="#77AC30" stroke-width="1.0" stroke-linejoin="round"/>
<polygon points="412.99,554.33 412.24,555.63 410.73,555.63 411.49,556.93 410.73,558.23 412.24,558.23 412.99,559.53 413.74,558.23 415.24,558.23 414.49,556.93 415.24,555.63 413.74,555.63" fill="#77AC30"/>
<polygon points="421.02,532.33 420.27,533.63 418.77,533.63 419.52,534.93 418.77,536.23 420.27,536.23 421.02,537.53 421.77,536.23 423.27,536.23 422.52,534.93 423.27,533.63 421.77,533.63" fill="#77AC30"/>
<polygon points="429.06,517.67 428.31,518.97 426.80,518.97 427.56,520.27 426.80,521.57 428.31,521.57 429.06,522.87 429.81,521.57 431.31,521.57 430.56,520.27 431.31,518.97 429.81,518.97" fill="#77AC30"/>
<polygon points="437.09,507.11 436.34,508.41 434.84,508.41 435.59,509.71 434.84,511.01 436.34,511.01 437.09,512.31 437.84,511.01 439.34,511.01 438.59,509.71 439.34,508.41 437.84,508.41" fill="#77AC30"/>
<polygon points="445.13,498.60 444.38,499.90 442.88,499.90 443.63,501.20 442.88,502.50 444.38,502.50 445.13,503.80 445.88,502.50 447.38,502.50 446.63,501.20 447.38,499.90 445.88,499.90" fill="#77AC30"/>
<polygon points="453.16,491.86 452.41,493.16 450.91,493.16 451.66,494.46 450.91,495.76 452.41,495.76 453.16,497.06 453.91,495.76 455.41,495.76 454.66,494.46 455.41,493.16 453.91,493.16" fill="#77AC30"/>
<polygon points="461.20,486.87 460.45,488.17 458.95,488.17 459.70,489.47 458.95,490.77 460.45,490.77 461.20,492.07 461.95,490.77 463.45,490.77 462.70,489.47 463.45,488.17 461.95,488.17" fill="#77AC30"/>
<polygon points="469.23,482.18 468.48,483.48 466.98,483.48 467.73,484.78 466.98,486.08 468.48,486.08 469.23,487.38 469.98,486.08 471.49,486.08 470.73,484.78 471.49,483.48 469.98,483.48" fill="#77AC30"/>
<polygon points="477.27,479.25 476.52,480.55 475.02,480.55 475.77,481.85 475.02,483.15 476.52,483.14 477.27,484.45 478.02,483.14 479.52,483.15 478.77,481.85 479.52,480.55 478.02,480.55" fill="#77AC30"/>
<polygon points="485.30,476.02 484.55,477.32 483.05,477.32 483.80,478.62 483.05,479.92 484.55,479.92 485.30,481.22 486.05,479.92 487.56,479.92 486.80,478.62 487.56,477.32 486.05,477.32" fill="#77AC30"/>
<polygon points="493.34,472.61 492.59,473.91 491.09,473.91 491.84,475.21 491.09,476.51 492.59,476.51 493.34,477.81 494.09,476.51 495.59,476.51 494.84,475.21 495.59,473.91 494.09,473.91" fill="#77AC30"/>
<polygon points="501.38,469.57 500.63,470.87 499.12,470.87 499.88,472.17 499.12,473.47 500.63,473.47 501.38,474.77 502.13,473.47 503.63,473.47 502.88,472.17 503.63,470.87 502.13,470.87" fill="#77AC30"/>
<polygon points="509.41,467.36 508.66,468.66 507.16,468.66 507.91,469.96 507.16,471.26 508.66,471.26 509.41,472.56 510.16,471.26 511.66,471.26 510.91,469.96 511.66,468.66 510.16,468.66" fill="#77AC30"/>
<polygon points="517.45,465.46 516.70,466.76 515.20,466.76 515.95,468.06 515.20,469.36 516.70,469.36 517.45,470.66 518.20,469.36 519.70,469.36 518.95,468.06 519.70,466.76 518.20,466.76" fill="#77AC30"/>
<polygon points="525.48,463.63 524.73,464.93 523.23,464.93 523.98,466.23 523.23,467.53 524.73,467.53 525.48,468.83 526.23,467.53 527.73,467.53 526.98,466.23 527.73,464.93 526.23,464.93" fill="#77AC30"/>
<polygon points="533.52,461.94 532.77,463.24 531.27,463.24 532.02,464.54 531.27,465.84 532.77,465.84 533.52,467.14 534.27,465.84 535.77,465.84 535.02,464.54 535.77,463.24 534.27,463.24" fill="#77AC30"/>
<polygon points="541.55,460.40 540.80,461.70 539.30,461.70 540.05,463.00 539.30,464.30 540.80,464.30 541.55,465.60 542.30,464.30 543.81,464.30 543.05,463.00 543.81,461.70 542.30,461.70" fill="#77AC30"/>
<polygon points="549.59,459.01 548.84,460.31 547.34,460.31 548.09,461.61 547.34,462.91 548.84,462.91 549.59,464.21 550.34,462.91 551.84,462.91 551.09,461.61 551.84,460.31 550.34,460.31" fill="#77AC30"/>
<polygon points="557.62,457.77 556.87,459.07 555.37,459.07 556.12,460.37 555.37,461.67 556.87,461.66 557.62,462.97 558.37,461.66 559.88,461.67 559.12,460.37 559.88,459.07 558.37,459.07" fill="#77AC30"/>
<polygon points="565.66,456.66 564.91,457.96 563.41,457.96 564.16,459.26 563.41,460.56 564.91,460.56 565.66,461.86 566.41,460.56 567.91,460.56 567.16,459.26 567.91,457.96 566.41,457.96" fill="#77AC30"/>
<polyline points="412.99,560.16 421.02,539.04 429.06,525.25 437.09,514.70 445.13,506.48 453.16,499.74 461.20,494.16 469.23,489.76 477.27,485.95 485.30,482.43 493.34,479.19 501.38,476.27 509.41,473.76 517.45,471.58 525.48,469.72 533.52,468.06 541.55,466.52 549.59,465.13 557.62,463.88 565.66,462.78" fill="none" stroke="#7E2F8E" stroke-width="1.0" stroke-linejoin="round"/>
<rect x="411.09" y="558.26" width="3.8" height="3.8" fill="#7E2F8E"/>
<rect x="419.12" y="537.14" width="3.8" height="3.8" fill="#7E2F8E"/>
<rect x="427.16" y="523.35" width="3.8" height="3.8" fill="#7E2F8E"/>
<rect x="435.19" y="512.80" width="3.8" height="3.8" fill="#7E2F8E"/>
<rect x="443.23" y="504.58" width="3.8" height="3.8" fill="#7E2F8E"/>
<rect x="451.26" y="497.84" width="3.8" height="3.8" fill="#7E2F8E"/>
<rect x="459.30" y="492.26" width="3.8" height="3.8" fill="#7E2F8E"/>
<rect x="467.33" y="487.86" width="3.8" height="3.8" fill="#7E2F8E"/>
<rect x="475.37" y="484.05" width="3.8" height="3.8" fill="#7E2F8E"/>
<rect x="483.40" y="480.53" width="3.8" height="3.8" fill="#7E2F8E"/>
<rect x="491.44" y="477.29" width="3.8" height="3.8" fill="#7E2F8E"/>
<rect x="499.48" y="474.37" width="3.8" height="3.8" fill="#7E2F8E"/>
<rect x="507.51" y="471.86" width="3.8" height="3.8" fill="#7E2F8E"/>
<rect x="515.55" y="469.68" width="3.8" height="3.8" fill="#7E2F8E"/>
<rect x="523.58" y="467.82" width="3.8" height="3.8" fill="#7E2F8E"/>
<rect x="531.62" y="466.16" width="3.8" height="3.8" fill="#7E2F8E"/>
<rect x="539.65" y="464.62" width="3.8" height="3.8" fill="#7E2F8E"/>
<rect x="547.69" y="463.23" width="3.8" height="3.8" fill="#7E2F8E"/>
<rect x="555.72" y="461.98" width="3.8" height="3.8" fill="#7E2F8E"/>
<rect x="563.76" y="460.88" width="3.8" height="3.8" fill="#7E2F8E"/>
<polyline points="412.99,556.20 421.02,534.20 429.06,519.53 437.09,508.98 445.13,500.47 453.16,493.72 461.20,488.74 469.23,484.05 477.27,481.11 485.30,477.89 493.34,474.48 501.38,471.43 509.41,469.23 517.45,467.33 525.48,465.49 533.52,463.81 541.55,462.27 549.59,460.87 557.62,459.63 565.66,458.53" fill="none" stroke="#FF0000" stroke-width="1.0" stroke-linejoin="round"/>
<path d="M412.99,553.40L415.69,557.80L410.29,557.80Z" fill="#FF0000"/>
<path d="M421.02,531.40L423.72,535.80L418.32,535.80Z" fill="#FF0000"/>
<path d="M429.06,516.73L431.76,521.13L426.36,521.13Z" fill="#FF0000"/>
<path d="M437.09,506.18L439.79,510.58L434.39,510.58Z" fill="#FF0000"/>
<path d="M445.13,497.67L447.83,502.07L442.43,502.07Z" fill="#FF0000"/>
<path d="M453.16,490.92L455.86,495.32L450.46,495.32Z" fill="#FF0000"/>
<path d="M461.20,485.94L463.90,490.34L458.50,490.34Z" fill="#FF0000"/>
<path d="M469.23,481.25L471.93,485.65L466.53,485.65Z" fill="#FF0000"/>
<path d="M477.27,478.31L479.97,482.71L474.57,482.71Z" fill="#FF0000"/>
<path d="M485.30,475.09L488.00,479.49L482.60,479.49Z" fill="#FF0000"/>
<path d="M493.34,471.68L496.04,476.08L490.64,476.08Z" fill="#FF0000"/>
<path d="M501.38,468.63L504.08,473.03L498.68,473.03Z" fill="#FF0000"/>
<path d="M509.41,466.43L512.11,470.83L506.71,470.83Z" fill="#FF0000"/>
<path d="M517.45,464.53L520.15,468.93L514.75,468.93Z" fill="#FF0000"/>
<path d="M525.48,462.69L528.18,467.09L522.78,467.09Z" fill="#FF0000"/>
<path d="M533.52,461.01L536.22,465.41L530.82,465.41Z" fill="#FF0000"/>
<path d="M541.55,459.47L544.25,463.87L538.85,463.87Z" fill="#FF0000"/>
<path d="M549.59,458.07L552.29,462.47L546.89,462.47Z" fill="#FF0000"/>
<path d="M557.62,456.83L560.32,461.23L554.92,461.23Z" fill="#FF0000"/>
<path d="M565.66,455.73L568.36,460.13L562.96,460.13Z" fill="#FF0000"/>
<polyline points="412.99,556.64 421.02,534.64 429.06,519.97 437.09,509.42 445.13,500.91 453.16,494.16 461.20,489.18 469.23,484.49 477.27,481.55 485.30,478.33 493.34,474.92 501.38,471.87 509.41,469.67 517.45,467.77 525.48,465.93 533.52,464.25 541.55,462.71 549.59,461.31 557.62,460.07 565.66,458.97" fill="none" stroke="#006E00" stroke-width="1.0" stroke-linejoin="round"/>
<path d="M410.19,556.64L414.59,553.94L414.59,559.34Z" fill="#006E00"/>
<path d="M418.22,534.64L422.62,531.94L422.62,537.34Z" fill="#006E00"/>
<path d="M426.26,519.97L430.66,517.27L430.66,522.67Z" fill="#006E00"/>
<path d="M434.29,509.42L438.69,506.72L438.69,512.12Z" fill="#006E00"/>
<path d="M442.33,500.91L446.73,498.21L446.73,503.61Z" fill="#006E00"/>
<path d="M450.36,494.16L454.76,491.46L454.76,496.86Z" fill="#006E00"/>
<path d="M458.40,489.18L462.80,486.48L462.80,491.88Z" fill="#006E00"/>
<path d="M466.43,484.49L470.83,481.79L470.83,487.19Z" fill="#006E00"/>
<path d="M474.47,481.55L478.87,478.85L478.87,484.25Z" fill="#006E00"/>
<path d="M482.50,478.33L486.90,475.63L486.90,481.03Z" fill="#006E00"/>
<path d="M490.54,474.92L494.94,472.22L494.94,477.62Z" fill="#006E00"/>
<path d="M498.58,471.87L502.98,469.17L502.98,474.57Z" fill="#006E00"/>
<path d="M506.61,469.67L511.01,466.97L511.01,472.37Z" fill="#006E00"/>
<path d="M514.65,467.77L519.05,465.07L519.05,470.47Z" fill="#006E00"/>
<path d="M522.68,465.93L527.08,463.23L527.08,468.63Z" fill="#006E00"/>
<path d="M530.72,464.25L535.12,461.55L535.12,466.95Z" fill="#006E00"/>
<path d="M538.75,462.71L543.15,460.01L543.15,465.41Z" fill="#006E00"/>
<path d="M546.79,461.31L551.19,458.61L551.19,464.01Z" fill="#006E00"/>
<path d="M554.82,460.07L559.22,457.37L559.22,462.77Z" fill="#006E00"/>
<path d="M562.86,458.97L567.26,456.27L567.26,461.67Z" fill="#006E00"/>
<polyline points="412.99,561.62 421.02,540.51 429.06,526.72 437.09,516.16 445.13,507.95 453.16,501.20 461.20,495.63 469.23,491.23 477.27,487.42 485.30,483.90 493.34,480.66 501.38,477.74 509.41,475.23 517.45,473.05 525.48,471.18 533.52,469.53 541.55,467.99 549.59,466.59 557.62,465.35 565.66,464.25" fill="none" stroke="#D95319" stroke-width="1.0" stroke-linejoin="round"/>
<circle cx="412.99" cy="561.62" r="1.8" fill="#D95319"/>
<circle cx="421.02" cy="540.51" r="1.8" fill="#D95319"/>
<circle cx="429.06" cy="526.72" r="1.8" fill="#D95319"/>
<circle cx="437.09" cy="516.16" r="1.8" fill="#D95319"/>
<circle cx="445.13" cy="507.95" r="1.8" fill="#D95319"/>
<circle cx="453.16" cy="501.20" r="1.8" fill="#D95319"/>
<circle cx="461.20" cy="495.63" r="1.8" fill="#D95319"/>
<circle cx="469.23" cy="491.23" r="1.8" fill="#D95319"/>
<circle cx="477.27" cy="487.42" r="1.8" fill="#D95319"/>
<circle cx="485.30" cy="483.90" r="1.8" fill="#D95319"/>
<circle cx="493.34" cy="480.66" r="1.8" fill="#D95319"/>
<circle cx="501.38" cy="477.74" r="1.8" fill="#D95319"/>
<circle cx="509.41" cy="475.23" r="1.8" fill="#D95319"/>
<circle cx="517.45" cy="473.05" r="1.8" fill="#D95319"/>
<circle cx="525.48" cy="471.18" r="1.8" fill="#D95319"/>
<circle cx="533.52" cy="469.53" r="1.8" fill="#D95319"/>
<circle cx="541.55" cy="467.99" r="1.8" fill="#D95319"/>
<circle cx="549.59" cy="466.59" r="1.8" fill="#D95319"/>
<circle cx="557.62" cy="465.35" r="1.8" fill="#D95319"/>
<circle cx="565.66" cy="464.25" r="1.8" fill="#D95319"/>
<polyline points="412.99,557.37 421.02,535.37 429.06,520.71 437.09,510.15 445.13,501.64 453.16,494.90 461.20,489.91 469.23,485.22 477.27,482.29 485.30,479.06 493.34,475.65 501.38,472.61 509.41,470.40 517.45,468.50 525.48,466.67 533.52,464.98 541.55,463.44 549.59,462.05 557.62,460.81 565.66,459.70" fill="none" stroke="#B4C8E6" stroke-width="1.0" stroke-linejoin="round"/>
<path d="M411.49,555.87L414.49,558.87M411.49,558.87L414.49,555.87" stroke="#A6BFE0" stroke-width="1.1" fill="none"/>
<path d="M419.52,533.87L422.52,536.87M419.52,536.87L422.52,533.87" stroke="#A6BFE0" stroke-width="1.1" fill="none"/>
<path d="M427.56,519.21L430.56,522.21M427.56,522.21L430.56,519.21" stroke="#A6BFE0" stroke-width="1.1" fill="none"/>
<path d="M435.59,508.65L438.59,511.65M435.59,511.65L438.59,508.65" stroke="#A6BFE0" stroke-width="1.1" fill="none"/>
<path d="M443.63,500.14L446.63,503.14M443.63,503.14L446.63,500.14" stroke="#A6BFE0" stroke-width="1.1" fill="none"/>
<path d="M451.66,493.40L454.66,496.40M451.66,496.40L454.66,493.40" stroke="#A6BFE0" stroke-width="1.1" fill="none"/>
<path d="M459.70,488.41L462.70,491.41M459.70,491.41L462.70,488.41" stroke="#A6BFE0" stroke-width="1.1" fill="none"/>
<path d="M467.73,483.72L470.73,486.72M467.73,486.72L470.73,483.72" stroke="#A6BFE0" stroke-width="1.1" fill="none"/>
<path d="M475.77,480.79L478.77,483.79M475.77,483.79L478.77,480.79" stroke="#A6BFE0" stroke-width="1.1" fill="none"/>
<path d="M483.80,477.56L486.80,480.56M483.80,480.56L486.80,477.56" stroke="#A6BFE0" stroke-width="1.1" fill="none"/>
<path d="M491.84,474.15L494.84,477.15M491.84,477.15L494.84,474.15" stroke="#A6BFE0" stroke-width="1.1" fill="none"/>
<path d="M499.88,471.11L502.88,474.11M499.88,474.11L502.88,471.11" stroke="#A6BFE0" stroke-width="1.1" fill="none"/>
<path d="M507.91,468.90L510.91,471.90M507.91,471.90L510.91,468.90" stroke="#A6BFE0" stroke-width="1.1" fill="none"/>
<path d="M515.95,467.00L518.95,470.00M515.95,470.00L518.95,467.00" stroke="#A6BFE0" stroke-width="1.1" fill="none"/>
<path d="M523.98,465.17L526.98,468.17M523.98,468.17L526.98,465.17" stroke="#A6BFE0" stroke-width="1.1" fill="none"/>
<path d="M532.02,463.48L535.02,466.48M532.02,466.48L535.02,463.48" stroke="#A6BFE0" stroke-width="1.1" fill="none"/>
<path d="M540.05,461.94L543.05,464.94M540.05,464.94L543.05,461.94" stroke="#A6BFE0" stroke-width="1.1" fill="none"/>
<path d="M548.09,460.55L551.09,463.55M548.09,463.55L551.09,460.55" stroke="#A6BFE0" stroke-width="1.1" fill="none"/>
<path d="M556.12,459.31L559.12,462.31M556.12,462.31L559.12,459.31" stroke="#A6BFE0" stroke-width="1.1" fill="none"/>
<path d="M564.16,458.20L567.16,461.20M564.16,461.20L567.16,458.20" stroke="#A6BFE0" stroke-width="1.1" fill="none"/>
<polyline points="412.99,527.60 421.02,510.30 429.06,498.27 437.09,489.47 445.13,482.43 453.16,477.15 461.20,472.46 469.23,468.65 477.27,465.13 485.30,461.61 493.34,459.55 501.38,457.21 509.41,455.16 517.45,453.69 525.48,452.22 533.52,451.05 541.55,449.58 549.59,448.41 557.62,447.24 565.66,446.36" fill="none" stroke="#0072BD" stroke-width="1.2" stroke-linejoin="round"/>
<path d="M412.99,524.50L415.44,527.60L412.99,530.70L410.54,527.60Z" fill="#0072BD"/>
<path d="M421.02,507.20L423.47,510.30L421.02,513.40L418.57,510.30Z" fill="#0072BD"/>
<path d="M429.06,495.17L431.51,498.27L429.06,501.37L426.61,498.27Z" fill="#0072BD"/>
<path d="M437.09,486.37L439.54,489.47L437.09,492.57L434.64,489.47Z" fill="#0072BD"/>
<path d="M445.13,479.33L447.58,482.43L445.13,485.53L442.68,482.43Z" fill="#0072BD"/>
<path d="M453.16,474.05L455.61,477.15L453.16,480.25L450.71,477.15Z" fill="#0072BD"/>
<path d="M461.20,469.36L463.65,472.46L461.20,475.56L458.75,472.46Z" fill="#0072BD"/>
<path d="M469.23,465.55L471.68,468.65L469.23,471.75L466.78,468.65Z" fill="#0072BD"/>
<path d="M477.27,462.03L479.72,465.13L477.27,468.23L474.82,465.13Z" fill="#0072BD"/>
<path d="M485.30,458.51L487.75,461.61L485.30,464.71L482.85,461.61Z" fill="#0072BD"/>
<path d="M493.34,456.45L495.79,459.55L493.34,462.65L490.89,459.55Z" fill="#0072BD"/>
<path d="M501.38,454.11L503.83,457.21L501.38,460.31L498.93,457.21Z" fill="#0072BD"/>
<path d="M509.41,452.06L511.86,455.16L509.41,458.26L506.96,455.16Z" fill="#0072BD"/>
<path d="M517.45,450.59L519.90,453.69L517.45,456.79L515.00,453.69Z" fill="#0072BD"/>
<path d="M525.48,449.12L527.93,452.22L525.48,455.32L523.03,452.22Z" fill="#0072BD"/>
<path d="M533.52,447.95L535.97,451.05L533.52,454.15L531.07,451.05Z" fill="#0072BD"/>
<path d="M541.55,446.48L544.00,449.58L541.55,452.68L539.10,449.58Z" fill="#0072BD"/>
<path d="M549.59,445.31L552.04,448.41L549.59,451.51L547.14,448.41Z" fill="#0072BD"/>
<path d="M557.62,444.14L560.07,447.24L557.62,450.34L555.17,447.24Z" fill="#0072BD"/>
<path d="M565.66,443.26L568.11,446.36L565.66,449.46L563.21,446.36Z" fill="#0072BD"/>
</g>
<text x="404.95" y="607.50" text-anchor="middle" style="font-size:14.7px" class="t">0</text>
<text x="485.30" y="607.50" text-anchor="middle" style="font-size:14.7px" class="t" clip-path="url(#k24)">10</text>
<text x="565.66" y="607.50" text-anchor="middle" style="font-size:14.7px" class="t">20</text>
<text x="400.55" y="594.80" text-anchor="end" style="font-size:14.7px" class="t">0.8</text>
<text x="400.55" y="565.47" text-anchor="end" style="font-size:14.7px" class="t">0.9</text>
<text x="400.55" y="536.14" text-anchor="end" style="font-size:14.7px" class="t" clip-path="url(#k25)">1</text>
<text x="400.55" y="506.81" text-anchor="end" style="font-size:14.7px" class="t" clip-path="url(#k26)">1.1</text>
<text x="400.55" y="477.48" text-anchor="end" style="font-size:14.7px" class="t" clip-path="url(#k27)">1.2</text>
<text x="485.30" y="435.65" text-anchor="middle" style="font-size:16.3px" class="t">Usair</text>
<text x="485.30" y="627.70" text-anchor="middle" style="font-size:16.3px" class="t">Propagation Time</text>
<g transform="translate(367.15,515.58) rotate(-90)"><text x="-7.91" y="0.00" text-anchor="start" style="font-size:16.3px" class="t">L</text><text x="1.16" y="9.10" text-anchor="start" style="font-size:13.5px" class="t">s</text></g>
<defs><clipPath id="k0"><rect x="115.71" y="163.70" width="19.57" height="15.60"/><rect x="121.17" y="178.80" width="1.37" height="4.20"/><rect x="125.50" y="178.80" width="7.79" height="6.80"/></clipPath><clipPath id="k1"><rect x="33.71" y="64.46" width="11.79" height="15.60"/><rect x="39.17" y="79.56" width="1.37" height="4.20"/></clipPath><clipPath id="k2"><rect x="22.04" y="7.10" width="23.46" height="15.60"/><rect x="27.49" y="22.20" width="1.37" height="4.20"/><rect x="31.82" y="22.20" width="3.89" height="6.80"/><rect x="35.71" y="22.20" width="7.79" height="6.80"/></clipPath><clipPath id="k3"><rect x="352.76" y="163.70" width="19.57" height="15.60"/><rect x="358.22" y="178.80" width="1.37" height="4.20"/><rect x="362.55" y="178.80" width="7.79" height="6.80"/></clipPath><clipPath id="k4"><rect x="270.71" y="150.50" width="11.79" height="15.60"/><rect x="276.17" y="165.60" width="1.37" height="4.20"/></clipPath><clipPath id="k5"><rect x="259.04" y="104.40" width="23.46" height="15.60"/><rect x="264.49" y="119.51" width="1.37" height="4.20"/><rect x="268.82" y="119.51" width="3.89" height="6.80"/><rect x="276.17" y="119.51" width="1.37" height="4.20"/></clipPath><clipPath id="k6"><rect x="259.04" y="58.31" width="23.46" height="15.60"/><rect x="264.49" y="73.41" width="1.37" height="4.20"/><rect x="268.82" y="73.41" width="3.89" height="6.80"/><rect x="272.71" y="73.41" width="7.79" height="6.80"/></clipPath><clipPath id="k7"><rect x="259.04" y="12.21" width="23.46" height="15.60"/><rect x="264.49" y="27.31" width="1.37" height="4.20"/><rect x="268.82" y="27.31" width="3.89" height="6.80"/><rect x="272.71" y="27.31" width="7.79" height="6.80"/></clipPath><clipPath id="k8"><rect x="590.01" y="163.70" width="19.57" height="15.60"/><rect x="595.47" y="178.80" width="1.37" height="4.20"/><rect x="599.80" y="178.80" width="7.79" height="6.80"/></clipPath><clipPath id="k9"><rect x="496.34" y="150.50" width="23.46" height="15.60"/><rect x="501.79" y="165.60" width="1.37" height="4.20"/><rect x="506.12" y="165.60" width="3.89" height="6.80"/><rect x="510.01" y="165.60" width="7.79" height="6.80"/></clipPath><clipPath id="k10"><rect x="496.34" y="121.80" width="23.46" height="15.60"/><rect x="501.79" y="136.90" width="1.37" height="4.20"/><rect x="506.12" y="136.90" width="3.89" height="6.80"/><rect x="510.01" y="136.90" width="7.79" height="6.80"/></clipPath><clipPath id="k11"><rect x="496.34" y="93.10" width="23.46" height="15.60"/><rect x="501.79" y="108.20" width="1.37" height="4.20"/><rect x="506.12" y="108.20" width="3.89" height="6.80"/><rect x="510.01" y="108.20" width="7.79" height="6.80"/></clipPath><clipPath id="k12"><rect x="496.34" y="64.40" width="23.46" height="15.60"/><rect x="501.79" y="79.50" width="1.37" height="4.20"/><rect x="506.12" y="79.50" width="3.89" height="6.80"/><rect x="510.01" y="79.50" width="7.79" height="6.80"/></clipPath><clipPath id="k13"><rect x="496.34" y="35.70" width="23.46" height="15.60"/><rect x="501.79" y="50.80" width="1.37" height="4.20"/><rect x="506.12" y="50.80" width="3.89" height="6.80"/><rect x="510.01" y="50.80" width="7.79" height="6.80"/></clipPath><clipPath id="k14"><rect x="110.26" y="375.10" width="19.57" height="15.60"/><rect x="115.72" y="390.20" width="1.37" height="4.20"/><rect x="120.05" y="390.20" width="7.79" height="6.80"/></clipPath><clipPath id="k15"><rect x="352.76" y="374.50" width="19.57" height="15.60"/><rect x="358.22" y="389.60" width="1.37" height="4.20"/><rect x="362.55" y="389.60" width="7.79" height="6.80"/></clipPath><clipPath id="k16"><rect x="271.71" y="361.30" width="11.79" height="15.60"/><rect x="277.17" y="376.40" width="1.37" height="4.20"/></clipPath><clipPath id="k17"><rect x="260.04" y="304.10" width="23.46" height="15.60"/><rect x="265.49" y="319.20" width="1.37" height="4.20"/><rect x="269.82" y="319.20" width="3.89" height="6.80"/><rect x="277.17" y="319.20" width="1.37" height="4.20"/></clipPath><clipPath id="k18"><rect x="260.04" y="246.90" width="23.46" height="15.60"/><rect x="265.49" y="262.00" width="1.37" height="4.20"/><rect x="269.82" y="262.00" width="3.89" height="6.80"/><rect x="273.71" y="262.00" width="7.79" height="6.80"/></clipPath><clipPath id="k19"><rect x="583.86" y="375.70" width="19.57" height="15.60"/><rect x="589.32" y="390.80" width="1.37" height="4.20"/><rect x="593.65" y="390.80" width="7.79" height="6.80"/></clipPath><clipPath id="k20"><rect x="494.53" y="223.95" width="19.57" height="15.60"/><rect x="499.98" y="239.05" width="1.37" height="4.20"/><rect x="504.31" y="239.05" width="7.79" height="6.80"/></clipPath><clipPath id="k21"><rect x="230.85" y="589.96" width="20.35" height="16.38"/><rect x="236.47" y="605.84" width="1.44" height="4.26"/><rect x="241.02" y="605.84" width="8.18" height="7.14"/></clipPath><clipPath id="k22"><rect x="146.07" y="547.74" width="12.18" height="16.38"/><rect x="151.70" y="563.62" width="1.44" height="4.26"/></clipPath><clipPath id="k23"><rect x="133.81" y="518.22" width="24.44" height="16.38"/><rect x="139.44" y="534.10" width="1.44" height="4.26"/><rect x="143.99" y="534.10" width="4.08" height="7.14"/><rect x="148.07" y="534.10" width="8.18" height="7.14"/></clipPath><clipPath id="k24"><rect x="475.13" y="589.86" width="20.35" height="16.38"/><rect x="480.75" y="605.74" width="1.44" height="4.26"/><rect x="485.30" y="605.74" width="8.18" height="7.14"/></clipPath><clipPath id="k25"><rect x="390.37" y="518.50" width="12.18" height="16.38"/><rect x="396.00" y="534.38" width="1.44" height="4.26"/></clipPath><clipPath id="k26"><rect x="378.11" y="489.17" width="24.44" height="16.38"/><rect x="383.74" y="505.05" width="1.44" height="4.26"/><rect x="388.29" y="505.05" width="4.08" height="7.14"/><rect x="396.00" y="505.05" width="1.44" height="4.26"/></clipPath><clipPath id="k27"><rect x="378.11" y="459.84" width="24.44" height="16.38"/><rect x="383.74" y="475.72" width="1.44" height="4.26"/><rect x="388.29" y="475.72" width="4.08" height="7.14"/><rect x="392.37" y="475.72" width="8.18" height="7.14"/></clipPath></defs>
</svg>
</body></html>
